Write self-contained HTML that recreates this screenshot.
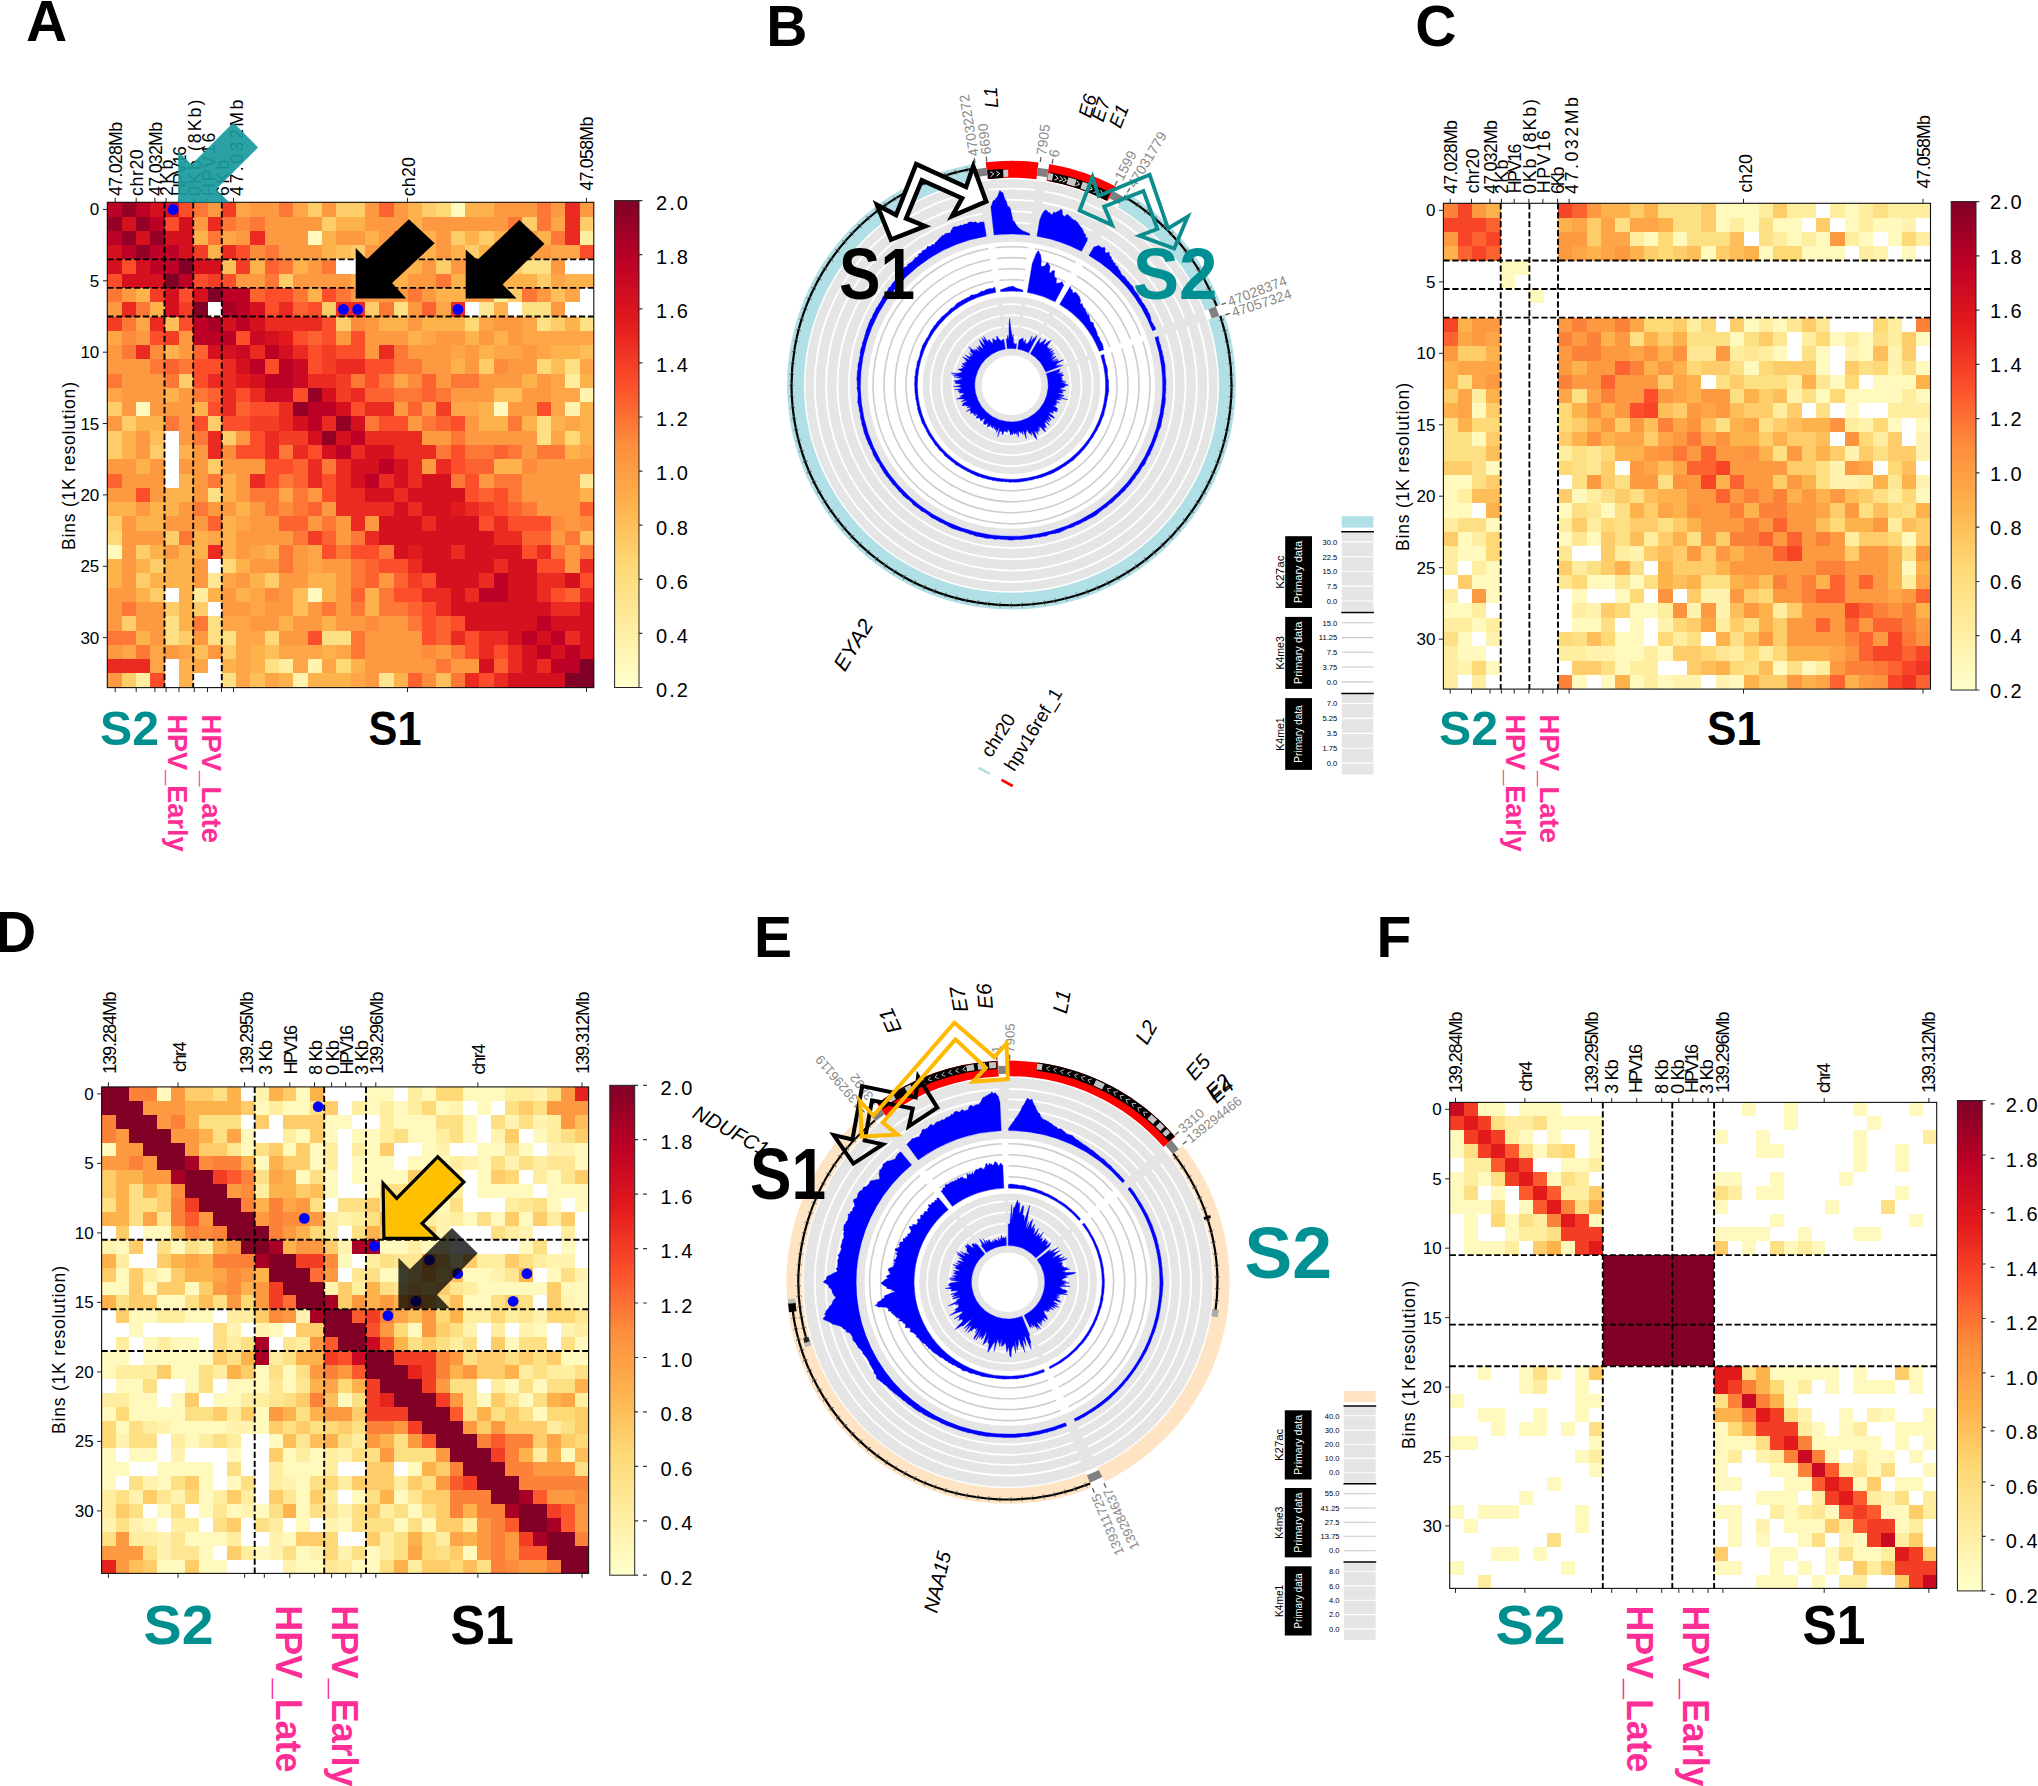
<!DOCTYPE html><html><head><meta charset="utf-8"><title>Figure</title><style>html,body{margin:0;padding:0;background:#fff}svg{display:block}text{font-family:"Liberation Sans",Arial,Helvetica,sans-serif}</style></head><body>
<svg xmlns="http://www.w3.org/2000/svg" width="2038" height="1786" viewBox="0 0 2038 1786">
<rect width="2038" height="1786" fill="#fff"/>
<text x="26" y="40.6" font-size="57" fill="#000" font-weight="bold">A</text>
<text x="766.2" y="45.8" font-size="57" fill="#000" font-weight="bold">B</text>
<text x="1415.3" y="45.8" font-size="57" fill="#000" font-weight="bold">C</text>
<text x="-4.9" y="952.1" font-size="57" fill="#000" font-weight="bold">D</text>
<text x="754.1" y="957.4" font-size="57" fill="#000" font-weight="bold">E</text>
<text x="1376.6" y="957.4" font-size="57" fill="#000" font-weight="bold">F</text>
<g shape-rendering="crispEdges">
<path fill="#bd0026" d="M107.3 202.3H121.6V216.6H107.3ZM135.9 202.3H150.2V216.6H135.9ZM150.2 216.6H164.5V230.8H150.2ZM107.3 230.8H121.6V245.1H107.3ZM121.6 245.1H135.9V259.4H121.6ZM150.2 245.1H164.5V259.4H150.2ZM164.5 245.1H178.8V259.4H164.5ZM150.2 259.4H164.5V273.7H150.2ZM164.5 259.4H178.8V273.7H164.5ZM178.8 273.7H193.2V287.9H178.8ZM221.8 287.9H236.1V302.2H221.8ZM236.1 287.9H250.4V302.2H236.1ZM236.1 302.2H250.4V316.5H236.1ZM193.2 316.5H207.5V330.8H193.2ZM236.1 316.5H250.4V330.8H236.1ZM193.2 330.8H207.5V345H193.2ZM207.5 330.8H221.8V345H207.5ZM221.8 330.8H236.1V345H221.8ZM264.7 345H279V359.3H264.7ZM250.4 359.3H264.7V373.6H250.4ZM279 359.3H293.3V373.6H279ZM264.7 373.6H279V387.9H264.7ZM279 373.6H293.3V387.9H279ZM307.6 402.1H321.9V416.4H307.6ZM321.9 402.1H336.2V416.4H321.9ZM307.6 416.4H321.9V430.7H307.6ZM350.6 430.7H364.9V445H350.6ZM336.2 445H350.6V459.2H336.2ZM379.2 459.2H393.5V473.5H379.2ZM364.9 473.5H379.2V487.8H364.9ZM493.6 573.4H507.9V587.7H493.6ZM479.3 587.7H493.6V602H479.3ZM493.6 587.7H507.9V602H493.6ZM536.6 616.2H550.9V630.5H536.6ZM522.3 630.5H536.6V644.8H522.3ZM550.9 630.5H565.2V644.8H550.9ZM536.6 644.8H550.9V659.1H536.6ZM565.2 644.8H579.5V659.1H565.2ZM550.9 659.1H565.2V673.3H550.9ZM565.2 659.1H579.5V673.3H565.2Z"/>
<path fill="#940026" d="M121.6 202.3H135.9V216.6H121.6ZM107.3 216.6H121.6V230.8H107.3ZM135.9 216.6H150.2V230.8H135.9ZM121.6 230.8H135.9V245.1H121.6ZM150.2 230.8H164.5V245.1H150.2ZM135.9 245.1H150.2V259.4H135.9ZM307.6 387.9H321.9V402.1H307.6ZM293.3 402.1H307.6V416.4H293.3ZM336.2 416.4H350.6V430.7H336.2ZM321.9 430.7H336.2V445H321.9Z"/>
<path fill="#d6111f" d="M150.2 202.3H164.5V216.6H150.2ZM164.5 202.3H178.8V216.6H164.5ZM121.6 216.6H135.9V230.8H121.6ZM178.8 216.6H193.2V230.8H178.8ZM135.9 230.8H150.2V245.1H135.9ZM164.5 230.8H178.8V245.1H164.5ZM178.8 230.8H193.2V245.1H178.8ZM107.3 245.1H121.6V259.4H107.3ZM178.8 245.1H193.2V259.4H178.8ZM107.3 259.4H121.6V273.7H107.3ZM135.9 259.4H150.2V273.7H135.9ZM193.2 259.4H207.5V273.7H193.2ZM207.5 259.4H221.8V273.7H207.5ZM121.6 273.7H135.9V287.9H121.6ZM135.9 273.7H150.2V287.9H135.9ZM150.2 273.7H164.5V287.9H150.2ZM164.5 287.9H178.8V302.2H164.5ZM193.2 287.9H207.5V302.2H193.2ZM164.5 302.2H178.8V316.5H164.5ZM250.4 302.2H264.7V316.5H250.4ZM221.8 316.5H236.1V330.8H221.8ZM250.4 316.5H264.7V330.8H250.4ZM264.7 330.8H279V345H264.7ZM207.5 345H221.8V359.3H207.5ZM221.8 345H236.1V359.3H221.8ZM279 345H293.3V359.3H279ZM236.1 359.3H250.4V373.6H236.1ZM250.4 373.6H264.7V387.9H250.4ZM321.9 387.9H336.2V402.1H321.9ZM336.2 402.1H350.6V416.4H336.2ZM293.3 416.4H307.6V430.7H293.3ZM350.6 416.4H364.9V430.7H350.6ZM307.6 430.7H321.9V445H307.6ZM336.2 430.7H350.6V445H336.2ZM321.9 445H336.2V459.2H321.9ZM364.9 445H379.2V459.2H364.9ZM379.2 445H393.5V459.2H379.2ZM350.6 459.2H364.9V473.5H350.6ZM364.9 459.2H379.2V473.5H364.9ZM393.5 459.2H407.8V473.5H393.5ZM350.6 473.5H364.9V487.8H350.6ZM393.5 473.5H407.8V487.8H393.5ZM422.1 473.5H436.4V487.8H422.1ZM436.4 473.5H450.7V487.8H436.4ZM364.9 487.8H379.2V502H364.9ZM379.2 487.8H393.5V502H379.2ZM407.8 487.8H422.1V502H407.8ZM422.1 487.8H436.4V502H422.1ZM436.4 487.8H450.7V502H436.4ZM450.7 487.8H465V502H450.7ZM393.5 502H407.8V516.3H393.5ZM422.1 502H436.4V516.3H422.1ZM436.4 502H450.7V516.3H436.4ZM379.2 516.3H393.5V530.6H379.2ZM393.5 516.3H407.8V530.6H393.5ZM407.8 516.3H422.1V530.6H407.8ZM436.4 516.3H450.7V530.6H436.4ZM450.7 516.3H465V530.6H450.7ZM465 516.3H479.3V530.6H465ZM379.2 530.6H393.5V544.9H379.2ZM393.5 530.6H407.8V544.9H393.5ZM407.8 530.6H422.1V544.9H407.8ZM422.1 530.6H436.4V544.9H422.1ZM436.4 530.6H450.7V544.9H436.4ZM450.7 530.6H465V544.9H450.7ZM465 530.6H479.3V544.9H465ZM479.3 530.6H493.6V544.9H479.3ZM393.5 544.9H407.8V559.1H393.5ZM422.1 544.9H436.4V559.1H422.1ZM436.4 544.9H450.7V559.1H436.4ZM465 544.9H479.3V559.1H465ZM479.3 544.9H493.6V559.1H479.3ZM493.6 544.9H507.9V559.1H493.6ZM507.9 544.9H522.3V559.1H507.9ZM422.1 559.1H436.4V573.4H422.1ZM436.4 559.1H450.7V573.4H436.4ZM450.7 559.1H465V573.4H450.7ZM465 559.1H479.3V573.4H465ZM479.3 559.1H493.6V573.4H479.3ZM507.9 559.1H522.3V573.4H507.9ZM522.3 559.1H536.6V573.4H522.3ZM436.4 573.4H450.7V587.7H436.4ZM450.7 573.4H465V587.7H450.7ZM465 573.4H479.3V587.7H465ZM507.9 573.4H522.3V587.7H507.9ZM522.3 573.4H536.6V587.7H522.3ZM565.2 573.4H579.5V587.7H565.2ZM450.7 587.7H465V602H450.7ZM507.9 587.7H522.3V602H507.9ZM522.3 587.7H536.6V602H522.3ZM450.7 602H465V616.2H450.7ZM465 602H479.3V616.2H465ZM479.3 602H493.6V616.2H479.3ZM493.6 602H507.9V616.2H493.6ZM507.9 602H522.3V616.2H507.9ZM522.3 602H536.6V616.2H522.3ZM536.6 602H550.9V616.2H536.6ZM579.5 602H593.8V616.2H579.5ZM465 616.2H479.3V630.5H465ZM479.3 616.2H493.6V630.5H479.3ZM493.6 616.2H507.9V630.5H493.6ZM507.9 616.2H522.3V630.5H507.9ZM522.3 616.2H536.6V630.5H522.3ZM550.9 616.2H565.2V630.5H550.9ZM565.2 616.2H579.5V630.5H565.2ZM579.5 616.2H593.8V630.5H579.5ZM507.9 630.5H522.3V644.8H507.9ZM536.6 630.5H550.9V644.8H536.6ZM579.5 630.5H593.8V644.8H579.5ZM522.3 644.8H536.6V659.1H522.3ZM550.9 644.8H565.2V659.1H550.9ZM579.5 644.8H593.8V659.1H579.5ZM479.3 659.1H493.6V673.3H479.3ZM522.3 659.1H536.6V673.3H522.3ZM507.9 673.3H522.3V687.6H507.9ZM522.3 673.3H536.6V687.6H522.3ZM536.6 673.3H550.9V687.6H536.6ZM550.9 673.3H565.2V687.6H550.9Z"/>
<path fill="#fc4e2a" d="M178.8 202.3H193.2V216.6H178.8ZM164.5 216.6H178.8V230.8H164.5ZM393.5 230.8H407.8V245.1H393.5ZM236.1 245.1H250.4V259.4H236.1ZM579.5 245.1H593.8V259.4H579.5ZM121.6 259.4H135.9V273.7H121.6ZM107.3 273.7H121.6V287.9H107.3ZM193.2 273.7H207.5V287.9H193.2ZM221.8 273.7H236.1V287.9H221.8ZM178.8 287.9H193.2V302.2H178.8ZM264.7 287.9H279V302.2H264.7ZM279 287.9H293.3V302.2H279ZM321.9 287.9H336.2V302.2H321.9ZM264.7 302.2H279V316.5H264.7ZM307.6 302.2H321.9V316.5H307.6ZM178.8 316.5H193.2V330.8H178.8ZM321.9 316.5H336.2V330.8H321.9ZM150.2 330.8H164.5V345H150.2ZM236.1 330.8H250.4V345H236.1ZM293.3 330.8H307.6V345H293.3ZM321.9 330.8H336.2V345H321.9ZM350.6 330.8H364.9V345H350.6ZM307.6 345H321.9V359.3H307.6ZM336.2 345H350.6V359.3H336.2ZM350.6 345H364.9V359.3H350.6ZM193.2 359.3H207.5V373.6H193.2ZM207.5 359.3H221.8V373.6H207.5ZM264.7 359.3H279V373.6H264.7ZM307.6 359.3H321.9V373.6H307.6ZM364.9 359.3H379.2V373.6H364.9ZM379.2 359.3H393.5V373.6H379.2ZM193.2 373.6H207.5V387.9H193.2ZM364.9 373.6H379.2V387.9H364.9ZM236.1 387.9H250.4V402.1H236.1ZM293.3 387.9H307.6V402.1H293.3ZM207.5 402.1H221.8V416.4H207.5ZM250.4 402.1H264.7V416.4H250.4ZM264.7 402.1H279V416.4H264.7ZM350.6 402.1H364.9V416.4H350.6ZM536.6 402.1H550.9V416.4H536.6ZM193.2 416.4H207.5V430.7H193.2ZM221.8 416.4H236.1V430.7H221.8ZM236.1 416.4H250.4V430.7H236.1ZM379.2 416.4H393.5V430.7H379.2ZM393.5 416.4H407.8V430.7H393.5ZM450.7 416.4H465V430.7H450.7ZM250.4 430.7H264.7V445H250.4ZM236.1 445H250.4V459.2H236.1ZM250.4 445H264.7V459.2H250.4ZM307.6 445H321.9V459.2H307.6ZM450.7 445H465V459.2H450.7ZM264.7 459.2H279V473.5H264.7ZM279 459.2H293.3V473.5H279ZM450.7 459.2H465V473.5H450.7ZM264.7 473.5H279V487.8H264.7ZM321.9 473.5H336.2V487.8H321.9ZM465 473.5H479.3V487.8H465ZM135.9 487.8H150.2V502H135.9ZM321.9 487.8H336.2V502H321.9ZM465 487.8H479.3V502H465ZM493.6 487.8H507.9V502H493.6ZM493.6 502H507.9V516.3H493.6ZM479.3 516.3H493.6V530.6H479.3ZM507.9 516.3H522.3V530.6H507.9ZM522.3 516.3H536.6V530.6H522.3ZM536.6 516.3H550.9V530.6H536.6ZM321.9 544.9H336.2V559.1H321.9ZM350.6 544.9H364.9V559.1H350.6ZM364.9 544.9H379.2V559.1H364.9ZM522.3 544.9H536.6V559.1H522.3ZM379.2 559.1H393.5V573.4H379.2ZM393.5 559.1H407.8V573.4H393.5ZM536.6 559.1H550.9V573.4H536.6ZM550.9 559.1H565.2V573.4H550.9ZM422.1 573.4H436.4V587.7H422.1ZM579.5 573.4H593.8V587.7H579.5ZM393.5 587.7H407.8V602H393.5ZM407.8 587.7H422.1V602H407.8ZM550.9 587.7H565.2V602H550.9ZM422.1 602H436.4V616.2H422.1ZM422.1 616.2H436.4V630.5H422.1ZM450.7 616.2H465V630.5H450.7ZM307.6 630.5H321.9V644.8H307.6ZM422.1 630.5H436.4V644.8H422.1ZM465 630.5H479.3V644.8H465ZM465 644.8H479.3V659.1H465ZM493.6 644.8H507.9V659.1H493.6ZM150.2 673.3H164.5V687.6H150.2ZM479.3 673.3H493.6V687.6H479.3Z"/>
<path fill="#fd7836" d="M193.2 202.3H207.5V216.6H193.2ZM279 202.3H293.3V216.6H279ZM536.6 202.3H550.9V216.6H536.6ZM221.8 216.6H236.1V230.8H221.8ZM250.4 216.6H264.7V230.8H250.4ZM507.9 216.6H522.3V230.8H507.9ZM536.6 216.6H550.9V230.8H536.6ZM207.5 230.8H221.8V245.1H207.5ZM550.9 230.8H565.2V245.1H550.9ZM264.7 245.1H279V259.4H264.7ZM279 259.4H293.3V273.7H279ZM321.9 259.4H336.2V273.7H321.9ZM264.7 273.7H279V287.9H264.7ZM436.4 273.7H450.7V287.9H436.4ZM107.3 287.9H121.6V302.2H107.3ZM293.3 287.9H307.6V302.2H293.3ZM336.2 287.9H350.6V302.2H336.2ZM407.8 287.9H422.1V302.2H407.8ZM522.3 287.9H536.6V302.2H522.3ZM135.9 302.2H150.2V316.5H135.9ZM379.2 302.2H393.5V316.5H379.2ZM121.6 316.5H135.9V330.8H121.6ZM121.6 345H135.9V359.3H121.6ZM393.5 345H407.8V359.3H393.5ZM150.2 359.3H164.5V373.6H150.2ZM178.8 359.3H193.2V373.6H178.8ZM393.5 359.3H407.8V373.6H393.5ZM407.8 359.3H422.1V373.6H407.8ZM107.3 373.6H121.6V387.9H107.3ZM164.5 373.6H178.8V387.9H164.5ZM350.6 373.6H364.9V387.9H350.6ZM379.2 373.6H393.5V387.9H379.2ZM450.7 373.6H465V387.9H450.7ZM465 373.6H479.3V387.9H465ZM193.2 387.9H207.5V402.1H193.2ZM393.5 387.9H407.8V402.1H393.5ZM407.8 387.9H422.1V402.1H407.8ZM436.4 387.9H450.7V402.1H436.4ZM164.5 416.4H178.8V430.7H164.5ZM364.9 416.4H379.2V430.7H364.9ZM422.1 416.4H436.4V430.7H422.1ZM507.9 416.4H522.3V430.7H507.9ZM193.2 430.7H207.5V445H193.2ZM450.7 430.7H465V445H450.7ZM279 445H293.3V459.2H279ZM436.4 445H450.7V459.2H436.4ZM465 445H479.3V459.2H465ZM479.3 445H493.6V459.2H479.3ZM507.9 445H522.3V459.2H507.9ZM536.6 445H550.9V459.2H536.6ZM550.9 445H565.2V459.2H550.9ZM321.9 459.2H336.2V473.5H321.9ZM207.5 473.5H221.8V487.8H207.5ZM279 473.5H293.3V487.8H279ZM450.7 473.5H465V487.8H450.7ZM493.6 473.5H507.9V487.8H493.6ZM507.9 473.5H522.3V487.8H507.9ZM250.4 487.8H264.7V502H250.4ZM264.7 487.8H279V502H264.7ZM293.3 487.8H307.6V502H293.3ZM507.9 487.8H522.3V502H507.9ZM193.2 502H207.5V516.3H193.2ZM264.7 502H279V516.3H264.7ZM293.3 502H307.6V516.3H293.3ZM522.3 502H536.6V516.3H522.3ZM321.9 516.3H336.2V530.6H321.9ZM178.8 530.6H193.2V544.9H178.8ZM293.3 530.6H307.6V544.9H293.3ZM350.6 530.6H364.9V544.9H350.6ZM565.2 530.6H579.5V544.9H565.2ZM279 544.9H293.3V559.1H279ZM336.2 544.9H350.6V559.1H336.2ZM379.2 544.9H393.5V559.1H379.2ZM550.9 544.9H565.2V559.1H550.9ZM579.5 544.9H593.8V559.1H579.5ZM279 559.1H293.3V573.4H279ZM350.6 559.1H364.9V573.4H350.6ZM350.6 573.4H364.9V587.7H350.6ZM379.2 587.7H393.5V602H379.2ZM121.6 602H135.9V616.2H121.6ZM321.9 602H336.2V616.2H321.9ZM350.6 602H364.9V616.2H350.6ZM379.2 602H393.5V616.2H379.2ZM393.5 602H407.8V616.2H393.5ZM193.2 616.2H207.5V630.5H193.2ZM407.8 616.2H422.1V630.5H407.8ZM107.3 630.5H121.6V644.8H107.3ZM121.6 630.5H135.9V644.8H121.6ZM350.6 630.5H364.9V644.8H350.6ZM135.9 644.8H150.2V659.1H135.9ZM350.6 644.8H364.9V659.1H350.6ZM450.7 644.8H465V659.1H450.7ZM436.4 659.1H450.7V673.3H436.4ZM450.7 673.3H465V687.6H450.7Z"/>
<path fill="#fd9941" d="M207.5 202.3H221.8V216.6H207.5ZM250.4 202.3H264.7V216.6H250.4ZM264.7 202.3H279V216.6H264.7ZM321.9 202.3H336.2V216.6H321.9ZM364.9 202.3H379.2V216.6H364.9ZM393.5 202.3H407.8V216.6H393.5ZM493.6 202.3H507.9V216.6H493.6ZM507.9 202.3H522.3V216.6H507.9ZM522.3 202.3H536.6V216.6H522.3ZM550.9 202.3H565.2V216.6H550.9ZM579.5 202.3H593.8V216.6H579.5ZM193.2 216.6H207.5V230.8H193.2ZM264.7 216.6H279V230.8H264.7ZM279 216.6H293.3V230.8H279ZM293.3 216.6H307.6V230.8H293.3ZM307.6 216.6H321.9V230.8H307.6ZM364.9 216.6H379.2V230.8H364.9ZM379.2 216.6H393.5V230.8H379.2ZM393.5 216.6H407.8V230.8H393.5ZM422.1 216.6H436.4V230.8H422.1ZM436.4 216.6H450.7V230.8H436.4ZM450.7 216.6H465V230.8H450.7ZM465 216.6H479.3V230.8H465ZM479.3 216.6H493.6V230.8H479.3ZM493.6 216.6H507.9V230.8H493.6ZM236.1 230.8H250.4V245.1H236.1ZM264.7 230.8H279V245.1H264.7ZM279 230.8H293.3V245.1H279ZM293.3 230.8H307.6V245.1H293.3ZM336.2 230.8H350.6V245.1H336.2ZM350.6 230.8H364.9V245.1H350.6ZM379.2 230.8H393.5V245.1H379.2ZM407.8 230.8H422.1V245.1H407.8ZM436.4 230.8H450.7V245.1H436.4ZM507.9 230.8H522.3V245.1H507.9ZM522.3 230.8H536.6V245.1H522.3ZM279 245.1H293.3V259.4H279ZM293.3 245.1H307.6V259.4H293.3ZM307.6 245.1H321.9V259.4H307.6ZM364.9 245.1H379.2V259.4H364.9ZM379.2 245.1H393.5V259.4H379.2ZM393.5 245.1H407.8V259.4H393.5ZM436.4 245.1H450.7V259.4H436.4ZM507.9 245.1H522.3V259.4H507.9ZM522.3 245.1H536.6V259.4H522.3ZM536.6 245.1H550.9V259.4H536.6ZM307.6 259.4H321.9V273.7H307.6ZM422.1 259.4H436.4V273.7H422.1ZM450.7 259.4H465V273.7H450.7ZM550.9 259.4H565.2V273.7H550.9ZM236.1 273.7H250.4V287.9H236.1ZM250.4 273.7H264.7V287.9H250.4ZM293.3 273.7H307.6V287.9H293.3ZM307.6 273.7H321.9V287.9H307.6ZM321.9 273.7H336.2V287.9H321.9ZM336.2 273.7H350.6V287.9H336.2ZM364.9 273.7H379.2V287.9H364.9ZM407.8 273.7H422.1V287.9H407.8ZM422.1 273.7H436.4V287.9H422.1ZM121.6 287.9H135.9V302.2H121.6ZM350.6 287.9H364.9V302.2H350.6ZM364.9 287.9H379.2V302.2H364.9ZM379.2 287.9H393.5V302.2H379.2ZM393.5 287.9H407.8V302.2H393.5ZM422.1 287.9H436.4V302.2H422.1ZM465 287.9H479.3V302.2H465ZM479.3 287.9H493.6V302.2H479.3ZM536.6 287.9H550.9V302.2H536.6ZM107.3 302.2H121.6V316.5H107.3ZM407.8 302.2H422.1V316.5H407.8ZM550.9 302.2H565.2V316.5H550.9ZM364.9 316.5H379.2V330.8H364.9ZM407.8 316.5H422.1V330.8H407.8ZM493.6 316.5H507.9V330.8H493.6ZM507.9 316.5H522.3V330.8H507.9ZM135.9 330.8H150.2V345H135.9ZM178.8 330.8H193.2V345H178.8ZM336.2 330.8H350.6V345H336.2ZM364.9 330.8H379.2V345H364.9ZM379.2 330.8H393.5V345H379.2ZM393.5 330.8H407.8V345H393.5ZM436.4 330.8H450.7V345H436.4ZM450.7 330.8H465V345H450.7ZM479.3 330.8H493.6V345H479.3ZM507.9 330.8H522.3V345H507.9ZM107.3 345H121.6V359.3H107.3ZM178.8 345H193.2V359.3H178.8ZM364.9 345H379.2V359.3H364.9ZM407.8 345H422.1V359.3H407.8ZM422.1 345H436.4V359.3H422.1ZM436.4 345H450.7V359.3H436.4ZM465 345H479.3V359.3H465ZM522.3 345H536.6V359.3H522.3ZM107.3 359.3H121.6V373.6H107.3ZM121.6 359.3H135.9V373.6H121.6ZM135.9 359.3H150.2V373.6H135.9ZM422.1 359.3H436.4V373.6H422.1ZM436.4 359.3H450.7V373.6H436.4ZM465 359.3H479.3V373.6H465ZM507.9 359.3H522.3V373.6H507.9ZM522.3 359.3H536.6V373.6H522.3ZM121.6 373.6H135.9V387.9H121.6ZM135.9 373.6H150.2V387.9H135.9ZM150.2 373.6H164.5V387.9H150.2ZM436.4 373.6H450.7V387.9H436.4ZM479.3 373.6H493.6V387.9H479.3ZM493.6 373.6H507.9V387.9H493.6ZM507.9 373.6H522.3V387.9H507.9ZM536.6 373.6H550.9V387.9H536.6ZM121.6 387.9H135.9V402.1H121.6ZM135.9 387.9H150.2V402.1H135.9ZM150.2 387.9H164.5V402.1H150.2ZM178.8 387.9H193.2V402.1H178.8ZM450.7 387.9H465V402.1H450.7ZM465 387.9H479.3V402.1H465ZM479.3 387.9H493.6V402.1H479.3ZM522.3 387.9H536.6V402.1H522.3ZM536.6 387.9H550.9V402.1H536.6ZM121.6 402.1H135.9V416.4H121.6ZM150.2 402.1H164.5V416.4H150.2ZM164.5 402.1H178.8V416.4H164.5ZM178.8 402.1H193.2V416.4H178.8ZM393.5 402.1H407.8V416.4H393.5ZM422.1 402.1H436.4V416.4H422.1ZM507.9 402.1H522.3V416.4H507.9ZM522.3 402.1H536.6V416.4H522.3ZM107.3 416.4H121.6V430.7H107.3ZM178.8 416.4H193.2V430.7H178.8ZM407.8 416.4H422.1V430.7H407.8ZM465 416.4H479.3V430.7H465ZM135.9 430.7H150.2V445H135.9ZM178.8 430.7H193.2V445H178.8ZM236.1 430.7H250.4V445H236.1ZM422.1 430.7H436.4V445H422.1ZM436.4 430.7H450.7V445H436.4ZM465 430.7H479.3V445H465ZM479.3 430.7H493.6V445H479.3ZM493.6 430.7H507.9V445H493.6ZM507.9 430.7H522.3V445H507.9ZM522.3 430.7H536.6V445H522.3ZM135.9 445H150.2V459.2H135.9ZM193.2 445H207.5V459.2H193.2ZM522.3 445H536.6V459.2H522.3ZM107.3 459.2H121.6V473.5H107.3ZM121.6 459.2H135.9V473.5H121.6ZM150.2 459.2H164.5V473.5H150.2ZM178.8 459.2H193.2V473.5H178.8ZM193.2 459.2H207.5V473.5H193.2ZM221.8 459.2H236.1V473.5H221.8ZM236.1 459.2H250.4V473.5H236.1ZM250.4 459.2H264.7V473.5H250.4ZM422.1 459.2H436.4V473.5H422.1ZM536.6 459.2H550.9V473.5H536.6ZM550.9 459.2H565.2V473.5H550.9ZM565.2 459.2H579.5V473.5H565.2ZM579.5 459.2H593.8V473.5H579.5ZM121.6 473.5H135.9V487.8H121.6ZM135.9 473.5H150.2V487.8H135.9ZM150.2 473.5H164.5V487.8H150.2ZM193.2 473.5H207.5V487.8H193.2ZM236.1 473.5H250.4V487.8H236.1ZM479.3 473.5H493.6V487.8H479.3ZM522.3 473.5H536.6V487.8H522.3ZM536.6 473.5H550.9V487.8H536.6ZM550.9 473.5H565.2V487.8H550.9ZM565.2 473.5H579.5V487.8H565.2ZM107.3 487.8H121.6V502H107.3ZM121.6 487.8H135.9V502H121.6ZM150.2 487.8H164.5V502H150.2ZM193.2 487.8H207.5V502H193.2ZM236.1 487.8H250.4V502H236.1ZM307.6 487.8H321.9V502H307.6ZM522.3 487.8H536.6V502H522.3ZM536.6 487.8H550.9V502H536.6ZM550.9 487.8H565.2V502H550.9ZM565.2 487.8H579.5V502H565.2ZM135.9 502H150.2V516.3H135.9ZM178.8 502H193.2V516.3H178.8ZM207.5 502H221.8V516.3H207.5ZM221.8 502H236.1V516.3H221.8ZM250.4 502H264.7V516.3H250.4ZM321.9 502H336.2V516.3H321.9ZM536.6 502H550.9V516.3H536.6ZM550.9 502H565.2V516.3H550.9ZM565.2 502H579.5V516.3H565.2ZM121.6 516.3H135.9V530.6H121.6ZM164.5 516.3H178.8V530.6H164.5ZM178.8 516.3H193.2V530.6H178.8ZM193.2 516.3H207.5V530.6H193.2ZM250.4 516.3H264.7V530.6H250.4ZM264.7 516.3H279V530.6H264.7ZM307.6 516.3H321.9V530.6H307.6ZM336.2 516.3H350.6V530.6H336.2ZM364.9 516.3H379.2V530.6H364.9ZM565.2 516.3H579.5V530.6H565.2ZM121.6 530.6H135.9V544.9H121.6ZM135.9 530.6H150.2V544.9H135.9ZM150.2 530.6H164.5V544.9H150.2ZM236.1 530.6H250.4V544.9H236.1ZM250.4 530.6H264.7V544.9H250.4ZM264.7 530.6H279V544.9H264.7ZM279 530.6H293.3V544.9H279ZM336.2 530.6H350.6V544.9H336.2ZM550.9 530.6H565.2V544.9H550.9ZM121.6 544.9H135.9V559.1H121.6ZM164.5 544.9H178.8V559.1H164.5ZM236.1 544.9H250.4V559.1H236.1ZM293.3 544.9H307.6V559.1H293.3ZM565.2 544.9H579.5V559.1H565.2ZM121.6 559.1H135.9V573.4H121.6ZM193.2 559.1H207.5V573.4H193.2ZM250.4 559.1H264.7V573.4H250.4ZM264.7 559.1H279V573.4H264.7ZM293.3 559.1H307.6V573.4H293.3ZM321.9 559.1H336.2V573.4H321.9ZM336.2 559.1H350.6V573.4H336.2ZM565.2 559.1H579.5V573.4H565.2ZM121.6 573.4H135.9V587.7H121.6ZM193.2 573.4H207.5V587.7H193.2ZM236.1 573.4H250.4V587.7H236.1ZM279 573.4H293.3V587.7H279ZM293.3 573.4H307.6V587.7H293.3ZM336.2 573.4H350.6V587.7H336.2ZM379.2 573.4H393.5V587.7H379.2ZM107.3 587.7H121.6V602H107.3ZM121.6 587.7H135.9V602H121.6ZM221.8 587.7H236.1V602H221.8ZM279 587.7H293.3V602H279ZM336.2 587.7H350.6V602H336.2ZM107.3 602H121.6V616.2H107.3ZM135.9 602H150.2V616.2H135.9ZM150.2 602H164.5V616.2H150.2ZM221.8 602H236.1V616.2H221.8ZM236.1 602H250.4V616.2H236.1ZM264.7 602H279V616.2H264.7ZM279 602H293.3V616.2H279ZM307.6 602H321.9V616.2H307.6ZM336.2 602H350.6V616.2H336.2ZM107.3 616.2H121.6V630.5H107.3ZM135.9 616.2H150.2V630.5H135.9ZM150.2 616.2H164.5V630.5H150.2ZM250.4 616.2H264.7V630.5H250.4ZM264.7 616.2H279V630.5H264.7ZM293.3 616.2H307.6V630.5H293.3ZM307.6 616.2H321.9V630.5H307.6ZM336.2 616.2H350.6V630.5H336.2ZM350.6 616.2H364.9V630.5H350.6ZM379.2 616.2H393.5V630.5H379.2ZM393.5 616.2H407.8V630.5H393.5ZM150.2 630.5H164.5V644.8H150.2ZM193.2 630.5H207.5V644.8H193.2ZM279 630.5H293.3V644.8H279ZM293.3 630.5H307.6V644.8H293.3ZM364.9 630.5H379.2V644.8H364.9ZM379.2 630.5H393.5V644.8H379.2ZM393.5 630.5H407.8V644.8H393.5ZM407.8 630.5H422.1V644.8H407.8ZM107.3 644.8H121.6V659.1H107.3ZM164.5 644.8H178.8V659.1H164.5ZM207.5 644.8H221.8V659.1H207.5ZM364.9 644.8H379.2V659.1H364.9ZM379.2 644.8H393.5V659.1H379.2ZM393.5 644.8H407.8V659.1H393.5ZM407.8 644.8H422.1V659.1H407.8ZM436.4 644.8H450.7V659.1H436.4ZM364.9 659.1H379.2V673.3H364.9ZM379.2 659.1H393.5V673.3H379.2ZM393.5 659.1H407.8V673.3H393.5ZM407.8 659.1H422.1V673.3H407.8ZM422.1 659.1H436.4V673.3H422.1ZM450.7 659.1H465V673.3H450.7ZM465 659.1H479.3V673.3H465ZM107.3 673.3H121.6V687.6H107.3ZM364.9 673.3H379.2V687.6H364.9Z"/>
<path fill="#f43d25" d="M221.8 202.3H236.1V216.6H221.8ZM193.2 245.1H207.5V259.4H193.2ZM236.1 259.4H250.4V273.7H236.1ZM207.5 273.7H221.8V287.9H207.5ZM150.2 287.9H164.5V302.2H150.2ZM178.8 302.2H193.2V316.5H178.8ZM107.3 316.5H121.6V330.8H107.3ZM164.5 330.8H178.8V345H164.5ZM321.9 345H336.2V359.3H321.9ZM321.9 359.3H336.2V373.6H321.9ZM336.2 373.6H350.6V387.9H336.2ZM336.2 387.9H350.6V402.1H336.2ZM436.4 402.1H450.7V416.4H436.4ZM250.4 416.4H264.7V430.7H250.4ZM264.7 416.4H279V430.7H264.7ZM279 430.7H293.3V445H279ZM293.3 430.7H307.6V445H293.3ZM479.3 502H493.6V516.3H479.3ZM307.6 530.6H321.9V544.9H307.6ZM407.8 573.4H422.1V587.7H407.8Z"/>
<path fill="#fea647" d="M236.1 202.3H250.4V216.6H236.1ZM293.3 202.3H307.6V216.6H293.3ZM550.9 216.6H565.2V230.8H550.9ZM221.8 230.8H236.1V245.1H221.8ZM550.9 245.1H565.2V259.4H550.9ZM565.2 245.1H579.5V259.4H565.2ZM550.9 273.7H565.2V287.9H550.9ZM565.2 287.9H579.5V302.2H565.2ZM436.4 302.2H450.7V316.5H436.4ZM135.9 316.5H150.2V330.8H135.9ZM479.3 316.5H493.6V330.8H479.3ZM522.3 316.5H536.6V330.8H522.3ZM107.3 330.8H121.6V345H107.3ZM422.1 330.8H436.4V345H422.1ZM522.3 330.8H536.6V345H522.3ZM536.6 330.8H550.9V345H536.6ZM550.9 330.8H565.2V345H550.9ZM565.2 330.8H579.5V345H565.2ZM579.5 330.8H593.8V345H579.5ZM450.7 345H465V359.3H450.7ZM493.6 345H507.9V359.3H493.6ZM507.9 345H522.3V359.3H507.9ZM536.6 345H550.9V359.3H536.6ZM579.5 359.3H593.8V373.6H579.5ZM393.5 373.6H407.8V387.9H393.5ZM550.9 373.6H565.2V387.9H550.9ZM107.3 387.9H121.6V402.1H107.3ZM550.9 387.9H565.2V402.1H550.9ZM565.2 387.9H579.5V402.1H565.2ZM450.7 402.1H465V416.4H450.7ZM465 402.1H479.3V416.4H465ZM550.9 402.1H565.2V416.4H550.9ZM565.2 416.4H579.5V430.7H565.2ZM550.9 430.7H565.2V445H550.9ZM579.5 445H593.8V459.2H579.5ZM279 487.8H293.3V502H279ZM236.1 516.3H250.4V530.6H236.1ZM207.5 530.6H221.8V544.9H207.5ZM250.4 544.9H264.7V559.1H250.4ZM307.6 544.9H321.9V559.1H307.6ZM307.6 559.1H321.9V573.4H307.6ZM221.8 573.4H236.1V587.7H221.8ZM250.4 587.7H264.7V602H250.4ZM250.4 602H264.7V616.2H250.4ZM221.8 616.2H236.1V630.5H221.8ZM236.1 616.2H250.4V630.5H236.1ZM236.1 630.5H250.4V644.8H236.1ZM250.4 630.5H264.7V644.8H250.4ZM121.6 644.8H135.9V659.1H121.6ZM150.2 644.8H164.5V659.1H150.2ZM178.8 644.8H193.2V659.1H178.8ZM236.1 644.8H250.4V659.1H236.1ZM279 644.8H293.3V659.1H279ZM293.3 644.8H307.6V659.1H293.3ZM307.6 644.8H321.9V659.1H307.6ZM336.2 644.8H350.6V659.1H336.2ZM150.2 659.1H164.5V673.3H150.2ZM193.2 659.1H207.5V673.3H193.2ZM236.1 659.1H250.4V673.3H236.1ZM293.3 659.1H307.6V673.3H293.3ZM321.9 659.1H336.2V673.3H321.9ZM236.1 673.3H250.4V687.6H236.1ZM264.7 673.3H279V687.6H264.7ZM350.6 673.3H364.9V687.6H350.6Z"/>
<path fill="#fecc68" d="M307.6 202.3H321.9V216.6H307.6ZM336.2 202.3H350.6V216.6H336.2ZM350.6 202.3H364.9V216.6H350.6ZM422.1 202.3H436.4V216.6H422.1ZM321.9 216.6H336.2V230.8H321.9ZM522.3 216.6H536.6V230.8H522.3ZM579.5 216.6H593.8V230.8H579.5ZM450.7 230.8H465V245.1H450.7ZM479.3 230.8H493.6V245.1H479.3ZM350.6 245.1H364.9V259.4H350.6ZM465 245.1H479.3V259.4H465ZM493.6 245.1H507.9V259.4H493.6ZM436.4 259.4H450.7V273.7H436.4ZM507.9 259.4H522.3V273.7H507.9ZM279 273.7H293.3V287.9H279ZM536.6 273.7H550.9V287.9H536.6ZM507.9 287.9H522.3V302.2H507.9ZM321.9 302.2H336.2V316.5H321.9ZM364.9 302.2H379.2V316.5H364.9ZM336.2 316.5H350.6V330.8H336.2ZM550.9 316.5H565.2V330.8H550.9ZM479.3 359.3H493.6V373.6H479.3ZM178.8 373.6H193.2V387.9H178.8ZM107.3 402.1H121.6V416.4H107.3ZM121.6 416.4H135.9V430.7H121.6ZM207.5 416.4H221.8V430.7H207.5ZM107.3 430.7H121.6V445H107.3ZM221.8 430.7H236.1V445H221.8ZM107.3 445H121.6V459.2H107.3ZM150.2 445H164.5V459.2H150.2ZM207.5 459.2H221.8V473.5H207.5ZM107.3 516.3H121.6V530.6H107.3ZM164.5 530.6H178.8V544.9H164.5ZM135.9 544.9H150.2V559.1H135.9ZM150.2 559.1H164.5V573.4H150.2ZM135.9 573.4H150.2V587.7H135.9ZM264.7 573.4H279V587.7H264.7ZM150.2 587.7H164.5V602H150.2ZM164.5 602H178.8V616.2H164.5ZM193.2 602H207.5V616.2H193.2ZM121.6 616.2H135.9V630.5H121.6ZM178.8 630.5H193.2V644.8H178.8ZM221.8 644.8H236.1V659.1H221.8ZM121.6 673.3H135.9V687.6H121.6Z"/>
<path fill="#fc6330" d="M379.2 202.3H393.5V216.6H379.2ZM264.7 259.4H279V273.7H264.7ZM250.4 287.9H264.7V302.2H250.4ZM293.3 302.2H307.6V316.5H293.3ZM422.1 302.2H436.4V316.5H422.1ZM307.6 330.8H321.9V345H307.6ZM193.2 345H207.5V359.3H193.2ZM164.5 359.3H178.8V373.6H164.5ZM422.1 373.6H436.4V387.9H422.1ZM207.5 387.9H221.8V402.1H207.5ZM364.9 387.9H379.2V402.1H364.9ZM379.2 387.9H393.5V402.1H379.2ZM422.1 387.9H436.4V402.1H422.1ZM236.1 402.1H250.4V416.4H236.1ZM407.8 402.1H422.1V416.4H407.8ZM436.4 416.4H450.7V430.7H436.4ZM493.6 445H507.9V459.2H493.6ZM293.3 459.2H307.6V473.5H293.3ZM465 459.2H479.3V473.5H465ZM479.3 459.2H493.6V473.5H479.3ZM107.3 473.5H121.6V487.8H107.3ZM293.3 473.5H307.6V487.8H293.3ZM479.3 487.8H493.6V502H479.3ZM307.6 502H321.9V516.3H307.6ZM507.9 502H522.3V516.3H507.9ZM579.5 502H593.8V516.3H579.5ZM207.5 516.3H221.8V530.6H207.5ZM279 516.3H293.3V530.6H279ZM293.3 516.3H307.6V530.6H293.3ZM321.9 530.6H336.2V544.9H321.9ZM522.3 530.6H536.6V544.9H522.3ZM536.6 530.6H550.9V544.9H536.6ZM364.9 559.1H379.2V573.4H364.9ZM364.9 573.4H379.2V587.7H364.9ZM393.5 573.4H407.8V587.7H393.5ZM350.6 587.7H364.9V602H350.6ZM565.2 587.7H579.5V602H565.2ZM407.8 602H422.1V616.2H407.8ZM436.4 616.2H450.7V630.5H436.4ZM436.4 630.5H450.7V644.8H436.4ZM493.6 659.1H507.9V673.3H493.6ZM407.8 673.3H422.1V687.6H407.8Z"/>
<path fill="#feb24c" d="M407.8 202.3H422.1V216.6H407.8ZM465 202.3H479.3V216.6H465ZM479.3 202.3H493.6V216.6H479.3ZM336.2 216.6H350.6V230.8H336.2ZM350.6 216.6H364.9V230.8H350.6ZM407.8 216.6H422.1V230.8H407.8ZM193.2 230.8H207.5V245.1H193.2ZM321.9 230.8H336.2V245.1H321.9ZM364.9 230.8H379.2V245.1H364.9ZM422.1 230.8H436.4V245.1H422.1ZM465 230.8H479.3V245.1H465ZM493.6 230.8H507.9V245.1H493.6ZM536.6 230.8H550.9V245.1H536.6ZM207.5 245.1H221.8V259.4H207.5ZM321.9 245.1H336.2V259.4H321.9ZM407.8 245.1H422.1V259.4H407.8ZM422.1 245.1H436.4V259.4H422.1ZM450.7 245.1H465V259.4H450.7ZM479.3 245.1H493.6V259.4H479.3ZM250.4 259.4H264.7V273.7H250.4ZM293.3 259.4H307.6V273.7H293.3ZM393.5 259.4H407.8V273.7H393.5ZM407.8 259.4H422.1V273.7H407.8ZM465 259.4H479.3V273.7H465ZM479.3 259.4H493.6V273.7H479.3ZM350.6 273.7H364.9V287.9H350.6ZM379.2 273.7H393.5V287.9H379.2ZM393.5 273.7H407.8V287.9H393.5ZM450.7 273.7H465V287.9H450.7ZM465 273.7H479.3V287.9H465ZM479.3 273.7H493.6V287.9H479.3ZM493.6 273.7H507.9V287.9H493.6ZM507.9 273.7H522.3V287.9H507.9ZM522.3 273.7H536.6V287.9H522.3ZM565.2 273.7H579.5V287.9H565.2ZM579.5 273.7H593.8V287.9H579.5ZM135.9 287.9H150.2V302.2H135.9ZM307.6 287.9H321.9V302.2H307.6ZM436.4 287.9H450.7V302.2H436.4ZM450.7 287.9H465V302.2H450.7ZM150.2 302.2H164.5V316.5H150.2ZM493.6 302.2H507.9V316.5H493.6ZM379.2 316.5H393.5V330.8H379.2ZM393.5 316.5H407.8V330.8H393.5ZM422.1 316.5H436.4V330.8H422.1ZM436.4 316.5H450.7V330.8H436.4ZM450.7 316.5H465V330.8H450.7ZM565.2 316.5H579.5V330.8H565.2ZM407.8 330.8H422.1V345H407.8ZM465 330.8H479.3V345H465ZM493.6 330.8H507.9V345H493.6ZM164.5 345H178.8V359.3H164.5ZM479.3 345H493.6V359.3H479.3ZM550.9 345H565.2V359.3H550.9ZM565.2 345H579.5V359.3H565.2ZM450.7 359.3H465V373.6H450.7ZM522.3 373.6H536.6V387.9H522.3ZM579.5 373.6H593.8V387.9H579.5ZM164.5 387.9H178.8V402.1H164.5ZM193.2 402.1H207.5V416.4H193.2ZM479.3 402.1H493.6V416.4H479.3ZM579.5 402.1H593.8V416.4H579.5ZM135.9 416.4H150.2V430.7H135.9ZM150.2 416.4H164.5V430.7H150.2ZM479.3 416.4H493.6V430.7H479.3ZM493.6 416.4H507.9V430.7H493.6ZM522.3 416.4H536.6V430.7H522.3ZM550.9 416.4H565.2V430.7H550.9ZM579.5 416.4H593.8V430.7H579.5ZM121.6 430.7H135.9V445H121.6ZM579.5 430.7H593.8V445H579.5ZM121.6 445H135.9V459.2H121.6ZM178.8 445H193.2V459.2H178.8ZM565.2 445H579.5V459.2H565.2ZM135.9 459.2H150.2V473.5H135.9ZM493.6 459.2H507.9V473.5H493.6ZM507.9 459.2H522.3V473.5H507.9ZM178.8 473.5H193.2V487.8H178.8ZM221.8 473.5H236.1V487.8H221.8ZM164.5 487.8H178.8V502H164.5ZM178.8 487.8H193.2V502H178.8ZM221.8 487.8H236.1V502H221.8ZM579.5 487.8H593.8V502H579.5ZM107.3 502H121.6V516.3H107.3ZM121.6 502H135.9V516.3H121.6ZM150.2 502H164.5V516.3H150.2ZM164.5 502H178.8V516.3H164.5ZM236.1 502H250.4V516.3H236.1ZM135.9 516.3H150.2V530.6H135.9ZM150.2 516.3H164.5V530.6H150.2ZM221.8 516.3H236.1V530.6H221.8ZM193.2 530.6H207.5V544.9H193.2ZM221.8 530.6H236.1V544.9H221.8ZM150.2 544.9H164.5V559.1H150.2ZM178.8 544.9H193.2V559.1H178.8ZM193.2 544.9H207.5V559.1H193.2ZM221.8 544.9H236.1V559.1H221.8ZM264.7 544.9H279V559.1H264.7ZM107.3 559.1H121.6V573.4H107.3ZM135.9 559.1H150.2V573.4H135.9ZM164.5 559.1H178.8V573.4H164.5ZM178.8 559.1H193.2V573.4H178.8ZM236.1 559.1H250.4V573.4H236.1ZM107.3 573.4H121.6V587.7H107.3ZM150.2 573.4H164.5V587.7H150.2ZM164.5 573.4H178.8V587.7H164.5ZM178.8 573.4H193.2V587.7H178.8ZM250.4 573.4H264.7V587.7H250.4ZM307.6 573.4H321.9V587.7H307.6ZM321.9 573.4H336.2V587.7H321.9ZM135.9 587.7H150.2V602H135.9ZM178.8 587.7H193.2V602H178.8ZM207.5 587.7H221.8V602H207.5ZM236.1 587.7H250.4V602H236.1ZM321.9 587.7H336.2V602H321.9ZM364.9 587.7H379.2V602H364.9ZM178.8 602H193.2V616.2H178.8ZM364.9 602H379.2V616.2H364.9ZM178.8 616.2H193.2V630.5H178.8ZM279 616.2H293.3V630.5H279ZM321.9 616.2H336.2V630.5H321.9ZM135.9 630.5H150.2V644.8H135.9ZM250.4 644.8H264.7V659.1H250.4ZM321.9 644.8H336.2V659.1H321.9ZM178.8 659.1H193.2V673.3H178.8ZM221.8 659.1H236.1V673.3H221.8ZM250.4 659.1H264.7V673.3H250.4ZM350.6 659.1H364.9V673.3H350.6ZM178.8 673.3H193.2V687.6H178.8ZM279 673.3H293.3V687.6H279ZM307.6 673.3H321.9V687.6H307.6ZM321.9 673.3H336.2V687.6H321.9ZM336.2 673.3H350.6V687.6H336.2ZM393.5 673.3H407.8V687.6H393.5Z"/>
<path fill="#fed976" d="M436.4 202.3H450.7V216.6H436.4ZM465 316.5H479.3V330.8H465ZM536.6 359.3H550.9V373.6H536.6ZM565.2 430.7H579.5V445H565.2ZM107.3 530.6H121.6V544.9H107.3ZM221.8 559.1H236.1V573.4H221.8ZM264.7 630.5H279V644.8H264.7ZM336.2 659.1H350.6V673.3H336.2Z"/>
<path fill="#fff9bd" d="M450.7 202.3H465V216.6H450.7ZM307.6 230.8H321.9V245.1H307.6ZM135.9 402.1H150.2V416.4H135.9ZM493.6 402.1H507.9V416.4H493.6ZM107.3 544.9H121.6V559.1H107.3ZM307.6 587.7H321.9V602H307.6Z"/>
<path fill="#eb2b21" d="M565.2 202.3H579.5V216.6H565.2ZM207.5 216.6H221.8V230.8H207.5ZM565.2 216.6H579.5V230.8H565.2ZM250.4 230.8H264.7V245.1H250.4ZM565.2 230.8H579.5V245.1H565.2ZM221.8 245.1H236.1V259.4H221.8ZM121.6 302.2H135.9V316.5H121.6ZM279 302.2H293.3V316.5H279ZM336.2 302.2H350.6V316.5H336.2ZM350.6 302.2H364.9V316.5H350.6ZM450.7 302.2H465V316.5H450.7ZM150.2 316.5H164.5V330.8H150.2ZM264.7 316.5H279V330.8H264.7ZM279 316.5H293.3V330.8H279ZM293.3 316.5H307.6V330.8H293.3ZM307.6 316.5H321.9V330.8H307.6ZM135.9 345H150.2V359.3H135.9ZM250.4 345H264.7V359.3H250.4ZM293.3 345H307.6V359.3H293.3ZM379.2 345H393.5V359.3H379.2ZM221.8 359.3H236.1V373.6H221.8ZM336.2 359.3H350.6V373.6H336.2ZM350.6 359.3H364.9V373.6H350.6ZM207.5 373.6H221.8V387.9H207.5ZM221.8 373.6H236.1V387.9H221.8ZM307.6 373.6H321.9V387.9H307.6ZM321.9 373.6H336.2V387.9H321.9ZM221.8 387.9H236.1V402.1H221.8ZM250.4 387.9H264.7V402.1H250.4ZM350.6 387.9H364.9V402.1H350.6ZM221.8 402.1H236.1V416.4H221.8ZM279 402.1H293.3V416.4H279ZM364.9 402.1H379.2V416.4H364.9ZM379.2 402.1H393.5V416.4H379.2ZM279 416.4H293.3V430.7H279ZM321.9 416.4H336.2V430.7H321.9ZM207.5 430.7H221.8V445H207.5ZM264.7 430.7H279V445H264.7ZM364.9 430.7H379.2V445H364.9ZM379.2 430.7H393.5V445H379.2ZM393.5 430.7H407.8V445H393.5ZM407.8 430.7H422.1V445H407.8ZM207.5 445H221.8V459.2H207.5ZM264.7 445H279V459.2H264.7ZM293.3 445H307.6V459.2H293.3ZM350.6 445H364.9V459.2H350.6ZM393.5 445H407.8V459.2H393.5ZM407.8 445H422.1V459.2H407.8ZM422.1 445H436.4V459.2H422.1ZM307.6 459.2H321.9V473.5H307.6ZM336.2 459.2H350.6V473.5H336.2ZM407.8 459.2H422.1V473.5H407.8ZM436.4 459.2H450.7V473.5H436.4ZM250.4 473.5H264.7V487.8H250.4ZM307.6 473.5H321.9V487.8H307.6ZM336.2 473.5H350.6V487.8H336.2ZM379.2 473.5H393.5V487.8H379.2ZM407.8 473.5H422.1V487.8H407.8ZM336.2 487.8H350.6V502H336.2ZM350.6 487.8H364.9V502H350.6ZM393.5 487.8H407.8V502H393.5ZM336.2 502H350.6V516.3H336.2ZM350.6 502H364.9V516.3H350.6ZM364.9 502H379.2V516.3H364.9ZM379.2 502H393.5V516.3H379.2ZM407.8 502H422.1V516.3H407.8ZM465 502H479.3V516.3H465ZM350.6 516.3H364.9V530.6H350.6ZM422.1 516.3H436.4V530.6H422.1ZM493.6 516.3H507.9V530.6H493.6ZM364.9 530.6H379.2V544.9H364.9ZM493.6 530.6H507.9V544.9H493.6ZM507.9 530.6H522.3V544.9H507.9ZM207.5 544.9H221.8V559.1H207.5ZM450.7 544.9H465V559.1H450.7ZM536.6 544.9H550.9V559.1H536.6ZM407.8 559.1H422.1V573.4H407.8ZM493.6 559.1H507.9V573.4H493.6ZM579.5 559.1H593.8V573.4H579.5ZM479.3 573.4H493.6V587.7H479.3ZM536.6 573.4H550.9V587.7H536.6ZM550.9 573.4H565.2V587.7H550.9ZM422.1 587.7H436.4V602H422.1ZM436.4 587.7H450.7V602H436.4ZM465 587.7H479.3V602H465ZM536.6 587.7H550.9V602H536.6ZM579.5 587.7H593.8V602H579.5ZM436.4 602H450.7V616.2H436.4ZM550.9 602H565.2V616.2H550.9ZM565.2 602H579.5V616.2H565.2ZM450.7 630.5H465V644.8H450.7ZM479.3 630.5H493.6V644.8H479.3ZM493.6 630.5H507.9V644.8H493.6ZM565.2 630.5H579.5V644.8H565.2ZM479.3 644.8H493.6V659.1H479.3ZM507.9 644.8H522.3V659.1H507.9ZM107.3 659.1H121.6V673.3H107.3ZM121.6 659.1H135.9V673.3H121.6ZM135.9 659.1H150.2V673.3H135.9ZM507.9 659.1H522.3V673.3H507.9ZM536.6 659.1H550.9V673.3H536.6ZM465 673.3H479.3V687.6H465ZM493.6 673.3H507.9V687.6H493.6Z"/>
<path fill="#fd8d3c" d="M236.1 216.6H250.4V230.8H236.1ZM250.4 245.1H264.7V259.4H250.4ZM350.6 316.5H364.9V330.8H350.6ZM121.6 330.8H135.9V345H121.6ZM150.2 345H164.5V359.3H150.2ZM493.6 359.3H507.9V373.6H493.6ZM407.8 373.6H422.1V387.9H407.8ZM221.8 445H236.1V459.2H221.8ZM522.3 459.2H536.6V473.5H522.3ZM279 502H293.3V516.3H279ZM550.9 516.3H565.2V530.6H550.9ZM579.5 516.3H593.8V530.6H579.5ZM264.7 587.7H279V602H264.7ZM364.9 616.2H379.2V630.5H364.9ZM422.1 644.8H436.4V659.1H422.1ZM422.1 673.3H436.4V687.6H422.1Z"/>
<path fill="#ffeda0" d="M579.5 230.8H593.8V245.1H579.5ZM493.6 287.9H507.9V302.2H493.6ZM565.2 373.6H579.5V387.9H565.2ZM193.2 587.7H207.5V602H193.2ZM279 659.1H293.3V673.3H279ZM135.9 673.3H150.2V687.6H135.9Z"/>
<path fill="#febf5a" d="M336.2 245.1H350.6V259.4H336.2ZM221.8 259.4H236.1V273.7H221.8ZM550.9 287.9H565.2V302.2H550.9ZM164.5 316.5H178.8V330.8H164.5ZM579.5 345H593.8V359.3H579.5ZM550.9 359.3H565.2V373.6H550.9ZM493.6 387.9H507.9V402.1H493.6ZM507.9 387.9H522.3V402.1H507.9ZM150.2 430.7H164.5V445H150.2ZM579.5 530.6H593.8V544.9H579.5ZM293.3 587.7H307.6V602H293.3ZM293.3 602H307.6V616.2H293.3ZM193.2 644.8H207.5V659.1H193.2ZM264.7 644.8H279V659.1H264.7ZM250.4 673.3H264.7V687.6H250.4ZM436.4 673.3H450.7V687.6H436.4Z"/>
<path fill="#800026" d="M178.8 259.4H193.2V273.7H178.8ZM164.5 273.7H178.8V287.9H164.5ZM207.5 287.9H221.8V302.2H207.5ZM193.2 302.2H207.5V316.5H193.2ZM579.5 659.1H593.8V673.3H579.5ZM565.2 673.3H579.5V687.6H565.2ZM579.5 673.3H593.8V687.6H579.5Z"/>
<path fill="#fee084" d="M522.3 259.4H536.6V273.7H522.3ZM536.6 259.4H550.9V273.7H536.6ZM393.5 302.2H407.8V316.5H393.5ZM522.3 302.2H536.6V316.5H522.3ZM536.6 302.2H550.9V316.5H536.6ZM536.6 316.5H550.9V330.8H536.6ZM579.5 316.5H593.8V330.8H579.5ZM565.2 359.3H579.5V373.6H565.2ZM536.6 416.4H550.9V430.7H536.6ZM536.6 430.7H550.9V445H536.6ZM207.5 487.8H221.8V502H207.5ZM164.5 616.2H178.8V630.5H164.5ZM207.5 616.2H221.8V630.5H207.5ZM164.5 630.5H178.8V644.8H164.5ZM207.5 630.5H221.8V644.8H207.5ZM221.8 630.5H236.1V644.8H221.8ZM321.9 630.5H336.2V644.8H321.9ZM336.2 630.5H350.6V644.8H336.2ZM264.7 659.1H279V673.3H264.7ZM221.8 673.3H236.1V687.6H221.8Z"/>
<path fill="#a90026" d="M221.8 302.2H236.1V316.5H221.8ZM207.5 316.5H221.8V330.8H207.5Z"/>
<path fill="#ffe692" d="M479.3 302.2H493.6V316.5H479.3ZM579.5 473.5H593.8V487.8H579.5ZM207.5 573.4H221.8V587.7H207.5ZM379.2 673.3H393.5V687.6H379.2Z"/>
<path fill="#ca0923" d="M250.4 330.8H264.7V345H250.4ZM236.1 345H250.4V359.3H236.1ZM293.3 359.3H307.6V373.6H293.3ZM293.3 373.6H307.6V387.9H293.3ZM264.7 387.9H279V402.1H264.7ZM279 387.9H293.3V402.1H279Z"/>
<path fill="#e31a1c" d="M279 330.8H293.3V345H279ZM236.1 373.6H250.4V387.9H236.1ZM450.7 502H465V516.3H450.7ZM407.8 544.9H422.1V559.1H407.8Z"/>
<path fill="#fff3af" d="M579.5 387.9H593.8V402.1H579.5ZM565.2 402.1H579.5V416.4H565.2ZM307.6 659.1H321.9V673.3H307.6ZM293.3 673.3H307.6V687.6H293.3Z"/>
</g>
<rect x="107.3" y="202.3" width="486.5" height="485.3" fill="none" stroke="#111" stroke-width="1.1"/>
<text x="99.3" y="215.4" font-size="17" fill="#000" text-anchor="end">0</text>
<text x="99.3" y="286.8" font-size="17" fill="#000" text-anchor="end">5</text>
<text x="99.3" y="358.2" font-size="17" fill="#000" text-anchor="end">10</text>
<text x="99.3" y="429.5" font-size="17" fill="#000" text-anchor="end">15</text>
<text x="99.3" y="500.9" font-size="17" fill="#000" text-anchor="end">20</text>
<text x="99.3" y="572.3" font-size="17" fill="#000" text-anchor="end">25</text>
<text x="99.3" y="643.6" font-size="17" fill="#000" text-anchor="end">30</text>
<path d="M115.2 202.3v-4.5M115.2 687.6v4.5M136.2 202.3v-4.5M136.2 687.6v4.5M154.9 202.3v-4.5M154.9 687.6v4.5M166.1 202.3v-4.5M166.1 687.6v4.5M179 202.3v-4.5M179 687.6v4.5M194.3 202.3v-4.5M194.3 687.6v4.5M207.5 202.3v-4.5M207.5 687.6v4.5M221.5 202.3v-4.5M221.5 687.6v4.5M233.5 202.3v-4.5M233.5 687.6v4.5M407.5 202.3v-4.5M407.5 687.6v4.5M586.5 202.3v-4.5M586.5 687.6v4.5M107.3 209.4h-4.5M107.3 280.8h-4.5M107.3 352.2h-4.5M107.3 423.5h-4.5M107.3 494.9h-4.5M107.3 566.3h-4.5M107.3 637.6h-4.5" stroke="#222" stroke-width="1" fill="none"/>
<path d="M164.5 202.3V687.6M107.3 259.4H593.8M193.2 202.3V687.6M107.3 287.9H593.8M221.8 202.3V687.6M107.3 316.5H593.8" stroke="#000" stroke-width="1.9" stroke-dasharray="6.2 2.7" fill="none"/>
<text transform="translate(121.8 195.9) rotate(-90)" font-size="17.8" fill="#000" textLength="74" lengthAdjust="spacing" >47.028Mb</text>
<text transform="translate(143.2 195.9) rotate(-90)" font-size="17.8" fill="#000" textLength="46.6" lengthAdjust="spacing" >chr20</text>
<text transform="translate(161.8 195.9) rotate(-90)" font-size="17.8" fill="#000" textLength="74" lengthAdjust="spacing" >47.032Mb</text>
<text transform="translate(172.6 195.9) rotate(-90)" font-size="17.8" fill="#000" textLength="36.4" lengthAdjust="spacing" >2Kb</text>
<text transform="translate(186 195.9) rotate(-90)" font-size="17.8" fill="#000" textLength="49.8" lengthAdjust="spacing" >HPV16</text>
<text transform="translate(200.7 195.9) rotate(-90)" font-size="17.8" fill="#000" textLength="96.3" lengthAdjust="spacing" >0Kb (8Kb)</text>
<text transform="translate(214.7 195.9) rotate(-90)" font-size="17.8" fill="#000" textLength="63.2" lengthAdjust="spacing" >HPV16</text>
<text transform="translate(228.8 195.9) rotate(-90)" font-size="17.8" fill="#000" textLength="36" lengthAdjust="spacing" >6Kb</text>
<text transform="translate(242.8 195.9) rotate(-90)" font-size="17.8" fill="#000" textLength="96.3" lengthAdjust="spacing" >47.032Mb</text>
<text transform="translate(414.8 196.3) rotate(-90)" font-size="17.8" fill="#000" textLength="39.2" lengthAdjust="spacing" >ch20</text>
<text transform="translate(593.3 190.7) rotate(-90)" font-size="17.8" fill="#000" textLength="74" lengthAdjust="spacing" >47.058Mb</text>
<text transform="translate(74.5 466) rotate(-90)" font-size="17.5" fill="#000" textLength="168" lengthAdjust="spacing" text-anchor="middle" >Bins (1K resolution)</text>
<defs><linearGradient id="cbA" x1="0" y1="0" x2="0" y2="1"><stop offset="0%" stop-color="#800026"/><stop offset="12.5%" stop-color="#bd0026"/><stop offset="25%" stop-color="#e31a1c"/><stop offset="37.5%" stop-color="#fc4e2a"/><stop offset="50%" stop-color="#fd8d3c"/><stop offset="62.5%" stop-color="#feb24c"/><stop offset="75%" stop-color="#fed976"/><stop offset="87.5%" stop-color="#ffeda0"/><stop offset="100%" stop-color="#ffffcc"/></linearGradient></defs>
<rect x="614.6" y="200.6" width="24.4" height="486.9" fill="url(#cbA)" stroke="#222" stroke-width="1"/>
<text x="656.1" y="209.9" font-size="20" fill="#000" textLength="31.8" lengthAdjust="spacing">2.0</text>
<text x="656.1" y="264" font-size="20" fill="#000" textLength="31.8" lengthAdjust="spacing">1.8</text>
<text x="656.1" y="318.1" font-size="20" fill="#000" textLength="31.8" lengthAdjust="spacing">1.6</text>
<text x="656.1" y="372.2" font-size="20" fill="#000" textLength="31.8" lengthAdjust="spacing">1.4</text>
<text x="656.1" y="426.3" font-size="20" fill="#000" textLength="31.8" lengthAdjust="spacing">1.2</text>
<text x="656.1" y="480.4" font-size="20" fill="#000" textLength="31.8" lengthAdjust="spacing">1.0</text>
<text x="656.1" y="534.5" font-size="20" fill="#000" textLength="31.8" lengthAdjust="spacing">0.8</text>
<text x="656.1" y="588.6" font-size="20" fill="#000" textLength="31.8" lengthAdjust="spacing">0.6</text>
<text x="656.1" y="642.7" font-size="20" fill="#000" textLength="31.8" lengthAdjust="spacing">0.4</text>
<text x="656.1" y="696.8" font-size="20" fill="#000" textLength="31.8" lengthAdjust="spacing">0.2</text>
<path d="M639 200.6h3.4M639 254.7h3.4M639 308.8h3.4M639 362.9h3.4M639 417h3.4M639 471.1h3.4M639 525.2h3.4M639 579.3h3.4M639 633.4h3.4M639 687.5h3.4" stroke="#333" stroke-width="1.2"/>
<path d="M178.2 202.5L178.2 151.2L191.5 164.5L233.4 122.5L258.1 147.4L216.2 189.3L229.5 202.5Z" fill="#1a9a9d" fill-opacity="0.93"/>
<circle cx="173.1" cy="209.5" r="5.4" fill="#0000ff"/><circle cx="343.4" cy="309.4" r="5.4" fill="#0000ff"/><circle cx="357.7" cy="309.4" r="5.4" fill="#0000ff"/><circle cx="457.9" cy="309.4" r="5.4" fill="#0000ff"/>
<path d="M355.7 298.4L355.7 248L366.9 259.2L408.9 219.2L434.6 243.3L392.1 283L406.1 298.4Z" fill="#000"/>
<path d="M465.7 298.4L465.7 249.4L477.4 260L519.4 220L544.5 243.8L502.6 284.4L516.6 298.4Z" fill="#000"/>
<text x="100" y="745.1" font-size="48" fill="#008f8f" textLength="59" lengthAdjust="spacingAndGlyphs" font-weight="bold">S2</text>
<text x="368.5" y="745.1" font-size="48" fill="#000" textLength="53" lengthAdjust="spacingAndGlyphs" font-weight="bold">S1</text>
<text transform="translate(167.7 714.5) rotate(90)" font-size="28.4" fill="#ff2d96" textLength="137" lengthAdjust="spacingAndGlyphs" font-weight="bold" >HPV_Early</text>
<text transform="translate(201.6 714.5) rotate(90)" font-size="28.4" fill="#ff2d96" textLength="128.5" lengthAdjust="spacingAndGlyphs" font-weight="bold" >HPV_Late</text>
<g shape-rendering="crispEdges">
<path fill="#fd8239" d="M1443.4 203.3H1457.7V217.6H1443.4ZM1572.3 317.6H1586.7V331.9H1572.3ZM1615.3 317.6H1629.6V331.9H1615.3ZM1916.2 317.6H1930.5V331.9H1916.2ZM1558 331.9H1572.3V346.2H1558ZM1586.7 331.9H1601V346.2H1586.7ZM1572.3 346.2H1586.7V360.5H1572.3ZM1586.7 346.2H1601V360.5H1586.7ZM1629.6 360.5H1644V374.8H1629.6ZM1558 374.8H1572.3V389H1558ZM1601 389H1615.3V403.3H1601ZM1658.3 417.6H1672.6V431.9H1658.3ZM1744.3 489.1H1758.6V503.4H1744.3ZM1772.9 489.1H1787.2V503.4H1772.9ZM1729.9 503.4H1744.3V517.6H1729.9ZM1758.6 503.4H1772.9V517.6H1758.6ZM1772.9 503.4H1787.2V517.6H1772.9ZM1744.3 517.6H1758.6V531.9H1744.3ZM1729.9 531.9H1744.3V546.2H1729.9ZM1744.3 531.9H1758.6V546.2H1744.3ZM1815.9 531.9H1830.2V546.2H1815.9ZM1815.9 560.5H1830.2V574.8H1815.9ZM1830.2 560.5H1844.5V574.8H1830.2ZM1772.9 574.8H1787.2V589.1H1772.9ZM1801.6 574.8H1815.9V589.1H1801.6ZM1801.6 589.1H1815.9V603.4H1801.6ZM1873.2 603.4H1887.5V617.7H1873.2ZM1901.8 603.4H1916.2V617.7H1901.8ZM1901.8 617.7H1916.2V631.9H1901.8ZM1844.5 631.9H1858.9V646.2H1844.5ZM1844.5 660.5H1858.9V674.8H1844.5ZM1858.9 660.5H1873.2V674.8H1858.9ZM1558 674.8H1572.3V689.1H1558Z"/>
<path fill="#f84528" d="M1457.7 203.3H1472.1V217.6H1457.7ZM1558 203.3H1572.3V217.6H1558ZM1443.4 217.6H1457.7V231.9H1443.4ZM1457.7 217.6H1472.1V231.9H1457.7ZM1472.1 217.6H1486.4V231.9H1472.1ZM1457.7 231.9H1472.1V246.2H1457.7ZM1486.4 231.9H1500.7V246.2H1486.4ZM1472.1 246.2H1486.4V260.5H1472.1ZM1443.4 317.6H1457.7V331.9H1443.4ZM1644 403.3H1658.3V417.6H1644ZM1715.6 460.5H1729.9V474.8H1715.6ZM1701.3 474.8H1715.6V489.1H1701.3ZM1787.2 546.2H1801.6V560.5H1787.2ZM1844.5 603.4H1858.9V617.7H1844.5ZM1887.5 631.9H1901.8V646.2H1887.5ZM1873.2 646.2H1887.5V660.5H1873.2ZM1887.5 646.2H1901.8V660.5H1887.5ZM1916.2 646.2H1930.5V660.5H1916.2ZM1901.8 660.5H1916.2V674.8H1901.8ZM1887.5 674.8H1901.8V689.1H1887.5Z"/>
<path fill="#fd9941" d="M1472.1 203.3H1486.4V217.6H1472.1ZM1586.7 203.3H1601V217.6H1586.7ZM1443.4 231.9H1457.7V246.2H1443.4ZM1558 231.9H1572.3V246.2H1558ZM1572.3 231.9H1586.7V246.2H1572.3ZM1830.2 231.9H1844.5V246.2H1830.2ZM1558 246.2H1572.3V260.5H1558ZM1615.3 246.2H1629.6V260.5H1615.3ZM1472.1 317.6H1486.4V331.9H1472.1ZM1486.4 317.6H1500.7V331.9H1486.4ZM1558 317.6H1572.3V331.9H1558ZM1586.7 317.6H1601V331.9H1586.7ZM1601 317.6H1615.3V331.9H1601ZM1472.1 331.9H1486.4V346.2H1472.1ZM1572.3 331.9H1586.7V346.2H1572.3ZM1615.3 331.9H1629.6V346.2H1615.3ZM1443.4 346.2H1457.7V360.5H1443.4ZM1558 346.2H1572.3V360.5H1558ZM1601 346.2H1615.3V360.5H1601ZM1615.3 346.2H1629.6V360.5H1615.3ZM1715.6 346.2H1729.9V360.5H1715.6ZM1558 360.5H1572.3V374.8H1558ZM1586.7 360.5H1601V374.8H1586.7ZM1601 360.5H1615.3V374.8H1601ZM1658.3 360.5H1672.6V374.8H1658.3ZM1486.4 374.8H1500.7V389H1486.4ZM1572.3 374.8H1586.7V389H1572.3ZM1586.7 374.8H1601V389H1586.7ZM1615.3 374.8H1629.6V389H1615.3ZM1629.6 374.8H1644V389H1629.6ZM1644 374.8H1658.3V389H1644ZM1615.3 389H1629.6V403.3H1615.3ZM1629.6 389H1644V403.3H1629.6ZM1658.3 389H1672.6V403.3H1658.3ZM1701.3 389H1715.6V403.3H1701.3ZM1715.6 389H1729.9V403.3H1715.6ZM1615.3 403.3H1629.6V417.6H1615.3ZM1687 403.3H1701.3V417.6H1687ZM1715.6 403.3H1729.9V417.6H1715.6ZM1601 417.6H1615.3V431.9H1601ZM1629.6 417.6H1644V431.9H1629.6ZM1672.6 431.9H1687V446.2H1672.6ZM1644 446.2H1658.3V460.5H1644ZM1687 446.2H1701.3V460.5H1687ZM1715.6 446.2H1729.9V460.5H1715.6ZM1729.9 446.2H1744.3V460.5H1729.9ZM1787.2 446.2H1801.6V460.5H1787.2ZM1629.6 460.5H1644V474.8H1629.6ZM1729.9 460.5H1744.3V474.8H1729.9ZM1744.3 460.5H1758.6V474.8H1744.3ZM1758.6 460.5H1772.9V474.8H1758.6ZM1772.9 460.5H1787.2V474.8H1772.9ZM1844.5 460.5H1858.9V474.8H1844.5ZM1586.7 474.8H1601V489.1H1586.7ZM1629.6 474.8H1644V489.1H1629.6ZM1644 474.8H1658.3V489.1H1644ZM1687 474.8H1701.3V489.1H1687ZM1744.3 474.8H1758.6V489.1H1744.3ZM1758.6 474.8H1772.9V489.1H1758.6ZM1787.2 474.8H1801.6V489.1H1787.2ZM1687 489.1H1701.3V503.4H1687ZM1701.3 489.1H1715.6V503.4H1701.3ZM1729.9 489.1H1744.3V503.4H1729.9ZM1758.6 489.1H1772.9V503.4H1758.6ZM1801.6 489.1H1815.9V503.4H1801.6ZM1830.2 489.1H1844.5V503.4H1830.2ZM1701.3 503.4H1715.6V517.6H1701.3ZM1715.6 503.4H1729.9V517.6H1715.6ZM1787.2 503.4H1801.6V517.6H1787.2ZM1801.6 503.4H1815.9V517.6H1801.6ZM1844.5 503.4H1858.9V517.6H1844.5ZM1701.3 517.6H1715.6V531.9H1701.3ZM1715.6 517.6H1729.9V531.9H1715.6ZM1729.9 517.6H1744.3V531.9H1729.9ZM1758.6 517.6H1772.9V531.9H1758.6ZM1787.2 517.6H1801.6V531.9H1787.2ZM1801.6 517.6H1815.9V531.9H1801.6ZM1873.2 517.6H1887.5V531.9H1873.2ZM1701.3 531.9H1715.6V546.2H1701.3ZM1772.9 531.9H1787.2V546.2H1772.9ZM1801.6 531.9H1815.9V546.2H1801.6ZM1830.2 531.9H1844.5V546.2H1830.2ZM1687 546.2H1701.3V560.5H1687ZM1715.6 546.2H1729.9V560.5H1715.6ZM1744.3 546.2H1758.6V560.5H1744.3ZM1758.6 546.2H1772.9V560.5H1758.6ZM1801.6 546.2H1815.9V560.5H1801.6ZM1815.9 546.2H1830.2V560.5H1815.9ZM1830.2 546.2H1844.5V560.5H1830.2ZM1858.9 546.2H1873.2V560.5H1858.9ZM1873.2 546.2H1887.5V560.5H1873.2ZM1916.2 546.2H1930.5V560.5H1916.2ZM1729.9 560.5H1744.3V574.8H1729.9ZM1744.3 560.5H1758.6V574.8H1744.3ZM1758.6 560.5H1772.9V574.8H1758.6ZM1772.9 560.5H1787.2V574.8H1772.9ZM1787.2 560.5H1801.6V574.8H1787.2ZM1801.6 560.5H1815.9V574.8H1801.6ZM1844.5 560.5H1858.9V574.8H1844.5ZM1858.9 560.5H1873.2V574.8H1858.9ZM1873.2 560.5H1887.5V574.8H1873.2ZM1787.2 574.8H1801.6V589.1H1787.2ZM1844.5 574.8H1858.9V589.1H1844.5ZM1873.2 574.8H1887.5V589.1H1873.2ZM1472.1 589.1H1486.4V603.4H1472.1ZM1729.9 589.1H1744.3V603.4H1729.9ZM1772.9 589.1H1787.2V603.4H1772.9ZM1787.2 589.1H1801.6V603.4H1787.2ZM1844.5 589.1H1858.9V603.4H1844.5ZM1858.9 589.1H1873.2V603.4H1858.9ZM1873.2 589.1H1887.5V603.4H1873.2ZM1901.8 589.1H1916.2V603.4H1901.8ZM1701.3 603.4H1715.6V617.7H1701.3ZM1744.3 603.4H1758.6V617.7H1744.3ZM1801.6 603.4H1815.9V617.7H1801.6ZM1815.9 603.4H1830.2V617.7H1815.9ZM1830.2 603.4H1844.5V617.7H1830.2ZM1787.2 617.7H1801.6V631.9H1787.2ZM1801.6 617.7H1815.9V631.9H1801.6ZM1830.2 617.7H1844.5V631.9H1830.2ZM1858.9 617.7H1873.2V631.9H1858.9ZM1916.2 617.7H1930.5V631.9H1916.2ZM1758.6 631.9H1772.9V646.2H1758.6ZM1787.2 631.9H1801.6V646.2H1787.2ZM1801.6 631.9H1815.9V646.2H1801.6ZM1815.9 631.9H1830.2V646.2H1815.9ZM1830.2 631.9H1844.5V646.2H1830.2ZM1873.2 631.9H1887.5V646.2H1873.2ZM1830.2 660.5H1844.5V674.8H1830.2ZM1787.2 674.8H1801.6V689.1H1787.2ZM1858.9 674.8H1873.2V689.1H1858.9Z"/>
<path fill="#feb24c" d="M1486.4 203.3H1500.7V217.6H1486.4ZM1601 203.3H1615.3V217.6H1601ZM1615.3 203.3H1629.6V217.6H1615.3ZM1644 203.3H1658.3V217.6H1644ZM1558 217.6H1572.3V231.9H1558ZM1658.3 217.6H1672.6V231.9H1658.3ZM1443.4 246.2H1457.7V260.5H1443.4ZM1586.7 246.2H1601V260.5H1586.7ZM1629.6 246.2H1644V260.5H1629.6ZM1744.3 246.2H1758.6V260.5H1744.3ZM1457.7 317.6H1472.1V331.9H1457.7ZM1601 331.9H1615.3V346.2H1601ZM1644 331.9H1658.3V346.2H1644ZM1672.6 331.9H1687V346.2H1672.6ZM1486.4 346.2H1500.7V360.5H1486.4ZM1658.3 346.2H1672.6V360.5H1658.3ZM1443.4 360.5H1457.7V374.8H1443.4ZM1572.3 360.5H1586.7V374.8H1572.3ZM1644 360.5H1658.3V374.8H1644ZM1672.6 360.5H1687V374.8H1672.6ZM1443.4 374.8H1457.7V389H1443.4ZM1687 374.8H1701.3V389H1687ZM1801.6 374.8H1815.9V389H1801.6ZM1916.2 374.8H1930.5V389H1916.2ZM1486.4 389H1500.7V403.3H1486.4ZM1687 389H1701.3V403.3H1687ZM1744.3 389H1758.6V403.3H1744.3ZM1443.4 403.3H1457.7V417.6H1443.4ZM1572.3 403.3H1586.7V417.6H1572.3ZM1601 403.3H1615.3V417.6H1601ZM1457.7 417.6H1472.1V431.9H1457.7ZM1586.7 417.6H1601V431.9H1586.7ZM1729.9 417.6H1744.3V431.9H1729.9ZM1801.6 417.6H1815.9V431.9H1801.6ZM1815.9 417.6H1830.2V431.9H1815.9ZM1572.3 431.9H1586.7V446.2H1572.3ZM1601 431.9H1615.3V446.2H1601ZM1729.9 431.9H1744.3V446.2H1729.9ZM1744.3 431.9H1758.6V446.2H1744.3ZM1772.9 431.9H1787.2V446.2H1772.9ZM1615.3 446.2H1629.6V460.5H1615.3ZM1629.6 446.2H1644V460.5H1629.6ZM1758.6 446.2H1772.9V460.5H1758.6ZM1815.9 446.2H1830.2V460.5H1815.9ZM1715.6 474.8H1729.9V489.1H1715.6ZM1801.6 474.8H1815.9V489.1H1801.6ZM1873.2 474.8H1887.5V489.1H1873.2ZM1901.8 474.8H1916.2V489.1H1901.8ZM1658.3 489.1H1672.6V503.4H1658.3ZM1672.6 489.1H1687V503.4H1672.6ZM1787.2 489.1H1801.6V503.4H1787.2ZM1815.9 489.1H1830.2V503.4H1815.9ZM1486.4 503.4H1500.7V517.6H1486.4ZM1629.6 503.4H1644V517.6H1629.6ZM1672.6 503.4H1687V517.6H1672.6ZM1744.3 503.4H1758.6V517.6H1744.3ZM1916.2 503.4H1930.5V517.6H1916.2ZM1687 517.6H1701.3V531.9H1687ZM1844.5 517.6H1858.9V531.9H1844.5ZM1858.9 517.6H1873.2V531.9H1858.9ZM1672.6 531.9H1687V546.2H1672.6ZM1729.9 546.2H1744.3V560.5H1729.9ZM1887.5 546.2H1901.8V560.5H1887.5ZM1615.3 560.5H1629.6V574.8H1615.3ZM1658.3 560.5H1672.6V574.8H1658.3ZM1715.6 560.5H1729.9V574.8H1715.6ZM1887.5 560.5H1901.8V574.8H1887.5ZM1916.2 560.5H1930.5V574.8H1916.2ZM1658.3 574.8H1672.6V589.1H1658.3ZM1687 574.8H1701.3V589.1H1687ZM1729.9 574.8H1744.3V589.1H1729.9ZM1815.9 574.8H1830.2V589.1H1815.9ZM1887.5 574.8H1901.8V589.1H1887.5ZM1758.6 603.4H1772.9V617.7H1758.6ZM1916.2 603.4H1930.5V617.7H1916.2ZM1758.6 617.7H1772.9V631.9H1758.6ZM1715.6 631.9H1729.9V646.2H1715.6ZM1787.2 646.2H1801.6V660.5H1787.2ZM1801.6 646.2H1815.9V660.5H1801.6ZM1815.9 646.2H1830.2V660.5H1815.9ZM1715.6 660.5H1729.9V674.8H1715.6ZM1615.3 674.8H1629.6V689.1H1615.3ZM1744.3 674.8H1758.6V689.1H1744.3ZM1801.6 674.8H1815.9V689.1H1801.6ZM1844.5 674.8H1858.9V689.1H1844.5Z"/>
<path fill="#fc6330" d="M1572.3 203.3H1586.7V217.6H1572.3ZM1486.4 217.6H1500.7V231.9H1486.4ZM1472.1 231.9H1486.4V246.2H1472.1ZM1457.7 246.2H1472.1V260.5H1457.7ZM1486.4 246.2H1500.7V260.5H1486.4ZM1443.4 331.9H1457.7V346.2H1443.4ZM1615.3 360.5H1629.6V374.8H1615.3ZM1601 374.8H1615.3V389H1601ZM1701.3 446.2H1715.6V460.5H1701.3ZM1687 460.5H1701.3V474.8H1687ZM1701.3 460.5H1715.6V474.8H1701.3ZM1729.9 474.8H1744.3V489.1H1729.9ZM1715.6 489.1H1729.9V503.4H1715.6ZM1772.9 517.6H1787.2V531.9H1772.9ZM1758.6 531.9H1772.9V546.2H1758.6ZM1787.2 531.9H1801.6V546.2H1787.2ZM1772.9 546.2H1787.2V560.5H1772.9ZM1830.2 574.8H1844.5V589.1H1830.2ZM1858.9 574.8H1873.2V589.1H1858.9ZM1815.9 589.1H1830.2V603.4H1815.9ZM1830.2 589.1H1844.5V603.4H1830.2ZM1916.2 589.1H1930.5V603.4H1916.2ZM1858.9 603.4H1873.2V617.7H1858.9ZM1815.9 617.7H1830.2V631.9H1815.9ZM1844.5 617.7H1858.9V631.9H1844.5ZM1873.2 617.7H1887.5V631.9H1873.2ZM1887.5 617.7H1901.8V631.9H1887.5ZM1858.9 631.9H1873.2V646.2H1858.9ZM1858.9 646.2H1873.2V660.5H1858.9ZM1901.8 646.2H1916.2V660.5H1901.8ZM1887.5 660.5H1901.8V674.8H1887.5ZM1830.2 674.8H1844.5V689.1H1830.2ZM1916.2 674.8H1930.5V689.1H1916.2Z"/>
<path fill="#fecc68" d="M1629.6 203.3H1644V217.6H1629.6ZM1701.3 203.3H1715.6V217.6H1701.3ZM1772.9 203.3H1787.2V217.6H1772.9ZM1586.7 217.6H1601V231.9H1586.7ZM1701.3 217.6H1715.6V231.9H1701.3ZM1815.9 217.6H1830.2V231.9H1815.9ZM1586.7 231.9H1601V246.2H1586.7ZM1644 246.2H1658.3V260.5H1644ZM1672.6 246.2H1687V260.5H1672.6ZM1715.6 246.2H1729.9V260.5H1715.6ZM1672.6 317.6H1687V331.9H1672.6ZM1729.9 317.6H1744.3V331.9H1729.9ZM1801.6 317.6H1815.9V331.9H1801.6ZM1658.3 331.9H1672.6V346.2H1658.3ZM1758.6 331.9H1772.9V346.2H1758.6ZM1901.8 331.9H1916.2V346.2H1901.8ZM1457.7 346.2H1472.1V360.5H1457.7ZM1472.1 346.2H1486.4V360.5H1472.1ZM1901.8 346.2H1916.2V360.5H1901.8ZM1701.3 360.5H1715.6V374.8H1701.3ZM1715.6 360.5H1729.9V374.8H1715.6ZM1772.9 360.5H1787.2V374.8H1772.9ZM1787.2 360.5H1801.6V374.8H1787.2ZM1801.6 360.5H1815.9V374.8H1801.6ZM1844.5 360.5H1858.9V374.8H1844.5ZM1658.3 374.8H1672.6V389H1658.3ZM1729.9 374.8H1744.3V389H1729.9ZM1443.4 389H1457.7V403.3H1443.4ZM1758.6 389H1772.9V403.3H1758.6ZM1486.4 403.3H1500.7V417.6H1486.4ZM1672.6 403.3H1687V417.6H1672.6ZM1744.3 403.3H1758.6V417.6H1744.3ZM1758.6 403.3H1772.9V417.6H1758.6ZM1787.2 403.3H1801.6V417.6H1787.2ZM1572.3 417.6H1586.7V431.9H1572.3ZM1615.3 417.6H1629.6V431.9H1615.3ZM1772.9 417.6H1787.2V431.9H1772.9ZM1486.4 431.9H1500.7V446.2H1486.4ZM1558 431.9H1572.3V446.2H1558ZM1644 431.9H1658.3V446.2H1644ZM1758.6 431.9H1772.9V446.2H1758.6ZM1787.2 431.9H1801.6V446.2H1787.2ZM1801.6 431.9H1815.9V446.2H1801.6ZM1887.5 431.9H1901.8V446.2H1887.5ZM1801.6 446.2H1815.9V460.5H1801.6ZM1830.2 446.2H1844.5V460.5H1830.2ZM1858.9 446.2H1873.2V460.5H1858.9ZM1887.5 446.2H1901.8V460.5H1887.5ZM1901.8 446.2H1916.2V460.5H1901.8ZM1443.4 460.5H1457.7V474.8H1443.4ZM1457.7 460.5H1472.1V474.8H1457.7ZM1601 460.5H1615.3V474.8H1601ZM1787.2 460.5H1801.6V474.8H1787.2ZM1801.6 460.5H1815.9V474.8H1801.6ZM1486.4 474.8H1500.7V489.1H1486.4ZM1601 474.8H1615.3V489.1H1601ZM1772.9 474.8H1787.2V489.1H1772.9ZM1558 489.1H1572.3V503.4H1558ZM1615.3 489.1H1629.6V503.4H1615.3ZM1858.9 489.1H1873.2V503.4H1858.9ZM1644 503.4H1658.3V517.6H1644ZM1830.2 503.4H1844.5V517.6H1830.2ZM1572.3 517.6H1586.7V531.9H1572.3ZM1629.6 517.6H1644V531.9H1629.6ZM1644 517.6H1658.3V531.9H1644ZM1672.6 517.6H1687V531.9H1672.6ZM1916.2 517.6H1930.5V531.9H1916.2ZM1443.4 531.9H1457.7V546.2H1443.4ZM1601 531.9H1615.3V546.2H1601ZM1658.3 531.9H1672.6V546.2H1658.3ZM1715.6 531.9H1729.9V546.2H1715.6ZM1858.9 531.9H1873.2V546.2H1858.9ZM1873.2 531.9H1887.5V546.2H1873.2ZM1916.2 531.9H1930.5V546.2H1916.2ZM1601 546.2H1615.3V560.5H1601ZM1644 546.2H1658.3V560.5H1644ZM1672.6 546.2H1687V560.5H1672.6ZM1701.3 546.2H1715.6V560.5H1701.3ZM1844.5 546.2H1858.9V560.5H1844.5ZM1558 560.5H1572.3V574.8H1558ZM1601 560.5H1615.3V574.8H1601ZM1672.6 560.5H1687V574.8H1672.6ZM1687 560.5H1701.3V574.8H1687ZM1701.3 560.5H1715.6V574.8H1701.3ZM1457.7 574.8H1472.1V589.1H1457.7ZM1687 589.1H1701.3V603.4H1687ZM1744.3 589.1H1758.6V603.4H1744.3ZM1601 603.4H1615.3V617.7H1601ZM1787.2 603.4H1801.6V617.7H1787.2ZM1687 617.7H1701.3V631.9H1687ZM1729.9 617.7H1744.3V631.9H1729.9ZM1772.9 617.7H1787.2V631.9H1772.9ZM1772.9 631.9H1787.2V646.2H1772.9ZM1672.6 646.2H1687V660.5H1672.6ZM1687 646.2H1701.3V660.5H1687ZM1572.3 660.5H1586.7V674.8H1572.3ZM1586.7 660.5H1601V674.8H1586.7ZM1687 660.5H1701.3V674.8H1687ZM1758.6 674.8H1772.9V689.1H1758.6ZM1772.9 674.8H1787.2V689.1H1772.9Z"/>
<path fill="#fee084" d="M1658.3 203.3H1672.6V217.6H1658.3ZM1672.6 203.3H1687V217.6H1672.6ZM1687 203.3H1701.3V217.6H1687ZM1873.2 203.3H1887.5V217.6H1873.2ZM1615.3 217.6H1629.6V231.9H1615.3ZM1672.6 217.6H1687V231.9H1672.6ZM1687 217.6H1701.3V231.9H1687ZM1758.6 217.6H1772.9V231.9H1758.6ZM1687 231.9H1701.3V246.2H1687ZM1701.3 231.9H1715.6V246.2H1701.3ZM1715.6 231.9H1729.9V246.2H1715.6ZM1758.6 231.9H1772.9V246.2H1758.6ZM1629.6 331.9H1644V346.2H1629.6ZM1687 331.9H1701.3V346.2H1687ZM1701.3 331.9H1715.6V346.2H1701.3ZM1715.6 331.9H1729.9V346.2H1715.6ZM1744.3 331.9H1758.6V346.2H1744.3ZM1873.2 331.9H1887.5V346.2H1873.2ZM1801.6 346.2H1815.9V360.5H1801.6ZM1729.9 360.5H1744.3V374.8H1729.9ZM1858.9 360.5H1873.2V374.8H1858.9ZM1901.8 360.5H1916.2V374.8H1901.8ZM1457.7 374.8H1472.1V389H1457.7ZM1715.6 374.8H1729.9V389H1715.6ZM1744.3 374.8H1758.6V389H1744.3ZM1758.6 374.8H1772.9V389H1758.6ZM1772.9 374.8H1787.2V389H1772.9ZM1572.3 389H1586.7V403.3H1572.3ZM1729.9 389H1744.3V403.3H1729.9ZM1801.6 389H1815.9V403.3H1801.6ZM1815.9 403.3H1830.2V417.6H1815.9ZM1443.4 417.6H1457.7V431.9H1443.4ZM1715.6 417.6H1729.9V431.9H1715.6ZM1758.6 417.6H1772.9V431.9H1758.6ZM1443.4 431.9H1457.7V446.2H1443.4ZM1457.7 431.9H1472.1V446.2H1457.7ZM1443.4 446.2H1457.7V460.5H1443.4ZM1457.7 446.2H1472.1V460.5H1457.7ZM1472.1 446.2H1486.4V460.5H1472.1ZM1572.3 446.2H1586.7V460.5H1572.3ZM1772.9 446.2H1787.2V460.5H1772.9ZM1873.2 446.2H1887.5V460.5H1873.2ZM1472.1 460.5H1486.4V474.8H1472.1ZM1572.3 460.5H1586.7V474.8H1572.3ZM1815.9 460.5H1830.2V474.8H1815.9ZM1472.1 474.8H1486.4V489.1H1472.1ZM1572.3 474.8H1586.7V489.1H1572.3ZM1615.3 474.8H1629.6V489.1H1615.3ZM1658.3 474.8H1672.6V489.1H1658.3ZM1815.9 474.8H1830.2V489.1H1815.9ZM1601 489.1H1615.3V503.4H1601ZM1629.6 489.1H1644V503.4H1629.6ZM1873.2 489.1H1887.5V503.4H1873.2ZM1572.3 503.4H1586.7V517.6H1572.3ZM1615.3 503.4H1629.6V517.6H1615.3ZM1858.9 503.4H1873.2V517.6H1858.9ZM1901.8 503.4H1916.2V517.6H1901.8ZM1457.7 517.6H1472.1V531.9H1457.7ZM1472.1 517.6H1486.4V531.9H1472.1ZM1615.3 517.6H1629.6V531.9H1615.3ZM1658.3 517.6H1672.6V531.9H1658.3ZM1615.3 531.9H1629.6V546.2H1615.3ZM1687 531.9H1701.3V546.2H1687ZM1901.8 546.2H1916.2V560.5H1901.8ZM1586.7 560.5H1601V574.8H1586.7ZM1629.6 560.5H1644V574.8H1629.6ZM1644 574.8H1658.3V589.1H1644ZM1701.3 574.8H1715.6V589.1H1701.3ZM1715.6 574.8H1729.9V589.1H1715.6ZM1601 617.7H1615.3V631.9H1601ZM1744.3 617.7H1758.6V631.9H1744.3ZM1443.4 631.9H1457.7V646.2H1443.4ZM1572.3 631.9H1586.7V646.2H1572.3ZM1687 631.9H1701.3V646.2H1687ZM1729.9 631.9H1744.3V646.2H1729.9ZM1601 660.5H1615.3V674.8H1601ZM1744.3 660.5H1758.6V674.8H1744.3ZM1787.2 660.5H1801.6V674.8H1787.2Z"/>
<path fill="#fff9bd" d="M1715.6 203.3H1729.9V217.6H1715.6ZM1729.9 203.3H1744.3V217.6H1729.9ZM1744.3 203.3H1758.6V217.6H1744.3ZM1844.5 203.3H1858.9V217.6H1844.5ZM1715.6 217.6H1729.9V231.9H1715.6ZM1744.3 217.6H1758.6V231.9H1744.3ZM1772.9 217.6H1787.2V231.9H1772.9ZM1787.2 217.6H1801.6V231.9H1787.2ZM1844.5 217.6H1858.9V231.9H1844.5ZM1873.2 217.6H1887.5V231.9H1873.2ZM1887.5 217.6H1901.8V231.9H1887.5ZM1644 231.9H1658.3V246.2H1644ZM1672.6 231.9H1687V246.2H1672.6ZM1787.2 231.9H1801.6V246.2H1787.2ZM1815.9 231.9H1830.2V246.2H1815.9ZM1858.9 231.9H1873.2V246.2H1858.9ZM1887.5 231.9H1901.8V246.2H1887.5ZM1701.3 246.2H1715.6V260.5H1701.3ZM1758.6 246.2H1772.9V260.5H1758.6ZM1801.6 246.2H1815.9V260.5H1801.6ZM1815.9 246.2H1830.2V260.5H1815.9ZM1830.2 246.2H1844.5V260.5H1830.2ZM1901.8 246.2H1916.2V260.5H1901.8ZM1500.7 260.5H1515V274.7H1500.7ZM1515 260.5H1529.4V274.7H1515ZM1500.7 274.7H1515V289H1500.7ZM1529.4 289H1543.7V303.3H1529.4ZM1744.3 317.6H1758.6V331.9H1744.3ZM1772.9 317.6H1787.2V331.9H1772.9ZM1729.9 331.9H1744.3V346.2H1729.9ZM1830.2 331.9H1844.5V346.2H1830.2ZM1858.9 331.9H1873.2V346.2H1858.9ZM1916.2 331.9H1930.5V346.2H1916.2ZM1772.9 346.2H1787.2V360.5H1772.9ZM1815.9 346.2H1830.2V360.5H1815.9ZM1858.9 346.2H1873.2V360.5H1858.9ZM1744.3 360.5H1758.6V374.8H1744.3ZM1815.9 360.5H1830.2V374.8H1815.9ZM1916.2 360.5H1930.5V374.8H1916.2ZM1830.2 374.8H1844.5V389H1830.2ZM1873.2 374.8H1887.5V389H1873.2ZM1887.5 374.8H1901.8V389H1887.5ZM1901.8 374.8H1916.2V389H1901.8ZM1815.9 389H1830.2V403.3H1815.9ZM1844.5 389H1858.9V403.3H1844.5ZM1858.9 389H1873.2V403.3H1858.9ZM1873.2 389H1887.5V403.3H1873.2ZM1887.5 389H1901.8V403.3H1887.5ZM1916.2 389H1930.5V403.3H1916.2ZM1472.1 403.3H1486.4V417.6H1472.1ZM1844.5 403.3H1858.9V417.6H1844.5ZM1887.5 417.6H1901.8V431.9H1887.5ZM1916.2 417.6H1930.5V431.9H1916.2ZM1472.1 431.9H1486.4V446.2H1472.1ZM1486.4 460.5H1500.7V474.8H1486.4ZM1443.4 474.8H1457.7V489.1H1443.4ZM1457.7 474.8H1472.1V489.1H1457.7ZM1443.4 489.1H1457.7V503.4H1443.4ZM1572.3 489.1H1586.7V503.4H1572.3ZM1916.2 489.1H1930.5V503.4H1916.2ZM1443.4 503.4H1457.7V517.6H1443.4ZM1457.7 503.4H1472.1V517.6H1457.7ZM1558 503.4H1572.3V517.6H1558ZM1601 503.4H1615.3V517.6H1601ZM1486.4 517.6H1500.7V531.9H1486.4ZM1457.7 531.9H1472.1V546.2H1457.7ZM1558 531.9H1572.3V546.2H1558ZM1586.7 531.9H1601V546.2H1586.7ZM1901.8 531.9H1916.2V546.2H1901.8ZM1457.7 546.2H1472.1V560.5H1457.7ZM1472.1 546.2H1486.4V560.5H1472.1ZM1486.4 560.5H1500.7V574.8H1486.4ZM1901.8 560.5H1916.2V574.8H1901.8ZM1472.1 574.8H1486.4V589.1H1472.1ZM1486.4 574.8H1500.7V589.1H1486.4ZM1586.7 574.8H1601V589.1H1586.7ZM1601 574.8H1615.3V589.1H1601ZM1629.6 574.8H1644V589.1H1629.6ZM1486.4 589.1H1500.7V603.4H1486.4ZM1572.3 589.1H1586.7V603.4H1572.3ZM1615.3 589.1H1629.6V603.4H1615.3ZM1443.4 603.4H1457.7V617.7H1443.4ZM1457.7 603.4H1472.1V617.7H1457.7ZM1629.6 603.4H1644V617.7H1629.6ZM1644 603.4H1658.3V617.7H1644ZM1472.1 617.7H1486.4V631.9H1472.1ZM1572.3 617.7H1586.7V631.9H1572.3ZM1586.7 617.7H1601V631.9H1586.7ZM1629.6 617.7H1644V631.9H1629.6ZM1457.7 631.9H1472.1V646.2H1457.7ZM1615.3 631.9H1629.6V646.2H1615.3ZM1629.6 631.9H1644V646.2H1629.6ZM1457.7 646.2H1472.1V660.5H1457.7ZM1472.1 646.2H1486.4V660.5H1472.1ZM1615.3 646.2H1629.6V660.5H1615.3ZM1629.6 646.2H1644V660.5H1629.6ZM1658.3 646.2H1672.6V660.5H1658.3ZM1486.4 660.5H1500.7V674.8H1486.4ZM1615.3 660.5H1629.6V674.8H1615.3ZM1772.9 660.5H1787.2V674.8H1772.9ZM1801.6 660.5H1815.9V674.8H1801.6ZM1572.3 674.8H1586.7V689.1H1572.3ZM1601 674.8H1615.3V689.1H1601ZM1629.6 674.8H1644V689.1H1629.6ZM1658.3 674.8H1672.6V689.1H1658.3ZM1729.9 674.8H1744.3V689.1H1729.9Z"/>
<path fill="#ffeda0" d="M1758.6 203.3H1772.9V217.6H1758.6ZM1787.2 203.3H1801.6V217.6H1787.2ZM1801.6 203.3H1815.9V217.6H1801.6ZM1830.2 203.3H1844.5V217.6H1830.2ZM1858.9 203.3H1873.2V217.6H1858.9ZM1887.5 203.3H1901.8V217.6H1887.5ZM1901.8 203.3H1916.2V217.6H1901.8ZM1916.2 203.3H1930.5V217.6H1916.2ZM1729.9 217.6H1744.3V231.9H1729.9ZM1858.9 217.6H1873.2V231.9H1858.9ZM1629.6 231.9H1644V246.2H1629.6ZM1772.9 231.9H1787.2V246.2H1772.9ZM1801.6 231.9H1815.9V246.2H1801.6ZM1844.5 231.9H1858.9V246.2H1844.5ZM1916.2 231.9H1930.5V246.2H1916.2ZM1858.9 246.2H1873.2V260.5H1858.9ZM1687 317.6H1701.3V331.9H1687ZM1758.6 317.6H1772.9V331.9H1758.6ZM1887.5 317.6H1901.8V331.9H1887.5ZM1801.6 331.9H1815.9V346.2H1801.6ZM1844.5 331.9H1858.9V346.2H1844.5ZM1887.5 331.9H1901.8V346.2H1887.5ZM1729.9 346.2H1744.3V360.5H1729.9ZM1758.6 346.2H1772.9V360.5H1758.6ZM1787.2 374.8H1801.6V389H1787.2ZM1472.1 389H1486.4V403.3H1472.1ZM1901.8 389H1916.2V403.3H1901.8ZM1772.9 403.3H1787.2V417.6H1772.9ZM1887.5 403.3H1901.8V417.6H1887.5ZM1901.8 403.3H1916.2V417.6H1901.8ZM1916.2 403.3H1930.5V417.6H1916.2ZM1844.5 417.6H1858.9V431.9H1844.5ZM1873.2 431.9H1887.5V446.2H1873.2ZM1558 446.2H1572.3V460.5H1558ZM1858.9 474.8H1873.2V489.1H1858.9ZM1457.7 489.1H1472.1V503.4H1457.7ZM1586.7 489.1H1601V503.4H1586.7ZM1887.5 489.1H1901.8V503.4H1887.5ZM1443.4 517.6H1457.7V531.9H1443.4ZM1558 517.6H1572.3V531.9H1558ZM1586.7 517.6H1601V531.9H1586.7ZM1887.5 517.6H1901.8V531.9H1887.5ZM1472.1 531.9H1486.4V546.2H1472.1ZM1644 531.9H1658.3V546.2H1644ZM1844.5 531.9H1858.9V546.2H1844.5ZM1443.4 546.2H1457.7V560.5H1443.4ZM1615.3 546.2H1629.6V560.5H1615.3ZM1443.4 560.5H1457.7V574.8H1443.4ZM1472.1 560.5H1486.4V574.8H1472.1ZM1572.3 560.5H1586.7V574.8H1572.3ZM1901.8 574.8H1916.2V589.1H1901.8ZM1443.4 589.1H1457.7V603.4H1443.4ZM1472.1 603.4H1486.4V617.7H1472.1ZM1572.3 603.4H1586.7V617.7H1572.3ZM1658.3 603.4H1672.6V617.7H1658.3ZM1772.9 603.4H1787.2V617.7H1772.9ZM1443.4 617.7H1457.7V631.9H1443.4ZM1457.7 617.7H1472.1V631.9H1457.7ZM1486.4 617.7H1500.7V631.9H1486.4ZM1715.6 617.7H1729.9V631.9H1715.6ZM1672.6 631.9H1687V646.2H1672.6ZM1443.4 646.2H1457.7V660.5H1443.4ZM1558 646.2H1572.3V660.5H1558ZM1572.3 646.2H1586.7V660.5H1572.3ZM1644 646.2H1658.3V660.5H1644ZM1729.9 646.2H1744.3V660.5H1729.9ZM1758.6 646.2H1772.9V660.5H1758.6ZM1443.4 660.5H1457.7V674.8H1443.4ZM1629.6 660.5H1644V674.8H1629.6ZM1644 660.5H1658.3V674.8H1644ZM1815.9 660.5H1830.2V674.8H1815.9ZM1443.4 674.8H1457.7V689.1H1443.4ZM1472.1 674.8H1486.4V689.1H1472.1ZM1644 674.8H1658.3V689.1H1644Z"/>
<path fill="#fea647" d="M1572.3 217.6H1586.7V231.9H1572.3ZM1601 217.6H1615.3V231.9H1601ZM1629.6 217.6H1644V231.9H1629.6ZM1644 217.6H1658.3V231.9H1644ZM1601 231.9H1615.3V246.2H1601ZM1615.3 231.9H1629.6V246.2H1615.3ZM1572.3 246.2H1586.7V260.5H1572.3ZM1601 246.2H1615.3V260.5H1601ZM1629.6 317.6H1644V331.9H1629.6ZM1457.7 331.9H1472.1V346.2H1457.7ZM1486.4 331.9H1500.7V346.2H1486.4ZM1629.6 346.2H1644V360.5H1629.6ZM1457.7 360.5H1472.1V374.8H1457.7ZM1472.1 360.5H1486.4V374.8H1472.1ZM1486.4 360.5H1500.7V374.8H1486.4ZM1472.1 374.8H1486.4V389H1472.1ZM1672.6 374.8H1687V389H1672.6ZM1457.7 389H1472.1V403.3H1457.7ZM1558 389H1572.3V403.3H1558ZM1586.7 389H1601V403.3H1586.7ZM1672.6 389H1687V403.3H1672.6ZM1457.7 403.3H1472.1V417.6H1457.7ZM1701.3 403.3H1715.6V417.6H1701.3ZM1672.6 417.6H1687V431.9H1672.6ZM1744.3 417.6H1758.6V431.9H1744.3ZM1615.3 431.9H1629.6V446.2H1615.3ZM1629.6 431.9H1644V446.2H1629.6ZM1658.3 431.9H1672.6V446.2H1658.3ZM1701.3 431.9H1715.6V446.2H1701.3ZM1644 460.5H1658.3V474.8H1644ZM1672.6 460.5H1687V474.8H1672.6ZM1858.9 460.5H1873.2V474.8H1858.9ZM1658.3 503.4H1672.6V517.6H1658.3ZM1815.9 503.4H1830.2V517.6H1815.9ZM1744.3 574.8H1758.6V589.1H1744.3ZM1916.2 574.8H1930.5V589.1H1916.2ZM1887.5 589.1H1901.8V603.4H1887.5ZM1701.3 617.7H1715.6V631.9H1701.3ZM1830.2 646.2H1844.5V660.5H1830.2ZM1815.9 674.8H1830.2V689.1H1815.9Z"/>
<path fill="#fff3af" d="M1901.8 217.6H1916.2V231.9H1901.8ZM1873.2 246.2H1887.5V260.5H1873.2ZM1844.5 346.2H1858.9V360.5H1844.5ZM1887.5 346.2H1901.8V360.5H1887.5ZM1887.5 360.5H1901.8V374.8H1887.5ZM1787.2 389H1801.6V403.3H1787.2ZM1858.9 417.6H1873.2V431.9H1858.9ZM1916.2 431.9H1930.5V446.2H1916.2ZM1844.5 446.2H1858.9V460.5H1844.5ZM1916.2 446.2H1930.5V460.5H1916.2ZM1830.2 460.5H1844.5V474.8H1830.2ZM1830.2 474.8H1844.5V489.1H1830.2ZM1844.5 474.8H1858.9V489.1H1844.5ZM1916.2 474.8H1930.5V489.1H1916.2ZM1629.6 546.2H1644V560.5H1629.6ZM1701.3 589.1H1715.6V603.4H1701.3ZM1715.6 589.1H1729.9V603.4H1715.6ZM1586.7 603.4H1601V617.7H1586.7ZM1687 603.4H1701.3V617.7H1687ZM1715.6 603.4H1729.9V617.7H1715.6ZM1658.3 617.7H1672.6V631.9H1658.3ZM1486.4 631.9H1500.7V646.2H1486.4ZM1586.7 646.2H1601V660.5H1586.7ZM1601 646.2H1615.3V660.5H1601ZM1457.7 660.5H1472.1V674.8H1457.7ZM1672.6 674.8H1687V689.1H1672.6ZM1687 674.8H1701.3V689.1H1687ZM1715.6 674.8H1729.9V689.1H1715.6Z"/>
<path fill="#fed976" d="M1658.3 231.9H1672.6V246.2H1658.3ZM1901.8 231.9H1916.2V246.2H1901.8ZM1658.3 246.2H1672.6V260.5H1658.3ZM1772.9 246.2H1787.2V260.5H1772.9ZM1787.2 246.2H1801.6V260.5H1787.2ZM1644 317.6H1658.3V331.9H1644ZM1658.3 317.6H1672.6V331.9H1658.3ZM1701.3 317.6H1715.6V331.9H1701.3ZM1873.2 317.6H1887.5V331.9H1873.2ZM1815.9 331.9H1830.2V346.2H1815.9ZM1687 360.5H1701.3V374.8H1687ZM1758.6 360.5H1772.9V374.8H1758.6ZM1873.2 360.5H1887.5V374.8H1873.2ZM1844.5 374.8H1858.9V389H1844.5ZM1830.2 389H1844.5V403.3H1830.2ZM1558 403.3H1572.3V417.6H1558ZM1472.1 417.6H1486.4V431.9H1472.1ZM1486.4 417.6H1500.7V431.9H1486.4ZM1558 417.6H1572.3V431.9H1558ZM1873.2 417.6H1887.5V431.9H1873.2ZM1858.9 431.9H1873.2V446.2H1858.9ZM1601 446.2H1615.3V460.5H1601ZM1558 460.5H1572.3V474.8H1558ZM1887.5 460.5H1901.8V474.8H1887.5ZM1901.8 489.1H1916.2V503.4H1901.8ZM1887.5 503.4H1901.8V517.6H1887.5ZM1601 517.6H1615.3V531.9H1601ZM1830.2 517.6H1844.5V531.9H1830.2ZM1486.4 531.9H1500.7V546.2H1486.4ZM1887.5 531.9H1901.8V546.2H1887.5ZM1486.4 546.2H1500.7V560.5H1486.4ZM1572.3 574.8H1586.7V589.1H1572.3ZM1629.6 589.1H1644V603.4H1629.6ZM1758.6 589.1H1772.9V603.4H1758.6ZM1615.3 603.4H1629.6V617.7H1615.3ZM1672.6 617.7H1687V631.9H1672.6ZM1558 631.9H1572.3V646.2H1558ZM1601 631.9H1615.3V646.2H1601ZM1658.3 631.9H1672.6V646.2H1658.3ZM1701.3 646.2H1715.6V660.5H1701.3ZM1744.3 646.2H1758.6V660.5H1744.3ZM1772.9 646.2H1787.2V660.5H1772.9ZM1472.1 660.5H1486.4V674.8H1472.1ZM1729.9 660.5H1744.3V674.8H1729.9Z"/>
<path fill="#febf5a" d="M1729.9 231.9H1744.3V246.2H1729.9ZM1687 246.2H1701.3V260.5H1687ZM1729.9 246.2H1744.3V260.5H1729.9ZM1873.2 346.2H1887.5V360.5H1873.2ZM1772.9 389H1787.2V403.3H1772.9ZM1658.3 403.3H1672.6V417.6H1658.3ZM1729.9 403.3H1744.3V417.6H1729.9ZM1644 417.6H1658.3V431.9H1644ZM1701.3 417.6H1715.6V431.9H1701.3ZM1787.2 417.6H1801.6V431.9H1787.2ZM1815.9 431.9H1830.2V446.2H1815.9ZM1486.4 446.2H1500.7V460.5H1486.4ZM1658.3 460.5H1672.6V474.8H1658.3ZM1901.8 460.5H1916.2V474.8H1901.8ZM1472.1 489.1H1486.4V503.4H1472.1ZM1486.4 489.1H1500.7V503.4H1486.4ZM1644 489.1H1658.3V503.4H1644ZM1844.5 489.1H1858.9V503.4H1844.5ZM1873.2 503.4H1887.5V517.6H1873.2ZM1815.9 517.6H1830.2V531.9H1815.9ZM1901.8 517.6H1916.2V531.9H1901.8ZM1629.6 531.9H1644V546.2H1629.6ZM1658.3 546.2H1672.6V560.5H1658.3ZM1672.6 574.8H1687V589.1H1672.6ZM1758.6 574.8H1772.9V589.1H1758.6ZM1729.9 603.4H1744.3V617.7H1729.9ZM1586.7 631.9H1601V646.2H1586.7ZM1744.3 631.9H1758.6V646.2H1744.3ZM1701.3 660.5H1715.6V674.8H1701.3ZM1758.6 660.5H1772.9V674.8H1758.6Z"/>
<path fill="#ffe692" d="M1787.2 317.6H1801.6V331.9H1787.2ZM1815.9 317.6H1830.2V331.9H1815.9ZM1772.9 331.9H1787.2V346.2H1772.9ZM1687 346.2H1701.3V360.5H1687ZM1701.3 346.2H1715.6V360.5H1701.3ZM1744.3 346.2H1758.6V360.5H1744.3ZM1815.9 374.8H1830.2V389H1815.9ZM1586.7 446.2H1601V460.5H1586.7ZM1586.7 460.5H1601V474.8H1586.7ZM1887.5 474.8H1901.8V489.1H1887.5ZM1586.7 503.4H1601V517.6H1586.7ZM1572.3 531.9H1586.7V546.2H1572.3ZM1558 546.2H1572.3V560.5H1558ZM1558 574.8H1572.3V589.1H1558ZM1615.3 574.8H1629.6V589.1H1615.3ZM1715.6 646.2H1729.9V660.5H1715.6Z"/>
<path fill="#fd933f" d="M1644 346.2H1658.3V360.5H1644ZM1672.6 346.2H1687V360.5H1672.6ZM1586.7 403.3H1601V417.6H1586.7ZM1687 417.6H1701.3V431.9H1687ZM1830.2 417.6H1844.5V431.9H1830.2ZM1586.7 431.9H1601V446.2H1586.7ZM1715.6 431.9H1729.9V446.2H1715.6ZM1844.5 431.9H1858.9V446.2H1844.5ZM1658.3 446.2H1672.6V460.5H1658.3ZM1744.3 446.2H1758.6V460.5H1744.3ZM1672.6 474.8H1687V489.1H1672.6ZM1687 503.4H1701.3V517.6H1687ZM1658.3 589.1H1672.6V603.4H1658.3ZM1672.6 603.4H1687V617.7H1672.6ZM1887.5 603.4H1901.8V617.7H1887.5ZM1916.2 631.9H1930.5V646.2H1916.2ZM1844.5 646.2H1858.9V660.5H1844.5ZM1873.2 674.8H1887.5V689.1H1873.2Z"/>
<path fill="#fc4e2a" d="M1644 389H1658.3V403.3H1644ZM1629.6 403.3H1644V417.6H1629.6Z"/>
<path fill="#fd7836" d="M1687 431.9H1701.3V446.2H1687ZM1672.6 446.2H1687V460.5H1672.6ZM1901.8 631.9H1916.2V646.2H1901.8ZM1873.2 660.5H1887.5V674.8H1873.2Z"/>
<path fill="#f03423" d="M1916.2 660.5H1930.5V674.8H1916.2ZM1901.8 674.8H1916.2V689.1H1901.8Z"/>
</g>
<rect x="1443.4" y="203.3" width="487.1" height="485.8" fill="none" stroke="#111" stroke-width="1.1"/>
<text x="1435.4" y="216.4" font-size="17" fill="#000" text-anchor="end">0</text>
<text x="1435.4" y="287.9" font-size="17" fill="#000" text-anchor="end">5</text>
<text x="1435.4" y="359.3" font-size="17" fill="#000" text-anchor="end">10</text>
<text x="1435.4" y="430.8" font-size="17" fill="#000" text-anchor="end">15</text>
<text x="1435.4" y="502.2" font-size="17" fill="#000" text-anchor="end">20</text>
<text x="1435.4" y="573.7" font-size="17" fill="#000" text-anchor="end">25</text>
<text x="1435.4" y="645.1" font-size="17" fill="#000" text-anchor="end">30</text>
<path d="M1450.2 203.3v-4.5M1450.2 689.1v4.5M1471.5 203.3v-4.5M1471.5 689.1v4.5M1490 203.3v-4.5M1490 689.1v4.5M1501.4 203.3v-4.5M1501.4 689.1v4.5M1514.2 203.3v-4.5M1514.2 689.1v4.5M1528.9 203.3v-4.5M1528.9 689.1v4.5M1542.9 203.3v-4.5M1542.9 689.1v4.5M1557.6 203.3v-4.5M1557.6 689.1v4.5M1569.1 203.3v-4.5M1569.1 689.1v4.5M1743.5 203.3v-4.5M1743.5 689.1v4.5M1923 203.3v-4.5M1923 689.1v4.5M1443.4 210.4h-4.5M1443.4 281.9h-4.5M1443.4 353.3h-4.5M1443.4 424.8h-4.5M1443.4 496.2h-4.5M1443.4 567.7h-4.5M1443.4 639.1h-4.5" stroke="#222" stroke-width="1" fill="none"/>
<path d="M1500.7 203.3V689.1M1443.4 260.5H1930.5M1529.4 203.3V689.1M1443.4 289H1930.5M1558 203.3V689.1M1443.4 317.6H1930.5" stroke="#000" stroke-width="1.9" stroke-dasharray="6.2 2.7" fill="none"/>
<text transform="translate(1457.2 194) rotate(-90)" font-size="17.8" fill="#000" textLength="74" lengthAdjust="spacing" >47.028Mb</text>
<text transform="translate(1478.5 193.3) rotate(-90)" font-size="17.8" fill="#000" textLength="44.7" lengthAdjust="spacing" >chr20</text>
<text transform="translate(1497 194) rotate(-90)" font-size="17.8" fill="#000" textLength="74" lengthAdjust="spacing" >47.032Mb</text>
<text transform="translate(1507.6 194) rotate(-90)" font-size="17.8" fill="#000" textLength="34.4" lengthAdjust="spacing" >2Kb</text>
<text transform="translate(1521.4 193.3) rotate(-90)" font-size="17.8" fill="#000" textLength="49.8" lengthAdjust="spacing" >HPV16</text>
<text transform="translate(1535.7 194) rotate(-90)" font-size="17.8" fill="#000" textLength="95" lengthAdjust="spacing" >0Kb (8Kb)</text>
<text transform="translate(1549.7 193.3) rotate(-90)" font-size="17.8" fill="#000" textLength="63.2" lengthAdjust="spacing" >HPV16</text>
<text transform="translate(1563.8 194) rotate(-90)" font-size="17.8" fill="#000" textLength="27.4" lengthAdjust="spacing" >6Kb</text>
<text transform="translate(1578.4 194) rotate(-90)" font-size="17.8" fill="#000" textLength="97" lengthAdjust="spacing" >47.032Mb</text>
<text transform="translate(1752.3 192.5) rotate(-90)" font-size="17.8" fill="#000" textLength="38.5" lengthAdjust="spacing" >ch20</text>
<text transform="translate(1929.8 188.5) rotate(-90)" font-size="17.8" fill="#000" textLength="73.5" lengthAdjust="spacing" >47.058Mb</text>
<text transform="translate(1409 467) rotate(-90)" font-size="17.5" fill="#000" textLength="168" lengthAdjust="spacing" text-anchor="middle" >Bins (1K resolution)</text>
<defs><linearGradient id="cbC" x1="0" y1="0" x2="0" y2="1"><stop offset="0%" stop-color="#800026"/><stop offset="12.5%" stop-color="#bd0026"/><stop offset="25%" stop-color="#e31a1c"/><stop offset="37.5%" stop-color="#fc4e2a"/><stop offset="50%" stop-color="#fd8d3c"/><stop offset="62.5%" stop-color="#feb24c"/><stop offset="75%" stop-color="#fed976"/><stop offset="87.5%" stop-color="#ffeda0"/><stop offset="100%" stop-color="#ffffcc"/></linearGradient></defs>
<rect x="1951.2" y="201.6" width="24.8" height="488.4" fill="url(#cbC)" stroke="#222" stroke-width="1"/>
<text x="1989.9" y="209.2" font-size="20" fill="#000" textLength="31.8" lengthAdjust="spacing">2.0</text>
<text x="1989.9" y="263.5" font-size="20" fill="#000" textLength="31.8" lengthAdjust="spacing">1.8</text>
<text x="1989.9" y="317.7" font-size="20" fill="#000" textLength="31.8" lengthAdjust="spacing">1.6</text>
<text x="1989.9" y="372" font-size="20" fill="#000" textLength="31.8" lengthAdjust="spacing">1.4</text>
<text x="1989.9" y="426.3" font-size="20" fill="#000" textLength="31.8" lengthAdjust="spacing">1.2</text>
<text x="1989.9" y="480.5" font-size="20" fill="#000" textLength="31.8" lengthAdjust="spacing">1.0</text>
<text x="1989.9" y="534.8" font-size="20" fill="#000" textLength="31.8" lengthAdjust="spacing">0.8</text>
<text x="1989.9" y="589.1" font-size="20" fill="#000" textLength="31.8" lengthAdjust="spacing">0.6</text>
<text x="1989.9" y="643.3" font-size="20" fill="#000" textLength="31.8" lengthAdjust="spacing">0.4</text>
<text x="1989.9" y="697.6" font-size="20" fill="#000" textLength="31.8" lengthAdjust="spacing">0.2</text>
<path d="M1976 201.6h3.4M1976 255.9h3.4M1976 310.1h3.4M1976 364.4h3.4M1976 418.7h3.4M1976 472.9h3.4M1976 527.2h3.4M1976 581.5h3.4M1976 635.7h3.4M1976 690h3.4" stroke="#333" stroke-width="1.2"/>
<text x="1439" y="745.1" font-size="48" fill="#008f8f" textLength="59" lengthAdjust="spacingAndGlyphs" font-weight="bold">S2</text>
<text x="1707" y="745.1" font-size="48" fill="#000" textLength="54" lengthAdjust="spacingAndGlyphs" font-weight="bold">S1</text>
<text transform="translate(1506.3 714.5) rotate(90)" font-size="28.4" fill="#ff2d96" textLength="137" lengthAdjust="spacingAndGlyphs" font-weight="bold" >HPV_Early</text>
<text transform="translate(1540.4 714.5) rotate(90)" font-size="28.4" fill="#ff2d96" textLength="128.5" lengthAdjust="spacingAndGlyphs" font-weight="bold" >HPV_Late</text>
<g shape-rendering="crispEdges">
<path fill="#800026" d="M101.6 1086.9H115.5V1100.8H101.6ZM115.5 1086.9H129.4V1100.8H115.5ZM101.6 1100.8H115.5V1114.7H101.6ZM115.5 1100.8H129.4V1114.7H115.5ZM129.4 1100.8H143.3V1114.7H129.4ZM115.5 1114.7H129.4V1128.6H115.5ZM129.4 1114.7H143.3V1128.6H129.4ZM143.3 1114.7H157.3V1128.6H143.3ZM129.4 1128.6H143.3V1142.5H129.4ZM143.3 1128.6H157.3V1142.5H143.3ZM157.3 1128.6H171.2V1142.5H157.3ZM143.3 1142.5H157.3V1156.4H143.3ZM157.3 1142.5H171.2V1156.4H157.3ZM171.2 1142.5H185.1V1156.4H171.2ZM157.3 1156.4H171.2V1170.3H157.3ZM171.2 1156.4H185.1V1170.3H171.2ZM185.1 1170.3H199V1184.2H185.1ZM199 1170.3H212.9V1184.2H199ZM185.1 1184.2H199V1198.1H185.1ZM199 1184.2H212.9V1198.1H199ZM212.9 1184.2H226.8V1198.1H212.9ZM199 1198.1H212.9V1212H199ZM212.9 1198.1H226.8V1212H212.9ZM226.8 1198.1H240.7V1212H226.8ZM212.9 1212H226.8V1225.9H212.9ZM226.8 1212H240.7V1225.9H226.8ZM240.7 1212H254.7V1225.9H240.7ZM226.8 1225.9H240.7V1239.8H226.8ZM240.7 1225.9H254.7V1239.8H240.7ZM254.7 1225.9H268.6V1239.8H254.7ZM240.7 1239.8H254.7V1253.7H240.7ZM254.7 1239.8H268.6V1253.7H254.7ZM268.6 1253.7H282.5V1267.6H268.6ZM282.5 1253.7H296.4V1267.6H282.5ZM268.6 1267.6H282.5V1281.5H268.6ZM282.5 1267.6H296.4V1281.5H282.5ZM296.4 1267.6H310.3V1281.5H296.4ZM282.5 1281.5H296.4V1295.4H282.5ZM296.4 1281.5H310.3V1295.4H296.4ZM310.3 1281.5H324.2V1295.4H310.3ZM296.4 1295.4H310.3V1309.3H296.4ZM310.3 1295.4H324.2V1309.3H310.3ZM324.2 1309.3H338.1V1323.2H324.2ZM338.1 1309.3H352.1V1323.2H338.1ZM324.2 1323.2H338.1V1337.1H324.2ZM338.1 1323.2H352.1V1337.1H338.1ZM352.1 1323.2H366V1337.1H352.1ZM338.1 1337.1H352.1V1351H338.1ZM352.1 1337.1H366V1351H352.1ZM366 1351H379.9V1364.9H366ZM379.9 1351H393.8V1364.9H379.9ZM366 1364.9H379.9V1378.8H366ZM379.9 1364.9H393.8V1378.8H379.9ZM393.8 1364.9H407.7V1378.8H393.8ZM379.9 1378.8H393.8V1392.7H379.9ZM393.8 1378.8H407.7V1392.7H393.8ZM407.7 1378.8H421.6V1392.7H407.7ZM393.8 1392.7H407.7V1406.6H393.8ZM407.7 1392.7H421.6V1406.6H407.7ZM421.6 1392.7H435.5V1406.6H421.6ZM407.7 1406.6H421.6V1420.5H407.7ZM421.6 1406.6H435.5V1420.5H421.6ZM435.5 1406.6H449.5V1420.5H435.5ZM421.6 1420.5H435.5V1434.4H421.6ZM435.5 1420.5H449.5V1434.4H435.5ZM449.5 1420.5H463.4V1434.4H449.5ZM435.5 1434.4H449.5V1448.3H435.5ZM449.5 1434.4H463.4V1448.3H449.5ZM463.4 1434.4H477.3V1448.3H463.4ZM449.5 1448.3H463.4V1462.2H449.5ZM463.4 1448.3H477.3V1462.2H463.4ZM477.3 1448.3H491.2V1462.2H477.3ZM463.4 1462.2H477.3V1476.1H463.4ZM477.3 1462.2H491.2V1476.1H477.3ZM491.2 1462.2H505.1V1476.1H491.2ZM477.3 1476.1H491.2V1490H477.3ZM491.2 1476.1H505.1V1490H491.2ZM505.1 1476.1H519V1490H505.1ZM491.2 1490H505.1V1503.9H491.2ZM505.1 1490H519V1503.9H505.1ZM519 1503.9H532.9V1517.8H519ZM532.9 1503.9H546.9V1517.8H532.9ZM519 1517.8H532.9V1531.7H519ZM532.9 1517.8H546.9V1531.7H532.9ZM546.9 1531.7H560.8V1545.6H546.9ZM560.8 1531.7H574.7V1545.6H560.8ZM546.9 1545.6H560.8V1559.5H546.9ZM560.8 1545.6H574.7V1559.5H560.8ZM574.7 1545.6H588.6V1559.5H574.7ZM560.8 1559.5H574.7V1573.4H560.8ZM574.7 1559.5H588.6V1573.4H574.7Z"/>
<path fill="#fd8239" d="M129.4 1086.9H143.3V1100.8H129.4ZM143.3 1086.9H157.3V1100.8H143.3ZM101.6 1114.7H115.5V1128.6H101.6ZM171.2 1114.7H185.1V1128.6H171.2ZM101.6 1128.6H115.5V1142.5H101.6ZM129.4 1156.4H143.3V1170.3H129.4ZM212.9 1156.4H226.8V1170.3H212.9ZM226.8 1156.4H240.7V1170.3H226.8ZM240.7 1170.3H254.7V1184.2H240.7ZM171.2 1198.1H185.1V1212H171.2ZM240.7 1198.1H254.7V1212H240.7ZM268.6 1198.1H282.5V1212H268.6ZM171.2 1212H185.1V1225.9H171.2ZM268.6 1212H282.5V1225.9H268.6ZM185.1 1225.9H199V1239.8H185.1ZM212.9 1225.9H226.8V1239.8H212.9ZM268.6 1225.9H282.5V1239.8H268.6ZM212.9 1253.7H226.8V1267.6H212.9ZM226.8 1253.7H240.7V1267.6H226.8ZM240.7 1253.7H254.7V1267.6H240.7ZM407.7 1295.4H421.6V1309.3H407.7ZM379.9 1309.3H393.8V1323.2H379.9ZM435.5 1351H449.5V1364.9H435.5ZM324.2 1364.9H338.1V1378.8H324.2ZM435.5 1364.9H449.5V1378.8H435.5ZM310.3 1392.7H324.2V1406.6H310.3ZM366 1420.5H379.9V1434.4H366ZM379.9 1420.5H393.8V1434.4H379.9ZM477.3 1434.4H491.2V1448.3H477.3ZM505.1 1434.4H519V1448.3H505.1ZM519 1434.4H532.9V1448.3H519ZM505.1 1448.3H519V1462.2H505.1ZM449.5 1462.2H463.4V1476.1H449.5ZM505.1 1462.2H519V1476.1H505.1ZM519 1462.2H532.9V1476.1H519ZM519 1476.1H532.9V1490H519ZM532.9 1476.1H546.9V1490H532.9ZM546.9 1476.1H560.8V1490H546.9ZM560.8 1476.1H574.7V1490H560.8ZM574.7 1476.1H588.6V1490H574.7ZM449.5 1490H463.4V1503.9H449.5ZM463.4 1490H477.3V1503.9H463.4ZM477.3 1490H491.2V1503.9H477.3ZM449.5 1503.9H463.4V1517.8H449.5ZM477.3 1503.9H491.2V1517.8H477.3ZM491.2 1503.9H505.1V1517.8H491.2ZM491.2 1517.8H505.1V1531.7H491.2ZM491.2 1531.7H505.1V1545.6H491.2ZM574.7 1531.7H588.6V1545.6H574.7ZM491.2 1545.6H505.1V1559.5H491.2ZM491.2 1559.5H505.1V1573.4H491.2ZM546.9 1559.5H560.8V1573.4H546.9Z"/>
<path fill="#fff9bd" d="M157.3 1086.9H171.2V1100.8H157.3ZM296.4 1086.9H310.3V1100.8H296.4ZM366 1086.9H379.9V1100.8H366ZM379.9 1086.9H393.8V1100.8H379.9ZM421.6 1086.9H435.5V1100.8H421.6ZM463.4 1086.9H477.3V1100.8H463.4ZM477.3 1086.9H491.2V1100.8H477.3ZM491.2 1086.9H505.1V1100.8H491.2ZM254.7 1100.8H268.6V1114.7H254.7ZM282.5 1100.8H296.4V1114.7H282.5ZM296.4 1100.8H310.3V1114.7H296.4ZM366 1100.8H379.9V1114.7H366ZM393.8 1100.8H407.7V1114.7H393.8ZM435.5 1100.8H449.5V1114.7H435.5ZM477.3 1100.8H491.2V1114.7H477.3ZM324.2 1114.7H338.1V1128.6H324.2ZM338.1 1114.7H352.1V1128.6H338.1ZM393.8 1114.7H407.7V1128.6H393.8ZM407.7 1114.7H421.6V1128.6H407.7ZM421.6 1114.7H435.5V1128.6H421.6ZM463.4 1114.7H477.3V1128.6H463.4ZM240.7 1128.6H254.7V1142.5H240.7ZM296.4 1128.6H310.3V1142.5H296.4ZM324.2 1128.6H338.1V1142.5H324.2ZM352.1 1128.6H366V1142.5H352.1ZM366 1128.6H379.9V1142.5H366ZM407.7 1128.6H421.6V1142.5H407.7ZM421.6 1128.6H435.5V1142.5H421.6ZM463.4 1128.6H477.3V1142.5H463.4ZM532.9 1128.6H546.9V1142.5H532.9ZM101.6 1142.5H115.5V1156.4H101.6ZM240.7 1142.5H254.7V1156.4H240.7ZM282.5 1142.5H296.4V1156.4H282.5ZM310.3 1142.5H324.2V1156.4H310.3ZM366 1142.5H379.9V1156.4H366ZM421.6 1142.5H435.5V1156.4H421.6ZM477.3 1142.5H491.2V1156.4H477.3ZM491.2 1142.5H505.1V1156.4H491.2ZM519 1142.5H532.9V1156.4H519ZM574.7 1142.5H588.6V1156.4H574.7ZM254.7 1156.4H268.6V1170.3H254.7ZM310.3 1156.4H324.2V1170.3H310.3ZM352.1 1156.4H366V1170.3H352.1ZM366 1156.4H379.9V1170.3H366ZM379.9 1156.4H393.8V1170.3H379.9ZM407.7 1156.4H421.6V1170.3H407.7ZM421.6 1156.4H435.5V1170.3H421.6ZM435.5 1156.4H449.5V1170.3H435.5ZM477.3 1156.4H491.2V1170.3H477.3ZM574.7 1156.4H588.6V1170.3H574.7ZM296.4 1170.3H310.3V1184.2H296.4ZM324.2 1170.3H338.1V1184.2H324.2ZM352.1 1170.3H366V1184.2H352.1ZM366 1170.3H379.9V1184.2H366ZM379.9 1170.3H393.8V1184.2H379.9ZM393.8 1170.3H407.7V1184.2H393.8ZM435.5 1170.3H449.5V1184.2H435.5ZM449.5 1170.3H463.4V1184.2H449.5ZM477.3 1170.3H491.2V1184.2H477.3ZM546.9 1170.3H560.8V1184.2H546.9ZM324.2 1184.2H338.1V1198.1H324.2ZM366 1184.2H379.9V1198.1H366ZM435.5 1184.2H449.5V1198.1H435.5ZM477.3 1184.2H491.2V1198.1H477.3ZM491.2 1184.2H505.1V1198.1H491.2ZM505.1 1184.2H519V1198.1H505.1ZM519 1184.2H532.9V1198.1H519ZM546.9 1184.2H560.8V1198.1H546.9ZM560.8 1184.2H574.7V1198.1H560.8ZM574.7 1184.2H588.6V1198.1H574.7ZM407.7 1198.1H421.6V1212H407.7ZM435.5 1198.1H449.5V1212H435.5ZM546.9 1198.1H560.8V1212H546.9ZM574.7 1198.1H588.6V1212H574.7ZM393.8 1212H407.7V1225.9H393.8ZM407.7 1212H421.6V1225.9H407.7ZM463.4 1212H477.3V1225.9H463.4ZM491.2 1212H505.1V1225.9H491.2ZM519 1212H532.9V1225.9H519ZM143.3 1225.9H157.3V1239.8H143.3ZM157.3 1225.9H171.2V1239.8H157.3ZM393.8 1225.9H407.7V1239.8H393.8ZM115.5 1239.8H129.4V1253.7H115.5ZM171.2 1239.8H185.1V1253.7H171.2ZM379.9 1239.8H393.8V1253.7H379.9ZM393.8 1239.8H407.7V1253.7H393.8ZM421.6 1239.8H435.5V1253.7H421.6ZM435.5 1239.8H449.5V1253.7H435.5ZM519 1239.8H532.9V1253.7H519ZM560.8 1239.8H574.7V1253.7H560.8ZM338.1 1253.7H352.1V1267.6H338.1ZM449.5 1253.7H463.4V1267.6H449.5ZM115.5 1267.6H129.4V1281.5H115.5ZM157.3 1267.6H171.2V1281.5H157.3ZM379.9 1267.6H393.8V1281.5H379.9ZM393.8 1267.6H407.7V1281.5H393.8ZM463.4 1267.6H477.3V1281.5H463.4ZM477.3 1267.6H491.2V1281.5H477.3ZM546.9 1267.6H560.8V1281.5H546.9ZM101.6 1281.5H115.5V1295.4H101.6ZM115.5 1281.5H129.4V1295.4H115.5ZM143.3 1281.5H157.3V1295.4H143.3ZM185.1 1281.5H199V1295.4H185.1ZM477.3 1281.5H491.2V1295.4H477.3ZM491.2 1281.5H505.1V1295.4H491.2ZM505.1 1281.5H519V1295.4H505.1ZM519 1281.5H532.9V1295.4H519ZM532.9 1281.5H546.9V1295.4H532.9ZM560.8 1281.5H574.7V1295.4H560.8ZM574.7 1281.5H588.6V1295.4H574.7ZM157.3 1295.4H171.2V1309.3H157.3ZM171.2 1295.4H185.1V1309.3H171.2ZM463.4 1295.4H477.3V1309.3H463.4ZM477.3 1295.4H491.2V1309.3H477.3ZM574.7 1295.4H588.6V1309.3H574.7ZM129.4 1309.3H143.3V1323.2H129.4ZM143.3 1309.3H157.3V1323.2H143.3ZM185.1 1309.3H199V1323.2H185.1ZM199 1309.3H212.9V1323.2H199ZM129.4 1323.2H143.3V1337.1H129.4ZM268.6 1323.2H282.5V1337.1H268.6ZM407.7 1323.2H421.6V1337.1H407.7ZM532.9 1323.2H546.9V1337.1H532.9ZM143.3 1337.1H157.3V1351H143.3ZM171.2 1337.1H185.1V1351H171.2ZM185.1 1337.1H199V1351H185.1ZM505.1 1337.1H519V1351H505.1ZM574.7 1337.1H588.6V1351H574.7ZM101.6 1351H115.5V1364.9H101.6ZM115.5 1351H129.4V1364.9H115.5ZM143.3 1351H157.3V1364.9H143.3ZM157.3 1351H171.2V1364.9H157.3ZM171.2 1351H185.1V1364.9H171.2ZM185.1 1351H199V1364.9H185.1ZM199 1351H212.9V1364.9H199ZM560.8 1351H574.7V1364.9H560.8ZM574.7 1351H588.6V1364.9H574.7ZM101.6 1364.9H115.5V1378.8H101.6ZM171.2 1364.9H185.1V1378.8H171.2ZM185.1 1364.9H199V1378.8H185.1ZM254.7 1364.9H268.6V1378.8H254.7ZM282.5 1364.9H296.4V1378.8H282.5ZM115.5 1378.8H129.4V1392.7H115.5ZM129.4 1378.8H143.3V1392.7H129.4ZM185.1 1378.8H199V1392.7H185.1ZM226.8 1378.8H240.7V1392.7H226.8ZM240.7 1378.8H254.7V1392.7H240.7ZM254.7 1378.8H268.6V1392.7H254.7ZM282.5 1378.8H296.4V1392.7H282.5ZM505.1 1378.8H519V1392.7H505.1ZM532.9 1378.8H546.9V1392.7H532.9ZM129.4 1392.7H143.3V1406.6H129.4ZM143.3 1392.7H157.3V1406.6H143.3ZM171.2 1392.7H185.1V1406.6H171.2ZM212.9 1392.7H226.8V1406.6H212.9ZM226.8 1392.7H240.7V1406.6H226.8ZM338.1 1392.7H352.1V1406.6H338.1ZM477.3 1392.7H491.2V1406.6H477.3ZM519 1392.7H532.9V1406.6H519ZM101.6 1406.6H115.5V1420.5H101.6ZM129.4 1406.6H143.3V1420.5H129.4ZM143.3 1406.6H157.3V1420.5H143.3ZM157.3 1406.6H171.2V1420.5H157.3ZM171.2 1406.6H185.1V1420.5H171.2ZM254.7 1406.6H268.6V1420.5H254.7ZM532.9 1406.6H546.9V1420.5H532.9ZM115.5 1420.5H129.4V1434.4H115.5ZM171.2 1420.5H185.1V1434.4H171.2ZM185.1 1420.5H199V1434.4H185.1ZM199 1420.5H212.9V1434.4H199ZM212.9 1420.5H226.8V1434.4H212.9ZM254.7 1420.5H268.6V1434.4H254.7ZM185.1 1434.4H199V1448.3H185.1ZM268.6 1434.4H282.5V1448.3H268.6ZM101.6 1448.3H115.5V1462.2H101.6ZM129.4 1448.3H143.3V1462.2H129.4ZM143.3 1448.3H157.3V1462.2H143.3ZM226.8 1448.3H240.7V1462.2H226.8ZM282.5 1448.3H296.4V1462.2H282.5ZM310.3 1448.3H324.2V1462.2H310.3ZM560.8 1448.3H574.7V1462.2H560.8ZM101.6 1462.2H115.5V1476.1H101.6ZM115.5 1462.2H129.4V1476.1H115.5ZM157.3 1462.2H171.2V1476.1H157.3ZM171.2 1462.2H185.1V1476.1H171.2ZM185.1 1462.2H199V1476.1H185.1ZM199 1462.2H212.9V1476.1H199ZM282.5 1462.2H296.4V1476.1H282.5ZM296.4 1462.2H310.3V1476.1H296.4ZM310.3 1462.2H324.2V1476.1H310.3ZM407.7 1462.2H421.6V1476.1H407.7ZM101.6 1476.1H115.5V1490H101.6ZM157.3 1476.1H171.2V1490H157.3ZM199 1476.1H212.9V1490H199ZM226.8 1476.1H240.7V1490H226.8ZM296.4 1476.1H310.3V1490H296.4ZM199 1490H212.9V1503.9H199ZM296.4 1490H310.3V1503.9H296.4ZM352.1 1490H366V1503.9H352.1ZM393.8 1490H407.7V1503.9H393.8ZM157.3 1503.9H171.2V1517.8H157.3ZM199 1503.9H212.9V1517.8H199ZM226.8 1503.9H240.7V1517.8H226.8ZM254.7 1503.9H268.6V1517.8H254.7ZM296.4 1503.9H310.3V1517.8H296.4ZM407.7 1503.9H421.6V1517.8H407.7ZM143.3 1517.8H157.3V1531.7H143.3ZM296.4 1517.8H310.3V1531.7H296.4ZM338.1 1517.8H352.1V1531.7H338.1ZM393.8 1517.8H407.7V1531.7H393.8ZM421.6 1517.8H435.5V1531.7H421.6ZM185.1 1531.7H199V1545.6H185.1ZM199 1531.7H212.9V1545.6H199ZM212.9 1531.7H226.8V1545.6H212.9ZM282.5 1531.7H296.4V1545.6H282.5ZM199 1545.6H212.9V1559.5H199ZM254.7 1545.6H268.6V1559.5H254.7ZM296.4 1545.6H310.3V1559.5H296.4ZM366 1545.6H379.9V1559.5H366ZM463.4 1545.6H477.3V1559.5H463.4ZM157.3 1559.5H171.2V1573.4H157.3ZM171.2 1559.5H185.1V1573.4H171.2ZM199 1559.5H212.9V1573.4H199ZM212.9 1559.5H226.8V1573.4H212.9ZM296.4 1559.5H310.3V1573.4H296.4ZM310.3 1559.5H324.2V1573.4H310.3ZM352.1 1559.5H366V1573.4H352.1ZM366 1559.5H379.9V1573.4H366Z"/>
<path fill="#fd9941" d="M171.2 1086.9H185.1V1100.8H171.2ZM560.8 1086.9H574.7V1100.8H560.8ZM143.3 1100.8H157.3V1114.7H143.3ZM157.3 1100.8H171.2V1114.7H157.3ZM171.2 1100.8H185.1V1114.7H171.2ZM546.9 1100.8H560.8V1114.7H546.9ZM560.8 1100.8H574.7V1114.7H560.8ZM574.7 1100.8H588.6V1114.7H574.7ZM157.3 1114.7H171.2V1128.6H157.3ZM560.8 1114.7H574.7V1128.6H560.8ZM115.5 1128.6H129.4V1142.5H115.5ZM171.2 1128.6H185.1V1142.5H171.2ZM185.1 1128.6H199V1142.5H185.1ZM115.5 1142.5H129.4V1156.4H115.5ZM129.4 1142.5H143.3V1156.4H129.4ZM185.1 1142.5H199V1156.4H185.1ZM101.6 1156.4H115.5V1170.3H101.6ZM115.5 1156.4H129.4V1170.3H115.5ZM143.3 1156.4H157.3V1170.3H143.3ZM143.3 1170.3H157.3V1184.2H143.3ZM157.3 1170.3H171.2V1184.2H157.3ZM226.8 1184.2H240.7V1198.1H226.8ZM296.4 1198.1H310.3V1212H296.4ZM199 1212H212.9V1225.9H199ZM254.7 1212H268.6V1225.9H254.7ZM310.3 1212H324.2V1225.9H310.3ZM282.5 1225.9H296.4V1239.8H282.5ZM226.8 1239.8H240.7V1253.7H226.8ZM296.4 1239.8H310.3V1253.7H296.4ZM310.3 1239.8H324.2V1253.7H310.3ZM421.6 1253.7H435.5V1267.6H421.6ZM240.7 1267.6H254.7V1281.5H240.7ZM324.2 1267.6H338.1V1281.5H324.2ZM212.9 1281.5H226.8V1295.4H212.9ZM254.7 1281.5H268.6V1295.4H254.7ZM226.8 1295.4H240.7V1309.3H226.8ZM254.7 1295.4H268.6V1309.3H254.7ZM352.1 1295.4H366V1309.3H352.1ZM379.9 1295.4H393.8V1309.3H379.9ZM282.5 1309.3H296.4V1323.2H282.5ZM421.6 1309.3H435.5V1323.2H421.6ZM379.9 1323.2H393.8V1337.1H379.9ZM421.6 1323.2H435.5V1337.1H421.6ZM310.3 1337.1H324.2V1351H310.3ZM449.5 1351H463.4V1364.9H449.5ZM310.3 1364.9H324.2V1378.8H310.3ZM338.1 1364.9H352.1V1378.8H338.1ZM463.4 1364.9H477.3V1378.8H463.4ZM435.5 1378.8H449.5V1392.7H435.5ZM449.5 1392.7H463.4V1406.6H449.5ZM268.6 1406.6H282.5V1420.5H268.6ZM324.2 1406.6H338.1V1420.5H324.2ZM338.1 1406.6H352.1V1420.5H338.1ZM393.8 1420.5H407.7V1434.4H393.8ZM463.4 1420.5H477.3V1434.4H463.4ZM491.2 1420.5H505.1V1434.4H491.2ZM366 1434.4H379.9V1448.3H366ZM407.7 1434.4H421.6V1448.3H407.7ZM379.9 1448.3H393.8V1462.2H379.9ZM435.5 1448.3H449.5V1462.2H435.5ZM532.9 1462.2H546.9V1476.1H532.9ZM546.9 1462.2H560.8V1476.1H546.9ZM560.8 1462.2H574.7V1476.1H560.8ZM435.5 1476.1H449.5V1490H435.5ZM546.9 1490H560.8V1503.9H546.9ZM560.8 1490H574.7V1503.9H560.8ZM574.7 1503.9H588.6V1517.8H574.7ZM477.3 1517.8H491.2V1531.7H477.3ZM574.7 1517.8H588.6V1531.7H574.7ZM115.5 1531.7H129.4V1545.6H115.5ZM477.3 1531.7H491.2V1545.6H477.3ZM505.1 1531.7H519V1545.6H505.1ZM101.6 1545.6H115.5V1559.5H101.6ZM115.5 1545.6H129.4V1559.5H115.5ZM129.4 1545.6H143.3V1559.5H129.4ZM477.3 1545.6H491.2V1559.5H477.3ZM505.1 1545.6H519V1559.5H505.1ZM115.5 1559.5H129.4V1573.4H115.5ZM519 1559.5H532.9V1573.4H519ZM532.9 1559.5H546.9V1573.4H532.9Z"/>
<path fill="#fecc68" d="M185.1 1086.9H199V1100.8H185.1ZM199 1086.9H212.9V1100.8H199ZM282.5 1086.9H296.4V1100.8H282.5ZM240.7 1100.8H254.7V1114.7H240.7ZM324.2 1100.8H338.1V1114.7H324.2ZM519 1100.8H532.9V1114.7H519ZM254.7 1114.7H268.6V1128.6H254.7ZM282.5 1114.7H296.4V1128.6H282.5ZM296.4 1114.7H310.3V1128.6H296.4ZM310.3 1114.7H324.2V1128.6H310.3ZM310.3 1128.6H324.2V1142.5H310.3ZM505.1 1128.6H519V1142.5H505.1ZM574.7 1128.6H588.6V1142.5H574.7ZM199 1142.5H212.9V1156.4H199ZM212.9 1142.5H226.8V1156.4H212.9ZM268.6 1142.5H282.5V1156.4H268.6ZM296.4 1142.5H310.3V1156.4H296.4ZM379.9 1142.5H393.8V1156.4H379.9ZM282.5 1156.4H296.4V1170.3H282.5ZM296.4 1156.4H310.3V1170.3H296.4ZM101.6 1170.3H115.5V1184.2H101.6ZM407.7 1170.3H421.6V1184.2H407.7ZM491.2 1170.3H505.1V1184.2H491.2ZM574.7 1170.3H588.6V1184.2H574.7ZM101.6 1184.2H115.5V1198.1H101.6ZM157.3 1184.2H171.2V1198.1H157.3ZM296.4 1184.2H310.3V1198.1H296.4ZM157.3 1198.1H171.2V1212H157.3ZM366 1198.1H379.9V1212H366ZM421.6 1198.1H435.5V1212H421.6ZM505.1 1212H519V1225.9H505.1ZM532.9 1212H546.9V1225.9H532.9ZM560.8 1212H574.7V1225.9H560.8ZM115.5 1225.9H129.4V1239.8H115.5ZM379.9 1225.9H393.8V1239.8H379.9ZM421.6 1225.9H435.5V1239.8H421.6ZM129.4 1239.8H143.3V1253.7H129.4ZM324.2 1239.8H338.1V1253.7H324.2ZM157.3 1253.7H171.2V1267.6H157.3ZM435.5 1253.7H449.5V1267.6H435.5ZM463.4 1253.7H477.3V1267.6H463.4ZM505.1 1253.7H519V1267.6H505.1ZM101.6 1267.6H115.5V1281.5H101.6ZM129.4 1267.6H143.3V1281.5H129.4ZM171.2 1267.6H185.1V1281.5H171.2ZM129.4 1281.5H143.3V1295.4H129.4ZM157.3 1281.5H171.2V1295.4H157.3ZM171.2 1281.5H185.1V1295.4H171.2ZM199 1281.5H212.9V1295.4H199ZM338.1 1281.5H352.1V1295.4H338.1ZM407.7 1281.5H421.6V1295.4H407.7ZM435.5 1281.5H449.5V1295.4H435.5ZM546.9 1281.5H560.8V1295.4H546.9ZM129.4 1295.4H143.3V1309.3H129.4ZM143.3 1295.4H157.3V1309.3H143.3ZM338.1 1295.4H352.1V1309.3H338.1ZM505.1 1295.4H519V1309.3H505.1ZM546.9 1295.4H560.8V1309.3H546.9ZM115.5 1309.3H129.4V1323.2H115.5ZM254.7 1309.3H268.6V1323.2H254.7ZM296.4 1323.2H310.3V1337.1H296.4ZM310.3 1323.2H324.2V1337.1H310.3ZM435.5 1323.2H449.5V1337.1H435.5ZM421.6 1337.1H435.5V1351H421.6ZM491.2 1337.1H505.1V1351H491.2ZM212.9 1351H226.8V1364.9H212.9ZM477.3 1351H491.2V1364.9H477.3ZM491.2 1351H505.1V1364.9H491.2ZM519 1351H532.9V1364.9H519ZM546.9 1351H560.8V1364.9H546.9ZM157.3 1364.9H171.2V1378.8H157.3ZM240.7 1364.9H254.7V1378.8H240.7ZM477.3 1364.9H491.2V1378.8H477.3ZM491.2 1364.9H505.1V1378.8H491.2ZM185.1 1392.7H199V1406.6H185.1ZM296.4 1392.7H310.3V1406.6H296.4ZM491.2 1392.7H505.1V1406.6H491.2ZM212.9 1406.6H226.8V1420.5H212.9ZM240.7 1406.6H254.7V1420.5H240.7ZM352.1 1406.6H366V1420.5H352.1ZM505.1 1406.6H519V1420.5H505.1ZM574.7 1406.6H588.6V1420.5H574.7ZM268.6 1420.5H282.5V1434.4H268.6ZM296.4 1420.5H310.3V1434.4H296.4ZM338.1 1420.5H352.1V1434.4H338.1ZM477.3 1420.5H491.2V1434.4H477.3ZM505.1 1420.5H519V1434.4H505.1ZM519 1420.5H532.9V1434.4H519ZM532.9 1420.5H546.9V1434.4H532.9ZM574.7 1420.5H588.6V1434.4H574.7ZM532.9 1434.4H546.9V1448.3H532.9ZM560.8 1434.4H574.7V1448.3H560.8ZM268.6 1448.3H282.5V1462.2H268.6ZM366 1462.2H379.9V1476.1H366ZM379.9 1462.2H393.8V1476.1H379.9ZM435.5 1462.2H449.5V1476.1H435.5ZM185.1 1476.1H199V1490H185.1ZM352.1 1476.1H366V1490H352.1ZM366 1476.1H379.9V1490H366ZM379.9 1476.1H393.8V1490H379.9ZM407.7 1476.1H421.6V1490H407.7ZM143.3 1490H157.3V1503.9H143.3ZM226.8 1490H240.7V1503.9H226.8ZM268.6 1490H282.5V1503.9H268.6ZM310.3 1490H324.2V1503.9H310.3ZM421.6 1490H435.5V1503.9H421.6ZM435.5 1490H449.5V1503.9H435.5ZM115.5 1503.9H129.4V1517.8H115.5ZM366 1503.9H379.9V1517.8H366ZM435.5 1503.9H449.5V1517.8H435.5ZM226.8 1517.8H240.7V1531.7H226.8ZM435.5 1517.8H449.5V1531.7H435.5ZM449.5 1517.8H463.4V1531.7H449.5ZM296.4 1531.7H310.3V1545.6H296.4ZM310.3 1531.7H324.2V1545.6H310.3ZM366 1531.7H379.9V1545.6H366ZM226.8 1545.6H240.7V1559.5H226.8ZM449.5 1545.6H463.4V1559.5H449.5ZM143.3 1559.5H157.3V1573.4H143.3ZM185.1 1559.5H199V1573.4H185.1ZM421.6 1559.5H435.5V1573.4H421.6ZM435.5 1559.5H449.5V1573.4H435.5Z"/>
<path fill="#fee084" d="M212.9 1086.9H226.8V1100.8H212.9ZM546.9 1086.9H560.8V1100.8H546.9ZM310.3 1100.8H324.2V1114.7H310.3ZM505.1 1100.8H519V1114.7H505.1ZM532.9 1100.8H546.9V1114.7H532.9ZM199 1114.7H212.9V1128.6H199ZM212.9 1114.7H226.8V1128.6H212.9ZM226.8 1114.7H240.7V1128.6H226.8ZM435.5 1114.7H449.5V1128.6H435.5ZM449.5 1114.7H463.4V1128.6H449.5ZM491.2 1114.7H505.1V1128.6H491.2ZM519 1114.7H532.9V1128.6H519ZM212.9 1128.6H226.8V1142.5H212.9ZM393.8 1128.6H407.7V1142.5H393.8ZM449.5 1128.6H463.4V1142.5H449.5ZM560.8 1128.6H574.7V1142.5H560.8ZM254.7 1142.5H268.6V1156.4H254.7ZM491.2 1156.4H505.1V1170.3H491.2ZM519 1156.4H532.9V1170.3H519ZM254.7 1170.3H268.6V1184.2H254.7ZM310.3 1170.3H324.2V1184.2H310.3ZM421.6 1170.3H435.5V1184.2H421.6ZM129.4 1184.2H143.3V1198.1H129.4ZM379.9 1184.2H393.8V1198.1H379.9ZM393.8 1184.2H407.7V1198.1H393.8ZM421.6 1184.2H435.5V1198.1H421.6ZM101.6 1198.1H115.5V1212H101.6ZM129.4 1198.1H143.3V1212H129.4ZM143.3 1198.1H157.3V1212H143.3ZM310.3 1198.1H324.2V1212H310.3ZM338.1 1198.1H352.1V1212H338.1ZM352.1 1198.1H366V1212H352.1ZM449.5 1198.1H463.4V1212H449.5ZM532.9 1198.1H546.9V1212H532.9ZM129.4 1212H143.3V1225.9H129.4ZM366 1212H379.9V1225.9H366ZM477.3 1212H491.2V1225.9H477.3ZM352.1 1225.9H366V1239.8H352.1ZM491.2 1225.9H505.1V1239.8H491.2ZM157.3 1239.8H171.2V1253.7H157.3ZM185.1 1239.8H199V1253.7H185.1ZM532.9 1239.8H546.9V1253.7H532.9ZM379.9 1253.7H393.8V1267.6H379.9ZM519 1253.7H532.9V1267.6H519ZM366 1267.6H379.9V1281.5H366ZM407.7 1267.6H421.6V1281.5H407.7ZM435.5 1267.6H449.5V1281.5H435.5ZM560.8 1267.6H574.7V1281.5H560.8ZM379.9 1281.5H393.8V1295.4H379.9ZM421.6 1281.5H435.5V1295.4H421.6ZM115.5 1295.4H129.4V1309.3H115.5ZM185.1 1295.4H199V1309.3H185.1ZM212.9 1295.4H226.8V1309.3H212.9ZM435.5 1295.4H449.5V1309.3H435.5ZM491.2 1295.4H505.1V1309.3H491.2ZM519 1295.4H532.9V1309.3H519ZM212.9 1323.2H226.8V1337.1H212.9ZM449.5 1323.2H463.4V1337.1H449.5ZM212.9 1337.1H226.8V1351H212.9ZM240.7 1337.1H254.7V1351H240.7ZM407.7 1337.1H421.6V1351H407.7ZM435.5 1337.1H449.5V1351H435.5ZM463.4 1337.1H477.3V1351H463.4ZM519 1337.1H532.9V1351H519ZM532.9 1337.1H546.9V1351H532.9ZM560.8 1337.1H574.7V1351H560.8ZM226.8 1351H240.7V1364.9H226.8ZM282.5 1351H296.4V1364.9H282.5ZM463.4 1351H477.3V1364.9H463.4ZM505.1 1351H519V1364.9H505.1ZM532.9 1351H546.9V1364.9H532.9ZM199 1364.9H212.9V1378.8H199ZM268.6 1364.9H282.5V1378.8H268.6ZM296.4 1364.9H310.3V1378.8H296.4ZM532.9 1364.9H546.9V1378.8H532.9ZM574.7 1364.9H588.6V1378.8H574.7ZM143.3 1378.8H157.3V1392.7H143.3ZM199 1378.8H212.9V1392.7H199ZM449.5 1378.8H463.4V1392.7H449.5ZM463.4 1378.8H477.3V1392.7H463.4ZM519 1378.8H532.9V1392.7H519ZM546.9 1378.8H560.8V1392.7H546.9ZM560.8 1378.8H574.7V1392.7H560.8ZM282.5 1392.7H296.4V1406.6H282.5ZM352.1 1392.7H366V1406.6H352.1ZM463.4 1392.7H477.3V1406.6H463.4ZM532.9 1392.7H546.9V1406.6H532.9ZM185.1 1406.6H199V1420.5H185.1ZM199 1406.6H212.9V1420.5H199ZM296.4 1406.6H310.3V1420.5H296.4ZM463.4 1406.6H477.3V1420.5H463.4ZM491.2 1406.6H505.1V1420.5H491.2ZM519 1406.6H532.9V1420.5H519ZM129.4 1420.5H143.3V1434.4H129.4ZM282.5 1420.5H296.4V1434.4H282.5ZM310.3 1420.5H324.2V1434.4H310.3ZM352.1 1420.5H366V1434.4H352.1ZM560.8 1420.5H574.7V1434.4H560.8ZM129.4 1434.4H143.3V1448.3H129.4ZM143.3 1434.4H157.3V1448.3H143.3ZM212.9 1434.4H226.8V1448.3H212.9ZM338.1 1434.4H352.1V1448.3H338.1ZM393.8 1434.4H407.7V1448.3H393.8ZM352.1 1448.3H366V1462.2H352.1ZM366 1448.3H379.9V1462.2H366ZM393.8 1448.3H407.7V1462.2H393.8ZM407.7 1448.3H421.6V1462.2H407.7ZM421.6 1448.3H435.5V1462.2H421.6ZM226.8 1462.2H240.7V1476.1H226.8ZM574.7 1462.2H588.6V1476.1H574.7ZM129.4 1476.1H143.3V1490H129.4ZM171.2 1476.1H185.1V1490H171.2ZM240.7 1476.1H254.7V1490H240.7ZM310.3 1476.1H324.2V1490H310.3ZM421.6 1476.1H435.5V1490H421.6ZM115.5 1490H129.4V1503.9H115.5ZM366 1490H379.9V1503.9H366ZM129.4 1503.9H143.3V1517.8H129.4ZM171.2 1503.9H185.1V1517.8H171.2ZM268.6 1503.9H282.5V1517.8H268.6ZM310.3 1503.9H324.2V1517.8H310.3ZM352.1 1503.9H366V1517.8H352.1ZM393.8 1503.9H407.7V1517.8H393.8ZM421.6 1503.9H435.5V1517.8H421.6ZM115.5 1517.8H129.4V1531.7H115.5ZM212.9 1517.8H226.8V1531.7H212.9ZM254.7 1517.8H268.6V1531.7H254.7ZM352.1 1517.8H366V1531.7H352.1ZM366 1517.8H379.9V1531.7H366ZM379.9 1517.8H393.8V1531.7H379.9ZM407.7 1517.8H421.6V1531.7H407.7ZM101.6 1531.7H115.5V1545.6H101.6ZM393.8 1531.7H407.7V1545.6H393.8ZM143.3 1545.6H157.3V1559.5H143.3ZM282.5 1545.6H296.4V1559.5H282.5ZM352.1 1545.6H366V1559.5H352.1ZM393.8 1545.6H407.7V1559.5H393.8ZM435.5 1545.6H449.5V1559.5H435.5ZM379.9 1559.5H393.8V1573.4H379.9ZM477.3 1559.5H491.2V1573.4H477.3Z"/>
<path fill="#feb24c" d="M226.8 1086.9H240.7V1100.8H226.8ZM268.6 1086.9H282.5V1100.8H268.6ZM310.3 1086.9H324.2V1100.8H310.3ZM185.1 1100.8H199V1114.7H185.1ZM199 1100.8H212.9V1114.7H199ZM212.9 1100.8H226.8V1114.7H212.9ZM226.8 1100.8H240.7V1114.7H226.8ZM185.1 1114.7H199V1128.6H185.1ZM199 1128.6H212.9V1142.5H199ZM240.7 1156.4H254.7V1170.3H240.7ZM268.6 1156.4H282.5V1170.3H268.6ZM115.5 1170.3H129.4V1184.2H115.5ZM129.4 1170.3H143.3V1184.2H129.4ZM282.5 1170.3H296.4V1184.2H282.5ZM115.5 1184.2H129.4V1198.1H115.5ZM143.3 1184.2H157.3V1198.1H143.3ZM268.6 1184.2H282.5V1198.1H268.6ZM282.5 1184.2H296.4V1198.1H282.5ZM115.5 1198.1H129.4V1212H115.5ZM254.7 1198.1H268.6V1212H254.7ZM101.6 1212H115.5V1225.9H101.6ZM115.5 1212H129.4V1225.9H115.5ZM379.9 1212H393.8V1225.9H379.9ZM171.2 1225.9H185.1V1239.8H171.2ZM296.4 1225.9H310.3V1239.8H296.4ZM366 1225.9H379.9V1239.8H366ZM212.9 1239.8H226.8V1253.7H212.9ZM282.5 1239.8H296.4V1253.7H282.5ZM101.6 1253.7H115.5V1267.6H101.6ZM171.2 1253.7H185.1V1267.6H171.2ZM199 1253.7H212.9V1267.6H199ZM185.1 1267.6H199V1281.5H185.1ZM199 1267.6H212.9V1281.5H199ZM254.7 1267.6H268.6V1281.5H254.7ZM421.6 1267.6H435.5V1281.5H421.6ZM519 1267.6H532.9V1281.5H519ZM240.7 1281.5H254.7V1295.4H240.7ZM366 1281.5H379.9V1295.4H366ZM101.6 1295.4H115.5V1309.3H101.6ZM366 1295.4H379.9V1309.3H366ZM393.8 1295.4H407.7V1309.3H393.8ZM421.6 1295.4H435.5V1309.3H421.6ZM449.5 1309.3H463.4V1323.2H449.5ZM393.8 1337.1H407.7V1351H393.8ZM240.7 1351H254.7V1364.9H240.7ZM296.4 1351H310.3V1364.9H296.4ZM310.3 1351H324.2V1364.9H310.3ZM226.8 1364.9H240.7V1378.8H226.8ZM449.5 1364.9H463.4V1378.8H449.5ZM505.1 1364.9H519V1378.8H505.1ZM310.3 1378.8H324.2V1392.7H310.3ZM352.1 1378.8H366V1392.7H352.1ZM574.7 1378.8H588.6V1392.7H574.7ZM546.9 1392.7H560.8V1406.6H546.9ZM282.5 1406.6H296.4V1420.5H282.5ZM310.3 1406.6H324.2V1420.5H310.3ZM477.3 1406.6H491.2V1420.5H477.3ZM324.2 1434.4H338.1V1448.3H324.2ZM379.9 1434.4H393.8V1448.3H379.9ZM519 1448.3H532.9V1462.2H519ZM546.9 1448.3H560.8V1462.2H546.9ZM421.6 1462.2H435.5V1476.1H421.6ZM379.9 1490H393.8V1503.9H379.9ZM282.5 1503.9H296.4V1517.8H282.5ZM463.4 1503.9H477.3V1517.8H463.4ZM407.7 1531.7H421.6V1545.6H407.7ZM463.4 1531.7H477.3V1545.6H463.4ZM393.8 1559.5H407.7V1573.4H393.8Z"/>
<path fill="#fff3af" d="M254.7 1086.9H268.6V1100.8H254.7ZM532.9 1086.9H546.9V1100.8H532.9ZM449.5 1100.8H463.4V1114.7H449.5ZM505.1 1114.7H519V1128.6H505.1ZM532.9 1114.7H546.9V1128.6H532.9ZM491.2 1128.6H505.1V1142.5H491.2ZM435.5 1142.5H449.5V1156.4H435.5ZM546.9 1142.5H560.8V1156.4H546.9ZM560.8 1142.5H574.7V1156.4H560.8ZM463.4 1156.4H477.3V1170.3H463.4ZM505.1 1156.4H519V1170.3H505.1ZM338.1 1212H352.1V1225.9H338.1ZM435.5 1212H449.5V1225.9H435.5ZM435.5 1225.9H449.5V1239.8H435.5ZM519 1225.9H532.9V1239.8H519ZM101.6 1239.8H115.5V1253.7H101.6ZM338.1 1239.8H352.1V1253.7H338.1ZM546.9 1253.7H560.8V1267.6H546.9ZM560.8 1253.7H574.7V1267.6H560.8ZM491.2 1267.6H505.1V1281.5H491.2ZM574.7 1267.6H588.6V1281.5H574.7ZM324.2 1281.5H338.1V1295.4H324.2ZM560.8 1295.4H574.7V1309.3H560.8ZM296.4 1309.3H310.3V1323.2H296.4ZM532.9 1309.3H546.9V1323.2H532.9ZM226.8 1323.2H240.7V1337.1H226.8ZM254.7 1323.2H268.6V1337.1H254.7ZM463.4 1323.2H477.3V1337.1H463.4ZM519 1323.2H532.9V1337.1H519ZM560.8 1323.2H574.7V1337.1H560.8ZM157.3 1420.5H171.2V1434.4H157.3ZM226.8 1420.5H240.7V1434.4H226.8ZM240.7 1420.5H254.7V1434.4H240.7ZM115.5 1434.4H129.4V1448.3H115.5ZM171.2 1448.3H185.1V1462.2H171.2ZM338.1 1448.3H352.1V1462.2H338.1ZM143.3 1476.1H157.3V1490H143.3ZM282.5 1476.1H296.4V1490H282.5ZM129.4 1490H143.3V1503.9H129.4ZM171.2 1490H185.1V1503.9H171.2ZM240.7 1503.9H254.7V1517.8H240.7ZM338.1 1503.9H352.1V1517.8H338.1ZM101.6 1517.8H115.5V1531.7H101.6ZM129.4 1517.8H143.3V1531.7H129.4ZM324.2 1517.8H338.1V1531.7H324.2ZM157.3 1531.7H171.2V1545.6H157.3ZM268.6 1531.7H282.5V1545.6H268.6ZM157.3 1545.6H171.2V1559.5H157.3ZM268.6 1545.6H282.5V1559.5H268.6ZM310.3 1545.6H324.2V1559.5H310.3ZM338.1 1545.6H352.1V1559.5H338.1ZM282.5 1559.5H296.4V1573.4H282.5Z"/>
<path fill="#ffeda0" d="M407.7 1086.9H421.6V1100.8H407.7ZM505.1 1086.9H519V1100.8H505.1ZM519 1086.9H532.9V1100.8H519ZM268.6 1100.8H282.5V1114.7H268.6ZM352.1 1100.8H366V1114.7H352.1ZM379.9 1100.8H393.8V1114.7H379.9ZM407.7 1100.8H421.6V1114.7H407.7ZM379.9 1114.7H393.8V1128.6H379.9ZM546.9 1114.7H560.8V1128.6H546.9ZM282.5 1128.6H296.4V1142.5H282.5ZM379.9 1128.6H393.8V1142.5H379.9ZM435.5 1128.6H449.5V1142.5H435.5ZM546.9 1128.6H560.8V1142.5H546.9ZM324.2 1142.5H338.1V1156.4H324.2ZM352.1 1142.5H366V1156.4H352.1ZM324.2 1156.4H338.1V1170.3H324.2ZM449.5 1156.4H463.4V1170.3H449.5ZM532.9 1156.4H546.9V1170.3H532.9ZM532.9 1170.3H546.9V1184.2H532.9ZM254.7 1184.2H268.6V1198.1H254.7ZM449.5 1184.2H463.4V1198.1H449.5ZM379.9 1198.1H393.8V1212H379.9ZM505.1 1198.1H519V1212H505.1ZM324.2 1212H338.1V1225.9H324.2ZM352.1 1212H366V1225.9H352.1ZM421.6 1212H435.5V1225.9H421.6ZM449.5 1212H463.4V1225.9H449.5ZM546.9 1212H560.8V1225.9H546.9ZM324.2 1225.9H338.1V1239.8H324.2ZM407.7 1225.9H421.6V1239.8H407.7ZM505.1 1225.9H519V1239.8H505.1ZM560.8 1225.9H574.7V1239.8H560.8ZM199 1239.8H212.9V1253.7H199ZM407.7 1239.8H421.6V1253.7H407.7ZM115.5 1253.7H129.4V1267.6H115.5ZM366 1253.7H379.9V1267.6H366ZM477.3 1253.7H491.2V1267.6H477.3ZM491.2 1253.7H505.1V1267.6H491.2ZM532.9 1253.7H546.9V1267.6H532.9ZM143.3 1267.6H157.3V1281.5H143.3ZM352.1 1281.5H366V1295.4H352.1ZM463.4 1281.5H477.3V1295.4H463.4ZM157.3 1309.3H171.2V1323.2H157.3ZM171.2 1309.3H185.1V1323.2H171.2ZM226.8 1309.3H240.7V1323.2H226.8ZM240.7 1309.3H254.7V1323.2H240.7ZM463.4 1309.3H477.3V1323.2H463.4ZM477.3 1309.3H491.2V1323.2H477.3ZM505.1 1309.3H519V1323.2H505.1ZM491.2 1323.2H505.1V1337.1H491.2ZM574.7 1323.2H588.6V1337.1H574.7ZM115.5 1337.1H129.4V1351H115.5ZM157.3 1337.1H171.2V1351H157.3ZM226.8 1337.1H240.7V1351H226.8ZM296.4 1337.1H310.3V1351H296.4ZM449.5 1337.1H463.4V1351H449.5ZM268.6 1351H282.5V1364.9H268.6ZM115.5 1364.9H129.4V1378.8H115.5ZM129.4 1364.9H143.3V1378.8H129.4ZM143.3 1364.9H157.3V1378.8H143.3ZM212.9 1364.9H226.8V1378.8H212.9ZM519 1364.9H532.9V1378.8H519ZM546.9 1364.9H560.8V1378.8H546.9ZM560.8 1364.9H574.7V1378.8H560.8ZM491.2 1378.8H505.1V1392.7H491.2ZM101.6 1392.7H115.5V1406.6H101.6ZM115.5 1392.7H129.4V1406.6H115.5ZM240.7 1392.7H254.7V1406.6H240.7ZM254.7 1392.7H268.6V1406.6H254.7ZM574.7 1392.7H588.6V1406.6H574.7ZM226.8 1406.6H240.7V1420.5H226.8ZM143.3 1420.5H157.3V1434.4H143.3ZM546.9 1420.5H560.8V1434.4H546.9ZM171.2 1434.4H185.1V1448.3H171.2ZM199 1434.4H212.9V1448.3H199ZM226.8 1434.4H240.7V1448.3H226.8ZM352.1 1434.4H366V1448.3H352.1ZM296.4 1448.3H310.3V1462.2H296.4ZM324.2 1448.3H338.1V1462.2H324.2ZM532.9 1448.3H546.9V1462.2H532.9ZM268.6 1462.2H282.5V1476.1H268.6ZM324.2 1462.2H338.1V1476.1H324.2ZM268.6 1476.1H282.5V1490H268.6ZM338.1 1476.1H352.1V1490H338.1ZM393.8 1476.1H407.7V1490H393.8ZM101.6 1490H115.5V1503.9H101.6ZM212.9 1490H226.8V1503.9H212.9ZM240.7 1490H254.7V1503.9H240.7ZM324.2 1490H338.1V1503.9H324.2ZM101.6 1503.9H115.5V1517.8H101.6ZM379.9 1503.9H393.8V1517.8H379.9ZM171.2 1517.8H185.1V1531.7H171.2ZM185.1 1517.8H199V1531.7H185.1ZM268.6 1517.8H282.5V1531.7H268.6ZM463.4 1517.8H477.3V1531.7H463.4ZM129.4 1531.7H143.3V1545.6H129.4ZM143.3 1531.7H157.3V1545.6H143.3ZM226.8 1531.7H240.7V1545.6H226.8ZM379.9 1531.7H393.8V1545.6H379.9ZM435.5 1531.7H449.5V1545.6H435.5ZM240.7 1545.6H254.7V1559.5H240.7ZM379.9 1545.6H393.8V1559.5H379.9ZM338.1 1559.5H352.1V1573.4H338.1ZM407.7 1559.5H421.6V1573.4H407.7Z"/>
<path fill="#fed976" d="M435.5 1086.9H449.5V1100.8H435.5ZM449.5 1086.9H463.4V1100.8H449.5ZM421.6 1100.8H435.5V1114.7H421.6ZM505.1 1170.3H519V1184.2H505.1ZM310.3 1225.9H324.2V1239.8H310.3ZM240.7 1295.4H254.7V1309.3H240.7ZM435.5 1309.3H449.5V1323.2H435.5ZM491.2 1309.3H505.1V1323.2H491.2ZM546.9 1309.3H560.8V1323.2H546.9ZM560.8 1309.3H574.7V1323.2H560.8ZM393.8 1323.2H407.7V1337.1H393.8ZM338.1 1378.8H352.1V1392.7H338.1ZM115.5 1406.6H129.4V1420.5H115.5ZM546.9 1406.6H560.8V1420.5H546.9ZM560.8 1406.6H574.7V1420.5H560.8ZM101.6 1420.5H115.5V1434.4H101.6ZM324.2 1420.5H338.1V1434.4H324.2ZM101.6 1434.4H115.5V1448.3H101.6ZM574.7 1434.4H588.6V1448.3H574.7ZM324.2 1476.1H338.1V1490H324.2ZM185.1 1490H199V1503.9H185.1ZM324.2 1531.7H338.1V1545.6H324.2ZM421.6 1531.7H435.5V1545.6H421.6ZM324.2 1545.6H338.1V1559.5H324.2ZM421.6 1545.6H435.5V1559.5H421.6ZM449.5 1559.5H463.4V1573.4H449.5Z"/>
<path fill="#e7231e" d="M574.7 1086.9H588.6V1100.8H574.7ZM407.7 1364.9H421.6V1378.8H407.7ZM379.9 1392.7H393.8V1406.6H379.9ZM101.6 1559.5H115.5V1573.4H101.6Z"/>
<path fill="#febf5a" d="M574.7 1114.7H588.6V1128.6H574.7ZM310.3 1184.2H324.2V1198.1H310.3ZM449.5 1267.6H463.4V1281.5H449.5ZM199 1295.4H212.9V1309.3H199ZM449.5 1295.4H463.4V1309.3H449.5ZM407.7 1309.3H421.6V1323.2H407.7ZM324.2 1392.7H338.1V1406.6H324.2ZM282.5 1434.4H296.4V1448.3H282.5ZM310.3 1434.4H324.2V1448.3H310.3ZM574.7 1448.3H588.6V1462.2H574.7ZM129.4 1559.5H143.3V1573.4H129.4ZM463.4 1559.5H477.3V1573.4H463.4Z"/>
<path fill="#fea647" d="M226.8 1128.6H240.7V1142.5H226.8ZM268.6 1170.3H282.5V1184.2H268.6ZM282.5 1198.1H296.4V1212H282.5ZM143.3 1212H157.3V1225.9H143.3ZM185.1 1253.7H199V1267.6H185.1ZM212.9 1267.6H226.8V1281.5H212.9ZM393.8 1309.3H407.7V1323.2H393.8ZM324.2 1378.8H338.1V1392.7H324.2ZM560.8 1392.7H574.7V1406.6H560.8ZM546.9 1434.4H560.8V1448.3H546.9ZM449.5 1531.7H463.4V1545.6H449.5ZM407.7 1545.6H421.6V1559.5H407.7Z"/>
<path fill="#ffe692" d="M226.8 1142.5H240.7V1156.4H226.8ZM505.1 1142.5H519V1156.4H505.1ZM546.9 1156.4H560.8V1170.3H546.9ZM560.8 1156.4H574.7V1170.3H560.8ZM560.8 1170.3H574.7V1184.2H560.8ZM519 1198.1H532.9V1212H519ZM157.3 1212H171.2V1225.9H157.3ZM393.8 1253.7H407.7V1267.6H393.8ZM407.7 1253.7H421.6V1267.6H407.7ZM352.1 1267.6H366V1281.5H352.1ZM505.1 1267.6H519V1281.5H505.1ZM393.8 1281.5H407.7V1295.4H393.8ZM449.5 1281.5H463.4V1295.4H449.5ZM519 1309.3H532.9V1323.2H519ZM574.7 1309.3H588.6V1323.2H574.7ZM282.5 1337.1H296.4V1351H282.5ZM268.6 1378.8H282.5V1392.7H268.6ZM296.4 1378.8H310.3V1392.7H296.4ZM268.6 1392.7H282.5V1406.6H268.6ZM505.1 1392.7H519V1406.6H505.1ZM296.4 1434.4H310.3V1448.3H296.4ZM157.3 1490H171.2V1503.9H157.3ZM282.5 1490H296.4V1503.9H282.5ZM407.7 1490H421.6V1503.9H407.7ZM212.9 1503.9H226.8V1517.8H212.9ZM324.2 1503.9H338.1V1517.8H324.2ZM171.2 1531.7H185.1V1545.6H171.2ZM171.2 1545.6H185.1V1559.5H171.2ZM185.1 1545.6H199V1559.5H185.1ZM324.2 1559.5H338.1V1573.4H324.2Z"/>
<path fill="#a90026" d="M185.1 1156.4H199V1170.3H185.1ZM171.2 1170.3H185.1V1184.2H171.2ZM268.6 1239.8H282.5V1253.7H268.6ZM352.1 1239.8H366V1253.7H352.1ZM366 1239.8H379.9V1253.7H366ZM254.7 1253.7H268.6V1267.6H254.7ZM324.2 1295.4H338.1V1309.3H324.2ZM310.3 1309.3H324.2V1323.2H310.3ZM254.7 1337.1H268.6V1351H254.7ZM254.7 1351H268.6V1364.9H254.7ZM519 1490H532.9V1503.9H519ZM505.1 1503.9H519V1517.8H505.1ZM546.9 1517.8H560.8V1531.7H546.9ZM532.9 1531.7H546.9V1545.6H532.9Z"/>
<path fill="#fd8d3c" d="M199 1156.4H212.9V1170.3H199ZM171.2 1184.2H185.1V1198.1H171.2ZM240.7 1184.2H254.7V1198.1H240.7ZM282.5 1212H296.4V1225.9H282.5ZM296.4 1212H310.3V1225.9H296.4ZM199 1225.9H212.9V1239.8H199ZM324.2 1253.7H338.1V1267.6H324.2ZM226.8 1267.6H240.7V1281.5H226.8ZM226.8 1281.5H240.7V1295.4H226.8ZM268.6 1309.3H282.5V1323.2H268.6ZM574.7 1490H588.6V1503.9H574.7ZM505.1 1559.5H519V1573.4H505.1Z"/>
<path fill="#f43d25" d="M212.9 1170.3H226.8V1184.2H212.9ZM185.1 1198.1H199V1212H185.1ZM296.4 1253.7H310.3V1267.6H296.4ZM310.3 1253.7H324.2V1267.6H310.3ZM268.6 1281.5H282.5V1295.4H268.6ZM268.6 1295.4H282.5V1309.3H268.6ZM366 1309.3H379.9V1323.2H366ZM324.2 1351H338.1V1364.9H324.2ZM393.8 1351H407.7V1364.9H393.8ZM407.7 1351H421.6V1364.9H407.7ZM421.6 1351H435.5V1364.9H421.6ZM421.6 1364.9H435.5V1378.8H421.6ZM366 1378.8H379.9V1392.7H366ZM421.6 1378.8H435.5V1392.7H421.6ZM366 1392.7H379.9V1406.6H366ZM435.5 1392.7H449.5V1406.6H435.5ZM366 1406.6H379.9V1420.5H366ZM379.9 1406.6H393.8V1420.5H379.9ZM393.8 1406.6H407.7V1420.5H393.8ZM407.7 1420.5H421.6V1434.4H407.7ZM491.2 1448.3H505.1V1462.2H491.2ZM463.4 1476.1H477.3V1490H463.4ZM546.9 1503.9H560.8V1517.8H546.9ZM519 1531.7H532.9V1545.6H519Z"/>
<path fill="#fc592d" d="M226.8 1170.3H240.7V1184.2H226.8ZM185.1 1212H199V1225.9H185.1ZM352.1 1309.3H366V1323.2H352.1ZM324.2 1337.1H338.1V1351H324.2ZM379.9 1337.1H393.8V1351H379.9ZM352.1 1364.9H366V1378.8H352.1ZM449.5 1406.6H463.4V1420.5H449.5ZM421.6 1434.4H435.5V1448.3H421.6ZM491.2 1434.4H505.1V1448.3H491.2ZM449.5 1476.1H463.4V1490H449.5ZM532.9 1490H546.9V1503.9H532.9ZM560.8 1503.9H574.7V1517.8H560.8ZM505.1 1517.8H519V1531.7H505.1ZM560.8 1517.8H574.7V1531.7H560.8ZM519 1545.6H532.9V1559.5H519ZM532.9 1545.6H546.9V1559.5H532.9Z"/>
<path fill="#fc6e33" d="M310.3 1267.6H324.2V1281.5H310.3ZM282.5 1295.4H296.4V1309.3H282.5Z"/>
<path fill="#fc4e2a" d="M366 1323.2H379.9V1337.1H366ZM338.1 1351H352.1V1364.9H338.1Z"/>
<path fill="#ca0923" d="M366 1337.1H379.9V1351H366ZM352.1 1351H366V1364.9H352.1Z"/>
</g>
<rect x="101.6" y="1086.9" width="487" height="486.5" fill="none" stroke="#111" stroke-width="1.1"/>
<text x="93.6" y="1099.9" font-size="17" fill="#000" text-anchor="end">0</text>
<text x="93.6" y="1169.4" font-size="17" fill="#000" text-anchor="end">5</text>
<text x="93.6" y="1238.9" font-size="17" fill="#000" text-anchor="end">10</text>
<text x="93.6" y="1308.4" font-size="17" fill="#000" text-anchor="end">15</text>
<text x="93.6" y="1377.9" font-size="17" fill="#000" text-anchor="end">20</text>
<text x="93.6" y="1447.4" font-size="17" fill="#000" text-anchor="end">25</text>
<text x="93.6" y="1516.9" font-size="17" fill="#000" text-anchor="end">30</text>
<path d="M108.4 1086.9v-4.5M108.4 1573.4v4.5M178 1086.9v-4.5M178 1573.4v4.5M244.6 1086.9v-4.5M244.6 1573.4v4.5M264.3 1086.9v-4.5M264.3 1573.4v4.5M289.8 1086.9v-4.5M289.8 1573.4v4.5M314.5 1086.9v-4.5M314.5 1573.4v4.5M331.6 1086.9v-4.5M331.6 1573.4v4.5M345.7 1086.9v-4.5M345.7 1573.4v4.5M361 1086.9v-4.5M361 1573.4v4.5M375.8 1086.9v-4.5M375.8 1573.4v4.5M477.9 1086.9v-4.5M477.9 1573.4v4.5M582 1086.9v-4.5M582 1573.4v4.5M101.6 1093.9h-4.5M101.6 1163.4h-4.5M101.6 1232.9h-4.5M101.6 1302.4h-4.5M101.6 1371.9h-4.5M101.6 1441.4h-4.5M101.6 1510.9h-4.5" stroke="#222" stroke-width="1" fill="none"/>
<path d="M254.7 1086.9V1573.4M101.6 1239.8H588.6M324.2 1086.9V1573.4M101.6 1309.3H588.6M366 1086.9V1573.4M101.6 1351H588.6" stroke="#000" stroke-width="1.9" stroke-dasharray="6.2 2.7" fill="none"/>
<text transform="translate(115.8 1074) rotate(-90)" font-size="18.3" fill="#000" textLength="82.4" lengthAdjust="spacing" >139.284Mb</text>
<text transform="translate(186.3 1072) rotate(-90)" font-size="18.3" fill="#000" textLength="30.6" lengthAdjust="spacing" >chr4</text>
<text transform="translate(253.1 1074) rotate(-90)" font-size="18.3" fill="#000" textLength="82.4" lengthAdjust="spacing" >139.295Mb</text>
<text transform="translate(272.2 1075) rotate(-90)" font-size="18.3" fill="#000" textLength="35" lengthAdjust="spacing" >3 Kb</text>
<text transform="translate(297 1074.5) rotate(-90)" font-size="18.3" fill="#000" textLength="49.8" lengthAdjust="spacing" >HPV16</text>
<text transform="translate(322 1075) rotate(-90)" font-size="18.3" fill="#000" textLength="35" lengthAdjust="spacing" >8 Kb</text>
<text transform="translate(338.6 1075) rotate(-90)" font-size="18.3" fill="#000" textLength="35" lengthAdjust="spacing" >0 Kb</text>
<text transform="translate(352.6 1074.5) rotate(-90)" font-size="18.3" fill="#000" textLength="49.8" lengthAdjust="spacing" >HPV16</text>
<text transform="translate(367.9 1075) rotate(-90)" font-size="18.3" fill="#000" textLength="35" lengthAdjust="spacing" >3 Kb</text>
<text transform="translate(383.2 1074) rotate(-90)" font-size="18.3" fill="#000" textLength="82.4" lengthAdjust="spacing" >139.296Mb</text>
<text transform="translate(485.3 1074.5) rotate(-90)" font-size="18.3" fill="#000" textLength="31" lengthAdjust="spacing" >chr4</text>
<text transform="translate(589.4 1074) rotate(-90)" font-size="18.3" fill="#000" textLength="82.4" lengthAdjust="spacing" >139.312Mb</text>
<text transform="translate(64.5 1350) rotate(-90)" font-size="17.5" fill="#000" textLength="168" lengthAdjust="spacing" text-anchor="middle" >Bins (1K resolution)</text>
<defs><linearGradient id="cbD" x1="0" y1="0" x2="0" y2="1"><stop offset="0%" stop-color="#800026"/><stop offset="12.5%" stop-color="#bd0026"/><stop offset="25%" stop-color="#e31a1c"/><stop offset="37.5%" stop-color="#fc4e2a"/><stop offset="50%" stop-color="#fd8d3c"/><stop offset="62.5%" stop-color="#feb24c"/><stop offset="75%" stop-color="#fed976"/><stop offset="87.5%" stop-color="#ffeda0"/><stop offset="100%" stop-color="#ffffcc"/></linearGradient></defs>
<rect x="609.8" y="1085.3" width="24.9" height="489.9" fill="url(#cbD)" stroke="#222" stroke-width="1"/>
<text x="660.5" y="1094.8" font-size="20" fill="#000" textLength="31.8" lengthAdjust="spacing">2.0</text>
<text x="660.5" y="1149.2" font-size="20" fill="#000" textLength="31.8" lengthAdjust="spacing">1.8</text>
<text x="660.5" y="1203.7" font-size="20" fill="#000" textLength="31.8" lengthAdjust="spacing">1.6</text>
<text x="660.5" y="1258.1" font-size="20" fill="#000" textLength="31.8" lengthAdjust="spacing">1.4</text>
<text x="660.5" y="1312.5" font-size="20" fill="#000" textLength="31.8" lengthAdjust="spacing">1.2</text>
<text x="660.5" y="1367" font-size="20" fill="#000" textLength="31.8" lengthAdjust="spacing">1.0</text>
<text x="660.5" y="1421.4" font-size="20" fill="#000" textLength="31.8" lengthAdjust="spacing">0.8</text>
<text x="660.5" y="1475.8" font-size="20" fill="#000" textLength="31.8" lengthAdjust="spacing">0.6</text>
<text x="660.5" y="1530.3" font-size="20" fill="#000" textLength="31.8" lengthAdjust="spacing">0.4</text>
<text x="660.5" y="1584.7" font-size="20" fill="#000" textLength="31.8" lengthAdjust="spacing">0.2</text>
<path d="M634.7 1085.3h3.4M643.1 1085.3h3.8M634.7 1139.7h3.4M643.1 1139.7h3.8M634.7 1194.2h3.4M643.1 1194.2h3.8M634.7 1248.6h3.4M643.1 1248.6h3.8M634.7 1303h3.4M643.1 1303h3.8M634.7 1357.5h3.4M643.1 1357.5h3.8M634.7 1411.9h3.4M643.1 1411.9h3.8M634.7 1466.3h3.4M643.1 1466.3h3.8M634.7 1520.8h3.4M643.1 1520.8h3.8M634.7 1575.2h3.4M643.1 1575.2h3.8" stroke="#333" stroke-width="1.2"/>
<path d="M383.9 1238.3L383.1 1183.4L396.7 1198.4L437.7 1156.8L463.9 1182L422 1223.5L437.7 1238.3Z" fill="#ffc000" stroke="#000" stroke-width="3.2" stroke-linejoin="miter"/>
<circle cx="374.4" cy="1246.3" r="5.4" fill="#0000ff"/><circle cx="429.4" cy="1259.9" r="5.4" fill="#0000ff"/><circle cx="457.7" cy="1273.7" r="5.4" fill="#0000ff"/><circle cx="526.9" cy="1273.7" r="5.4" fill="#0000ff"/><circle cx="415.9" cy="1301.3" r="5.4" fill="#0000ff"/><circle cx="513.1" cy="1301.3" r="5.4" fill="#0000ff"/><circle cx="387.9" cy="1315.6" r="5.4" fill="#0000ff"/><circle cx="318.2" cy="1106.7" r="5.4" fill="#0000ff"/><circle cx="304.3" cy="1218.4" r="5.4" fill="#0000ff"/>
<path d="M398.4 1308.6L398.4 1257.7L409.8 1269.3L452 1228.1L477.7 1253.3L437 1294.8L450.1 1308.6Z" fill="#000" fill-opacity="0.76"/>
<text x="143.5" y="1644.1" font-size="56" fill="#008f8f" textLength="70" lengthAdjust="spacingAndGlyphs" font-weight="bold">S2</text>
<text x="450.4" y="1644.1" font-size="56" fill="#000" textLength="63.5" lengthAdjust="spacingAndGlyphs" font-weight="bold">S1</text>
<text transform="translate(275.7 1605.3) rotate(90)" font-size="37.7" fill="#ff2d96" textLength="167" lengthAdjust="spacingAndGlyphs" font-weight="bold" >HPV_Late</text>
<text transform="translate(331.5 1605.3) rotate(90)" font-size="37.7" fill="#ff2d96" textLength="181" lengthAdjust="spacingAndGlyphs" font-weight="bold" >HPV_Early</text>
<g shape-rendering="crispEdges">
<path fill="#ca0923" d="M1449.7 1102.4H1463.6V1116.3H1449.7ZM1741.9 1394H1755.8V1407.9H1741.9ZM1797.6 1449.5H1811.5V1463.4H1797.6ZM1811.5 1463.4H1825.4V1477.3H1811.5ZM1881 1532.9H1895V1546.7H1881ZM1922.8 1574.5H1936.7V1588.4H1922.8Z"/>
<path fill="#f43d25" d="M1463.6 1102.4H1477.5V1116.3H1463.6ZM1449.7 1116.3H1463.6V1130.2H1449.7ZM1477.5 1116.3H1491.4V1130.2H1477.5ZM1463.6 1130.2H1477.5V1144.1H1463.6ZM1491.4 1130.2H1505.4V1144.1H1491.4ZM1477.5 1144.1H1491.4V1157.9H1477.5ZM1519.3 1157.9H1533.2V1171.8H1519.3ZM1505.4 1171.8H1519.3V1185.7H1505.4ZM1574.9 1213.5H1588.8V1227.4H1574.9ZM1561 1227.4H1574.9V1241.3H1561ZM1574.9 1227.4H1588.8V1241.3H1574.9ZM1588.8 1227.4H1602.8V1241.3H1588.8ZM1574.9 1241.3H1588.8V1255.1H1574.9ZM1728 1380.1H1741.9V1394H1728ZM1769.7 1407.9H1783.6V1421.8H1769.7ZM1755.8 1421.8H1769.7V1435.7H1755.8ZM1769.7 1421.8H1783.6V1435.7H1769.7ZM1783.6 1421.8H1797.6V1435.7H1783.6ZM1769.7 1435.7H1783.6V1449.5H1769.7ZM1839.3 1477.3H1853.2V1491.2H1839.3ZM1825.4 1491.2H1839.3V1505.1H1825.4ZM1853.2 1505.1H1867.1V1519H1853.2ZM1867.1 1519H1881V1532.9H1867.1ZM1881 1519H1895V1532.9H1881ZM1867.1 1532.9H1881V1546.7H1867.1ZM1908.9 1546.7H1922.8V1560.6H1908.9ZM1895 1560.6H1908.9V1574.5H1895ZM1908.9 1560.6H1922.8V1574.5H1908.9ZM1922.8 1560.6H1936.7V1574.5H1922.8ZM1908.9 1574.5H1922.8V1588.4H1908.9Z"/>
<path fill="#fff9bd" d="M1477.5 1102.4H1491.4V1116.3H1477.5ZM1491.4 1102.4H1505.4V1116.3H1491.4ZM1519.3 1102.4H1533.2V1116.3H1519.3ZM1533.2 1102.4H1547.1V1116.3H1533.2ZM1547.1 1102.4H1561V1116.3H1547.1ZM1741.9 1102.4H1755.8V1116.3H1741.9ZM1783.6 1102.4H1797.6V1116.3H1783.6ZM1853.2 1102.4H1867.1V1116.3H1853.2ZM1908.9 1102.4H1922.8V1116.3H1908.9ZM1547.1 1116.3H1561V1130.2H1547.1ZM1561 1116.3H1574.9V1130.2H1561ZM1574.9 1116.3H1588.8V1130.2H1574.9ZM1588.8 1116.3H1602.8V1130.2H1588.8ZM1783.6 1116.3H1797.6V1130.2H1783.6ZM1867.1 1116.3H1881V1130.2H1867.1ZM1449.7 1130.2H1463.6V1144.1H1449.7ZM1519.3 1130.2H1533.2V1144.1H1519.3ZM1547.1 1130.2H1561V1144.1H1547.1ZM1588.8 1130.2H1602.8V1144.1H1588.8ZM1714.1 1130.2H1728V1144.1H1714.1ZM1755.8 1130.2H1769.7V1144.1H1755.8ZM1853.2 1130.2H1867.1V1144.1H1853.2ZM1449.7 1144.1H1463.6V1157.9H1449.7ZM1533.2 1144.1H1547.1V1157.9H1533.2ZM1588.8 1144.1H1602.8V1157.9H1588.8ZM1755.8 1144.1H1769.7V1157.9H1755.8ZM1769.7 1144.1H1783.6V1157.9H1769.7ZM1853.2 1144.1H1867.1V1157.9H1853.2ZM1895 1144.1H1908.9V1157.9H1895ZM1561 1157.9H1574.9V1171.8H1561ZM1574.9 1157.9H1588.8V1171.8H1574.9ZM1853.2 1157.9H1867.1V1171.8H1853.2ZM1895 1157.9H1908.9V1171.8H1895ZM1449.7 1171.8H1463.6V1185.7H1449.7ZM1477.5 1171.8H1491.4V1185.7H1477.5ZM1547.1 1171.8H1561V1185.7H1547.1ZM1714.1 1171.8H1728V1185.7H1714.1ZM1728 1171.8H1741.9V1185.7H1728ZM1769.7 1171.8H1783.6V1185.7H1769.7ZM1839.3 1171.8H1853.2V1185.7H1839.3ZM1449.7 1185.7H1463.6V1199.6H1449.7ZM1491.4 1185.7H1505.4V1199.6H1491.4ZM1755.8 1185.7H1769.7V1199.6H1755.8ZM1769.7 1185.7H1783.6V1199.6H1769.7ZM1895 1185.7H1908.9V1199.6H1895ZM1449.7 1199.6H1463.6V1213.5H1449.7ZM1463.6 1199.6H1477.5V1213.5H1463.6ZM1477.5 1199.6H1491.4V1213.5H1477.5ZM1519.3 1199.6H1533.2V1213.5H1519.3ZM1714.1 1199.6H1728V1213.5H1714.1ZM1825.4 1199.6H1839.3V1213.5H1825.4ZM1463.6 1213.5H1477.5V1227.4H1463.6ZM1505.4 1213.5H1519.3V1227.4H1505.4ZM1588.8 1213.5H1602.8V1227.4H1588.8ZM1769.7 1213.5H1783.6V1227.4H1769.7ZM1908.9 1213.5H1922.8V1227.4H1908.9ZM1463.6 1227.4H1477.5V1241.3H1463.6ZM1505.4 1227.4H1519.3V1241.3H1505.4ZM1714.1 1227.4H1728V1241.3H1714.1ZM1728 1227.4H1741.9V1241.3H1728ZM1741.9 1227.4H1755.8V1241.3H1741.9ZM1755.8 1227.4H1769.7V1241.3H1755.8ZM1797.6 1227.4H1811.5V1241.3H1797.6ZM1853.2 1227.4H1867.1V1241.3H1853.2ZM1867.1 1227.4H1881V1241.3H1867.1ZM1463.6 1241.3H1477.5V1255.1H1463.6ZM1477.5 1241.3H1491.4V1255.1H1477.5ZM1491.4 1241.3H1505.4V1255.1H1491.4ZM1561 1241.3H1574.9V1255.1H1561ZM1741.9 1241.3H1755.8V1255.1H1741.9ZM1783.6 1241.3H1797.6V1255.1H1783.6ZM1811.5 1241.3H1825.4V1255.1H1811.5ZM1477.5 1366.2H1491.4V1380.1H1477.5ZM1519.3 1366.2H1533.2V1380.1H1519.3ZM1547.1 1366.2H1561V1380.1H1547.1ZM1574.9 1366.2H1588.8V1380.1H1574.9ZM1769.7 1366.2H1783.6V1380.1H1769.7ZM1783.6 1366.2H1797.6V1380.1H1783.6ZM1797.6 1366.2H1811.5V1380.1H1797.6ZM1811.5 1366.2H1825.4V1380.1H1811.5ZM1825.4 1366.2H1839.3V1380.1H1825.4ZM1853.2 1366.2H1867.1V1380.1H1853.2ZM1908.9 1366.2H1922.8V1380.1H1908.9ZM1519.3 1380.1H1533.2V1394H1519.3ZM1574.9 1380.1H1588.8V1394H1574.9ZM1783.6 1380.1H1797.6V1394H1783.6ZM1825.4 1380.1H1839.3V1394H1825.4ZM1853.2 1380.1H1867.1V1394H1853.2ZM1867.1 1380.1H1881V1394H1867.1ZM1881 1380.1H1895V1394H1881ZM1908.9 1380.1H1922.8V1394H1908.9ZM1449.7 1394H1463.6V1407.9H1449.7ZM1574.9 1394H1588.8V1407.9H1574.9ZM1588.8 1394H1602.8V1407.9H1588.8ZM1783.6 1394H1797.6V1407.9H1783.6ZM1477.5 1407.9H1491.4V1421.8H1477.5ZM1491.4 1407.9H1505.4V1421.8H1491.4ZM1533.2 1407.9H1547.1V1421.8H1533.2ZM1574.9 1407.9H1588.8V1421.8H1574.9ZM1839.3 1407.9H1853.2V1421.8H1839.3ZM1881 1407.9H1895V1421.8H1881ZM1922.8 1407.9H1936.7V1421.8H1922.8ZM1491.4 1421.8H1505.4V1435.7H1491.4ZM1519.3 1421.8H1533.2V1435.7H1519.3ZM1533.2 1421.8H1547.1V1435.7H1533.2ZM1561 1421.8H1574.9V1435.7H1561ZM1714.1 1421.8H1728V1435.7H1714.1ZM1811.5 1421.8H1825.4V1435.7H1811.5ZM1839.3 1421.8H1853.2V1435.7H1839.3ZM1895 1421.8H1908.9V1435.7H1895ZM1908.9 1421.8H1922.8V1435.7H1908.9ZM1922.8 1421.8H1936.7V1435.7H1922.8ZM1449.7 1435.7H1463.6V1449.5H1449.7ZM1463.6 1435.7H1477.5V1449.5H1463.6ZM1588.8 1435.7H1602.8V1449.5H1588.8ZM1714.1 1435.7H1728V1449.5H1714.1ZM1728 1435.7H1741.9V1449.5H1728ZM1741.9 1435.7H1755.8V1449.5H1741.9ZM1811.5 1435.7H1825.4V1449.5H1811.5ZM1825.4 1435.7H1839.3V1449.5H1825.4ZM1839.3 1435.7H1853.2V1449.5H1839.3ZM1853.2 1435.7H1867.1V1449.5H1853.2ZM1867.1 1435.7H1881V1449.5H1867.1ZM1895 1435.7H1908.9V1449.5H1895ZM1922.8 1435.7H1936.7V1449.5H1922.8ZM1574.9 1449.5H1588.8V1463.4H1574.9ZM1714.1 1449.5H1728V1463.4H1714.1ZM1825.4 1449.5H1839.3V1463.4H1825.4ZM1867.1 1449.5H1881V1463.4H1867.1ZM1881 1449.5H1895V1463.4H1881ZM1908.9 1449.5H1922.8V1463.4H1908.9ZM1588.8 1463.4H1602.8V1477.3H1588.8ZM1714.1 1463.4H1728V1477.3H1714.1ZM1769.7 1463.4H1783.6V1477.3H1769.7ZM1783.6 1463.4H1797.6V1477.3H1783.6ZM1867.1 1463.4H1881V1477.3H1867.1ZM1922.8 1463.4H1936.7V1477.3H1922.8ZM1547.1 1477.3H1561V1491.2H1547.1ZM1714.1 1477.3H1728V1491.2H1714.1ZM1728 1477.3H1741.9V1491.2H1728ZM1783.6 1477.3H1797.6V1491.2H1783.6ZM1797.6 1477.3H1811.5V1491.2H1797.6ZM1853.2 1477.3H1867.1V1491.2H1853.2ZM1895 1477.3H1908.9V1491.2H1895ZM1908.9 1477.3H1922.8V1491.2H1908.9ZM1519.3 1491.2H1533.2V1505.1H1519.3ZM1755.8 1491.2H1769.7V1505.1H1755.8ZM1769.7 1491.2H1783.6V1505.1H1769.7ZM1783.6 1491.2H1797.6V1505.1H1783.6ZM1449.7 1505.1H1463.6V1519H1449.7ZM1477.5 1505.1H1491.4V1519H1477.5ZM1491.4 1505.1H1505.4V1519H1491.4ZM1505.4 1505.1H1519.3V1519H1505.4ZM1574.9 1505.1H1588.8V1519H1574.9ZM1714.1 1505.1H1728V1519H1714.1ZM1728 1505.1H1741.9V1519H1728ZM1783.6 1505.1H1797.6V1519H1783.6ZM1825.4 1505.1H1839.3V1519H1825.4ZM1881 1505.1H1895V1519H1881ZM1895 1505.1H1908.9V1519H1895ZM1463.6 1519H1477.5V1532.9H1463.6ZM1574.9 1519H1588.8V1532.9H1574.9ZM1728 1519H1741.9V1532.9H1728ZM1783.6 1519H1797.6V1532.9H1783.6ZM1797.6 1519H1811.5V1532.9H1797.6ZM1811.5 1519H1825.4V1532.9H1811.5ZM1895 1519H1908.9V1532.9H1895ZM1728 1532.9H1741.9V1546.7H1728ZM1755.8 1532.9H1769.7V1546.7H1755.8ZM1797.6 1532.9H1811.5V1546.7H1797.6ZM1853.2 1532.9H1867.1V1546.7H1853.2ZM1491.4 1546.7H1505.4V1560.6H1491.4ZM1505.4 1546.7H1519.3V1560.6H1505.4ZM1533.2 1546.7H1547.1V1560.6H1533.2ZM1769.7 1546.7H1783.6V1560.6H1769.7ZM1783.6 1546.7H1797.6V1560.6H1783.6ZM1825.4 1546.7H1839.3V1560.6H1825.4ZM1853.2 1546.7H1867.1V1560.6H1853.2ZM1867.1 1546.7H1881V1560.6H1867.1ZM1449.7 1560.6H1463.6V1574.5H1449.7ZM1561 1560.6H1574.9V1574.5H1561ZM1714.1 1560.6H1728V1574.5H1714.1ZM1728 1560.6H1741.9V1574.5H1728ZM1769.7 1560.6H1783.6V1574.5H1769.7ZM1797.6 1560.6H1811.5V1574.5H1797.6ZM1825.4 1560.6H1839.3V1574.5H1825.4ZM1755.8 1574.5H1769.7V1588.4H1755.8ZM1769.7 1574.5H1783.6V1588.4H1769.7ZM1783.6 1574.5H1797.6V1588.4H1783.6ZM1811.5 1574.5H1825.4V1588.4H1811.5Z"/>
<path fill="#e31a1c" d="M1463.6 1116.3H1477.5V1130.2H1463.6ZM1477.5 1130.2H1491.4V1144.1H1477.5ZM1491.4 1144.1H1505.4V1157.9H1491.4ZM1505.4 1157.9H1519.3V1171.8H1505.4ZM1519.3 1171.8H1533.2V1185.7H1519.3ZM1533.2 1185.7H1547.1V1199.6H1533.2ZM1547.1 1199.6H1561V1213.5H1547.1ZM1561 1213.5H1574.9V1227.4H1561ZM1588.8 1241.3H1602.8V1255.1H1588.8ZM1714.1 1366.2H1728V1380.1H1714.1ZM1728 1366.2H1741.9V1380.1H1728ZM1714.1 1380.1H1728V1394H1714.1ZM1755.8 1407.9H1769.7V1421.8H1755.8ZM1783.6 1435.7H1797.6V1449.5H1783.6ZM1825.4 1477.3H1839.3V1491.2H1825.4ZM1839.3 1491.2H1853.2V1505.1H1839.3ZM1895 1546.7H1908.9V1560.6H1895Z"/>
<path fill="#fee084" d="M1491.4 1116.3H1505.4V1130.2H1491.4ZM1533.2 1116.3H1547.1V1130.2H1533.2ZM1463.6 1144.1H1477.5V1157.9H1463.6ZM1519.3 1144.1H1533.2V1157.9H1519.3ZM1547.1 1144.1H1561V1157.9H1547.1ZM1491.4 1171.8H1505.4V1185.7H1491.4ZM1561 1171.8H1574.9V1185.7H1561ZM1463.6 1185.7H1477.5V1199.6H1463.6ZM1714.1 1185.7H1728V1199.6H1714.1ZM1491.4 1199.6H1505.4V1213.5H1491.4ZM1574.9 1199.6H1588.8V1213.5H1574.9ZM1881 1199.6H1895V1213.5H1881ZM1519.3 1213.5H1533.2V1227.4H1519.3ZM1547.1 1227.4H1561V1241.3H1547.1ZM1769.7 1241.3H1783.6V1255.1H1769.7ZM1533.2 1366.2H1547.1V1380.1H1533.2ZM1741.9 1366.2H1755.8V1380.1H1741.9ZM1714.1 1394H1728V1407.9H1714.1ZM1783.6 1407.9H1797.6V1421.8H1783.6ZM1588.8 1421.8H1602.8V1435.7H1588.8ZM1755.8 1435.7H1769.7V1449.5H1755.8ZM1881 1463.4H1895V1477.3H1881ZM1895 1491.2H1908.9V1505.1H1895ZM1547.1 1532.9H1561V1546.7H1547.1ZM1811.5 1532.9H1825.4V1546.7H1811.5ZM1839.3 1546.7H1853.2V1560.6H1839.3Z"/>
<path fill="#ffeda0" d="M1505.4 1116.3H1519.3V1130.2H1505.4ZM1519.3 1116.3H1533.2V1130.2H1519.3ZM1505.4 1130.2H1519.3V1144.1H1505.4ZM1922.8 1130.2H1936.7V1144.1H1922.8ZM1463.6 1157.9H1477.5V1171.8H1463.6ZM1477.5 1157.9H1491.4V1171.8H1477.5ZM1588.8 1157.9H1602.8V1171.8H1588.8ZM1463.6 1171.8H1477.5V1185.7H1463.6ZM1574.9 1171.8H1588.8V1185.7H1574.9ZM1561 1185.7H1574.9V1199.6H1561ZM1574.9 1185.7H1588.8V1199.6H1574.9ZM1728 1185.7H1741.9V1199.6H1728ZM1533.2 1213.5H1547.1V1227.4H1533.2ZM1519.3 1227.4H1533.2V1241.3H1519.3ZM1533.2 1227.4H1547.1V1241.3H1533.2ZM1505.4 1241.3H1519.3V1255.1H1505.4ZM1797.6 1241.3H1811.5V1255.1H1797.6ZM1533.2 1380.1H1547.1V1394H1533.2ZM1797.6 1380.1H1811.5V1394H1797.6ZM1797.6 1421.8H1811.5V1435.7H1797.6ZM1853.2 1421.8H1867.1V1435.7H1853.2ZM1588.8 1449.5H1602.8V1463.4H1588.8ZM1728 1449.5H1741.9V1463.4H1728ZM1769.7 1449.5H1783.6V1463.4H1769.7ZM1853.2 1449.5H1867.1V1463.4H1853.2ZM1839.3 1463.4H1853.2V1477.3H1839.3ZM1811.5 1491.2H1825.4V1505.1H1811.5ZM1867.1 1491.2H1881V1505.1H1867.1ZM1922.8 1491.2H1936.7V1505.1H1922.8ZM1769.7 1505.1H1783.6V1519H1769.7ZM1797.6 1505.1H1811.5V1519H1797.6ZM1922.8 1505.1H1936.7V1519H1922.8ZM1839.3 1519H1853.2V1532.9H1839.3ZM1908.9 1519H1922.8V1532.9H1908.9ZM1895 1532.9H1908.9V1546.7H1895ZM1881 1546.7H1895V1560.6H1881ZM1867.1 1560.6H1881V1574.5H1867.1ZM1477.5 1574.5H1491.4V1588.4H1477.5ZM1839.3 1574.5H1853.2V1588.4H1839.3ZM1853.2 1574.5H1867.1V1588.4H1853.2Z"/>
<path fill="#fc592d" d="M1505.4 1144.1H1519.3V1157.9H1505.4ZM1491.4 1157.9H1505.4V1171.8H1491.4ZM1533.2 1171.8H1547.1V1185.7H1533.2ZM1519.3 1185.7H1533.2V1199.6H1519.3ZM1547.1 1185.7H1561V1199.6H1547.1ZM1533.2 1199.6H1547.1V1213.5H1533.2ZM1825.4 1463.4H1839.3V1477.3H1825.4ZM1811.5 1477.3H1825.4V1491.2H1811.5ZM1853.2 1491.2H1867.1V1505.1H1853.2ZM1839.3 1505.1H1853.2V1519H1839.3ZM1867.1 1505.1H1881V1519H1867.1ZM1853.2 1519H1867.1V1532.9H1853.2Z"/>
<path fill="#fed976" d="M1561 1144.1H1574.9V1157.9H1561ZM1491.4 1213.5H1505.4V1227.4H1491.4ZM1769.7 1380.1H1783.6V1394H1769.7ZM1728 1421.8H1741.9V1435.7H1728Z"/>
<path fill="#fecc68" d="M1588.8 1185.7H1602.8V1199.6H1588.8ZM1533.2 1241.3H1547.1V1255.1H1533.2ZM1714.1 1241.3H1728V1255.1H1714.1ZM1588.8 1366.2H1602.8V1380.1H1588.8ZM1895 1366.2H1908.9V1380.1H1895ZM1867.1 1477.3H1881V1491.2H1867.1ZM1908.9 1505.1H1922.8V1519H1908.9ZM1825.4 1519H1839.3V1532.9H1825.4ZM1908.9 1532.9H1922.8V1546.7H1908.9ZM1714.1 1546.7H1728V1560.6H1714.1ZM1922.8 1546.7H1936.7V1560.6H1922.8ZM1853.2 1560.6H1867.1V1574.5H1853.2ZM1881 1560.6H1895V1574.5H1881ZM1895 1574.5H1908.9V1588.4H1895Z"/>
<path fill="#fd8239" d="M1561 1199.6H1574.9V1213.5H1561ZM1547.1 1213.5H1561V1227.4H1547.1ZM1741.9 1380.1H1755.8V1394H1741.9ZM1728 1394H1741.9V1407.9H1728ZM1755.8 1394H1769.7V1407.9H1755.8ZM1741.9 1407.9H1755.8V1421.8H1741.9ZM1797.6 1435.7H1811.5V1449.5H1797.6ZM1783.6 1449.5H1797.6V1463.4H1783.6ZM1811.5 1449.5H1825.4V1463.4H1811.5ZM1797.6 1463.4H1811.5V1477.3H1797.6Z"/>
<path fill="#feb24c" d="M1588.8 1199.6H1602.8V1213.5H1588.8ZM1547.1 1241.3H1561V1255.1H1547.1ZM1755.8 1366.2H1769.7V1380.1H1755.8ZM1755.8 1380.1H1769.7V1394H1755.8ZM1769.7 1394H1783.6V1407.9H1769.7ZM1714.1 1407.9H1728V1421.8H1714.1ZM1728 1407.9H1741.9V1421.8H1728ZM1741.9 1421.8H1755.8V1435.7H1741.9Z"/>
<path fill="#800026" d="M1602.8 1255.1H1616.7V1269H1602.8ZM1616.7 1255.1H1630.6V1269H1616.7ZM1630.6 1255.1H1644.5V1269H1630.6ZM1644.5 1255.1H1658.4V1269H1644.5ZM1658.4 1255.1H1672.3V1269H1658.4ZM1672.3 1255.1H1686.2V1269H1672.3ZM1686.2 1255.1H1700.2V1269H1686.2ZM1700.2 1255.1H1714.1V1269H1700.2ZM1602.8 1269H1616.7V1282.9H1602.8ZM1616.7 1269H1630.6V1282.9H1616.7ZM1630.6 1269H1644.5V1282.9H1630.6ZM1644.5 1269H1658.4V1282.9H1644.5ZM1658.4 1269H1672.3V1282.9H1658.4ZM1672.3 1269H1686.2V1282.9H1672.3ZM1686.2 1269H1700.2V1282.9H1686.2ZM1700.2 1269H1714.1V1282.9H1700.2ZM1602.8 1282.9H1616.7V1296.8H1602.8ZM1616.7 1282.9H1630.6V1296.8H1616.7ZM1630.6 1282.9H1644.5V1296.8H1630.6ZM1644.5 1282.9H1658.4V1296.8H1644.5ZM1658.4 1282.9H1672.3V1296.8H1658.4ZM1672.3 1282.9H1686.2V1296.8H1672.3ZM1686.2 1282.9H1700.2V1296.8H1686.2ZM1700.2 1282.9H1714.1V1296.8H1700.2ZM1602.8 1296.8H1616.7V1310.7H1602.8ZM1616.7 1296.8H1630.6V1310.7H1616.7ZM1630.6 1296.8H1644.5V1310.7H1630.6ZM1644.5 1296.8H1658.4V1310.7H1644.5ZM1658.4 1296.8H1672.3V1310.7H1658.4ZM1672.3 1296.8H1686.2V1310.7H1672.3ZM1686.2 1296.8H1700.2V1310.7H1686.2ZM1700.2 1296.8H1714.1V1310.7H1700.2ZM1602.8 1310.7H1616.7V1324.6H1602.8ZM1616.7 1310.7H1630.6V1324.6H1616.7ZM1630.6 1310.7H1644.5V1324.6H1630.6ZM1644.5 1310.7H1658.4V1324.6H1644.5ZM1658.4 1310.7H1672.3V1324.6H1658.4ZM1672.3 1310.7H1686.2V1324.6H1672.3ZM1686.2 1310.7H1700.2V1324.6H1686.2ZM1700.2 1310.7H1714.1V1324.6H1700.2ZM1602.8 1324.6H1616.7V1338.5H1602.8ZM1616.7 1324.6H1630.6V1338.5H1616.7ZM1630.6 1324.6H1644.5V1338.5H1630.6ZM1644.5 1324.6H1658.4V1338.5H1644.5ZM1658.4 1324.6H1672.3V1338.5H1658.4ZM1672.3 1324.6H1686.2V1338.5H1672.3ZM1686.2 1324.6H1700.2V1338.5H1686.2ZM1700.2 1324.6H1714.1V1338.5H1700.2ZM1602.8 1338.5H1616.7V1352.3H1602.8ZM1616.7 1338.5H1630.6V1352.3H1616.7ZM1630.6 1338.5H1644.5V1352.3H1630.6ZM1644.5 1338.5H1658.4V1352.3H1644.5ZM1658.4 1338.5H1672.3V1352.3H1658.4ZM1672.3 1338.5H1686.2V1352.3H1672.3ZM1686.2 1338.5H1700.2V1352.3H1686.2ZM1700.2 1338.5H1714.1V1352.3H1700.2ZM1602.8 1352.3H1616.7V1366.2H1602.8ZM1616.7 1352.3H1630.6V1366.2H1616.7ZM1630.6 1352.3H1644.5V1366.2H1630.6ZM1644.5 1352.3H1658.4V1366.2H1644.5ZM1658.4 1352.3H1672.3V1366.2H1658.4ZM1672.3 1352.3H1686.2V1366.2H1672.3ZM1686.2 1352.3H1700.2V1366.2H1686.2ZM1700.2 1352.3H1714.1V1366.2H1700.2Z"/>
<path fill="#fff3af" d="M1797.6 1407.9H1811.5V1421.8H1797.6ZM1867.1 1407.9H1881V1421.8H1867.1ZM1755.8 1449.5H1769.7V1463.4H1755.8ZM1881 1491.2H1895V1505.1H1881ZM1755.8 1519H1769.7V1532.9H1755.8ZM1839.3 1532.9H1853.2V1546.7H1839.3Z"/>
<path fill="#ffe692" d="M1853.2 1463.4H1867.1V1477.3H1853.2ZM1811.5 1505.1H1825.4V1519H1811.5Z"/>
</g>
<rect x="1449.7" y="1102.4" width="487" height="486" fill="none" stroke="#111" stroke-width="1.1"/>
<text x="1441.7" y="1115.3" font-size="17" fill="#000" text-anchor="end">0</text>
<text x="1441.7" y="1184.8" font-size="17" fill="#000" text-anchor="end">5</text>
<text x="1441.7" y="1254.2" font-size="17" fill="#000" text-anchor="end">10</text>
<text x="1441.7" y="1323.6" font-size="17" fill="#000" text-anchor="end">15</text>
<text x="1441.7" y="1393.1" font-size="17" fill="#000" text-anchor="end">20</text>
<text x="1441.7" y="1462.5" font-size="17" fill="#000" text-anchor="end">25</text>
<text x="1441.7" y="1531.9" font-size="17" fill="#000" text-anchor="end">30</text>
<path d="M1455.5 1102.4v-4.5M1455.5 1588.4v4.5M1524.9 1102.4v-4.5M1524.9 1588.4v4.5M1591.5 1102.4v-4.5M1591.5 1588.4v4.5M1611.7 1102.4v-4.5M1611.7 1588.4v4.5M1636.7 1102.4v-4.5M1636.7 1588.4v4.5M1661.7 1102.4v-4.5M1661.7 1588.4v4.5M1678.8 1102.4v-4.5M1678.8 1588.4v4.5M1692.8 1102.4v-4.5M1692.8 1588.4v4.5M1708.1 1102.4v-4.5M1708.1 1588.4v4.5M1722.9 1102.4v-4.5M1722.9 1588.4v4.5M1824.2 1102.4v-4.5M1824.2 1588.4v4.5M1928.9 1102.4v-4.5M1928.9 1588.4v4.5M1449.7 1109.3h-4.5M1449.7 1178.8h-4.5M1449.7 1248.2h-4.5M1449.7 1317.6h-4.5M1449.7 1387.1h-4.5M1449.7 1456.5h-4.5M1449.7 1525.9h-4.5" stroke="#222" stroke-width="1" fill="none"/>
<path d="M1602.8 1102.4V1588.4M1449.7 1255.1H1936.7M1672.3 1102.4V1588.4M1449.7 1324.6H1936.7M1714.1 1102.4V1588.4M1449.7 1366.2H1936.7" stroke="#000" stroke-width="1.9" stroke-dasharray="6.2 2.7" fill="none"/>
<text transform="translate(1462.2 1093.1) rotate(-90)" font-size="18.3" fill="#000" textLength="81.6" lengthAdjust="spacing" >139.284Mb</text>
<text transform="translate(1531.9 1091.4) rotate(-90)" font-size="18.3" fill="#000" textLength="30.6" lengthAdjust="spacing" >chr4</text>
<text transform="translate(1598.2 1093.1) rotate(-90)" font-size="18.3" fill="#000" textLength="81.6" lengthAdjust="spacing" >139.295Mb</text>
<text transform="translate(1618.1 1093.9) rotate(-90)" font-size="18.3" fill="#000" textLength="34.7" lengthAdjust="spacing" >3 Kb</text>
<text transform="translate(1642.1 1093.1) rotate(-90)" font-size="18.3" fill="#000" textLength="49.2" lengthAdjust="spacing" >HPV16</text>
<text transform="translate(1667.9 1093.9) rotate(-90)" font-size="18.3" fill="#000" textLength="34.7" lengthAdjust="spacing" >8 Kb</text>
<text transform="translate(1683.7 1093.9) rotate(-90)" font-size="18.3" fill="#000" textLength="34.7" lengthAdjust="spacing" >0 Kb</text>
<text transform="translate(1698.2 1093.1) rotate(-90)" font-size="18.3" fill="#000" textLength="49.2" lengthAdjust="spacing" >HPV16</text>
<text transform="translate(1713 1093.9) rotate(-90)" font-size="18.3" fill="#000" textLength="34.7" lengthAdjust="spacing" >3 Kb</text>
<text transform="translate(1728.9 1093.1) rotate(-90)" font-size="18.3" fill="#000" textLength="81.6" lengthAdjust="spacing" >139.296Mb</text>
<text transform="translate(1830.4 1093.1) rotate(-90)" font-size="18.3" fill="#000" textLength="30.6" lengthAdjust="spacing" >chr4</text>
<text transform="translate(1935 1093.1) rotate(-90)" font-size="18.3" fill="#000" textLength="81.6" lengthAdjust="spacing" >139.312Mb</text>
<text transform="translate(1415 1365) rotate(-90)" font-size="17.5" fill="#000" textLength="168" lengthAdjust="spacing" text-anchor="middle" >Bins (1K resolution)</text>
<defs><linearGradient id="cbF" x1="0" y1="0" x2="0" y2="1"><stop offset="0%" stop-color="#800026"/><stop offset="12.5%" stop-color="#bd0026"/><stop offset="25%" stop-color="#e31a1c"/><stop offset="37.5%" stop-color="#fc4e2a"/><stop offset="50%" stop-color="#fd8d3c"/><stop offset="62.5%" stop-color="#feb24c"/><stop offset="75%" stop-color="#fed976"/><stop offset="87.5%" stop-color="#ffeda0"/><stop offset="100%" stop-color="#ffffcc"/></linearGradient></defs>
<rect x="1957.4" y="1100.5" width="24.8" height="490.4" fill="url(#cbF)" stroke="#222" stroke-width="1"/>
<text x="2005.7" y="1112.3" font-size="20" fill="#000" textLength="31.8" lengthAdjust="spacing">2.0</text>
<text x="2005.7" y="1166.8" font-size="20" fill="#000" textLength="31.8" lengthAdjust="spacing">1.8</text>
<text x="2005.7" y="1221.3" font-size="20" fill="#000" textLength="31.8" lengthAdjust="spacing">1.6</text>
<text x="2005.7" y="1275.8" font-size="20" fill="#000" textLength="31.8" lengthAdjust="spacing">1.4</text>
<text x="2005.7" y="1330.3" font-size="20" fill="#000" textLength="31.8" lengthAdjust="spacing">1.2</text>
<text x="2005.7" y="1384.7" font-size="20" fill="#000" textLength="31.8" lengthAdjust="spacing">1.0</text>
<text x="2005.7" y="1439.2" font-size="20" fill="#000" textLength="31.8" lengthAdjust="spacing">0.8</text>
<text x="2005.7" y="1493.7" font-size="20" fill="#000" textLength="31.8" lengthAdjust="spacing">0.6</text>
<text x="2005.7" y="1548.2" font-size="20" fill="#000" textLength="31.8" lengthAdjust="spacing">0.4</text>
<text x="2005.7" y="1602.7" font-size="20" fill="#000" textLength="31.8" lengthAdjust="spacing">0.2</text>
<path d="M1982.2 1100.5h3.4M1990.6 1103.9h3.8M1982.2 1155h3.4M1990.6 1158.4h3.8M1982.2 1209.5h3.4M1990.6 1212.9h3.8M1982.2 1264h3.4M1990.6 1267.4h3.8M1982.2 1318.5h3.4M1990.6 1321.9h3.8M1982.2 1372.9h3.4M1990.6 1376.3h3.8M1982.2 1427.4h3.4M1990.6 1430.8h3.8M1982.2 1481.9h3.4M1990.6 1485.3h3.8M1982.2 1536.4h3.4M1990.6 1539.8h3.8M1982.2 1590.9h3.4M1990.6 1594.3h3.8" stroke="#333" stroke-width="1.2"/>
<text x="1495.5" y="1643.8" font-size="56" fill="#008f8f" textLength="70" lengthAdjust="spacingAndGlyphs" font-weight="bold">S2</text>
<text x="1802.5" y="1643.8" font-size="56" fill="#000" textLength="63" lengthAdjust="spacingAndGlyphs" font-weight="bold">S1</text>
<text transform="translate(1627.2 1605.5) rotate(90)" font-size="37.7" fill="#ff2d96" textLength="167" lengthAdjust="spacingAndGlyphs" font-weight="bold" >HPV_Late</text>
<text transform="translate(1682.7 1605.5) rotate(90)" font-size="37.7" fill="#ff2d96" textLength="181" lengthAdjust="spacingAndGlyphs" font-weight="bold" >HPV_Early</text>
<circle cx="1011.5" cy="385.2" r="174.8" fill="none" stroke="#e5e5e5" stroke-width="62.5"/>
<path d="M1155.2 337.4A151.4 151.4 0 1 1 986.3 235.9M1165.9 333.8A162.7 162.7 0 1 1 984.4 224.8M1176.6 330.3A174 174 0 1 1 982.5 213.6M1187.3 326.7A185.3 185.3 0 1 1 980.6 202.5M1198 323.1A196.6 196.6 0 1 1 978.7 191.4M994.1 234.8A151.4 151.4 0 0 1 1029.7 234.9M992.8 223.6A162.7 162.7 0 0 1 1031 223.7M991.5 212.4A174 174 0 0 1 1032.4 212.5M990.2 201.1A185.3 185.3 0 0 1 1033.8 201.2M988.9 189.9A196.6 196.6 0 0 1 1035.1 190M1037 236A151.4 151.4 0 0 1 1081.6 251M1038.9 224.8A162.7 162.7 0 0 1 1086.9 241M1040.8 213.7A174 174 0 0 1 1092.1 231M1042.7 202.5A185.3 185.3 0 0 1 1097.3 221M1044.6 191.4A196.6 196.6 0 0 1 1102.6 211M1089 255.2A151.4 151.4 0 0 1 1152.7 330.7M1094.8 245.4A162.7 162.7 0 0 1 1163.3 326.6M1100.6 235.7A174 174 0 0 1 1173.8 322.6M1106.4 226A185.3 185.3 0 0 1 1184.4 318.5M1112.2 216.3A196.6 196.6 0 0 1 1194.9 314.4" fill="none" stroke="#fff" stroke-width="1.8"/>
<path d="M1101.2 355.4A94.5 94.5 0 1 1 995.7 292M1111.6 351.9A105.5 105.5 0 1 1 993.9 281.2M1122 348.4A116.5 116.5 0 1 1 992.1 270.3M1132.5 345A127.5 127.5 0 1 1 990.2 259.5M1142.9 341.5A138.5 138.5 0 1 1 988.4 248.6M1000.6 291.3A94.5 94.5 0 0 1 1022.9 291.4M999.4 280.4A105.5 105.5 0 0 1 1024.2 280.5M998.1 269.5A116.5 116.5 0 0 1 1025.5 269.5M996.8 258.5A127.5 127.5 0 0 1 1026.8 258.6M995.6 247.6A138.5 138.5 0 0 1 1028.1 247.7M1027.4 292.1A94.5 94.5 0 0 1 1055.3 301.5M1029.3 281.2A105.5 105.5 0 0 1 1060.4 291.7M1031.1 270.4A116.5 116.5 0 0 1 1065.5 282M1033 259.5A127.5 127.5 0 0 1 1070.6 272.2M1034.8 248.7A138.5 138.5 0 0 1 1075.7 262.5M1059.9 304A94.5 94.5 0 0 1 1099.7 351.2M1065.5 294.6A105.5 105.5 0 0 1 1109.9 347.2M1071.2 285.1A116.5 116.5 0 0 1 1120.2 343.3M1076.8 275.7A127.5 127.5 0 0 1 1130.5 339.3M1082.4 266.2A138.5 138.5 0 0 1 1140.7 335.3" fill="none" stroke="#cdcdcd" stroke-width="1.6"/>
<circle cx="1011.5" cy="385.2" r="59.3" fill="none" stroke="#e5e5e5" stroke-width="59"/>
<path d="M1046.6 373.5A37 37 0 1 1 1005.3 348.7M1057 370A48 48 0 1 1 1003.5 337.9M1067.5 366.6A59 59 0 1 1 1001.7 327M1077.9 363.1A70 70 0 1 1 999.8 316.2M1088.4 359.6A81 81 0 1 1 998 305.3M1007.2 348.4A37 37 0 0 1 1015.9 348.5M1006 337.5A48 48 0 0 1 1017.3 337.5M1004.7 326.6A59 59 0 0 1 1018.6 326.6M1003.5 315.7A70 70 0 0 1 1019.9 315.7M1002.2 304.7A81 81 0 0 1 1021.2 304.8M1017.7 348.7A37 37 0 0 1 1028.6 352.4M1019.6 337.9A48 48 0 0 1 1033.7 342.7M1021.4 327A59 59 0 0 1 1038.8 332.9M1023.3 316.2A70 70 0 0 1 1043.9 323.2M1025.1 305.4A81 81 0 0 1 1049 313.4M1030.4 353.4A37 37 0 0 1 1046 371.9M1036.1 344A48 48 0 0 1 1056.3 367.9M1041.7 334.5A59 59 0 0 1 1066.5 364M1047.3 325.1A70 70 0 0 1 1076.8 360M1053 315.6A81 81 0 0 1 1087.1 356" fill="none" stroke="#fff" stroke-width="1.8"/>
<path d="M1224.4 314.4A224.4 224.4 0 1 1 974.1 163.9L976.9 180.6A207.5 207.5 0 1 0 1208.4 319.7Z" fill="#b0e0e6"/>
<path d="M985.7 162.3A224.4 224.4 0 0 1 1038.5 162.4L1036.4 179.2A207.5 207.5 0 0 0 987.7 179.1Z" fill="#ff0000"/>
<path d="M1049.3 164A224.4 224.4 0 0 1 1115.5 186.3L1107.6 201.3A207.5 207.5 0 0 0 1046.5 180.7Z" fill="#ff0000"/>
<path d="M1126.4 192.4A224.4 224.4 0 0 1 1220.9 304.4L1205.1 310.5A207.5 207.5 0 0 0 1117.7 207Z" fill="#b0e0e6"/>
<path d="M1154.9 337.5L1158.3 336.4L1158.5 337.6L1158.8 338.8L1158.7 340.1L1159.2 341.2L1159.5 342.3L1159.9 343.5L1160.3 344.6L1160.8 345.8L1160.9 347L1161.1 348.2L1161.4 349.4L1161.9 350.5L1162.3 351.7L1162.3 352.9L1162.4 354.1L1162.9 355.2L1163.4 356.4L1163.6 357.6L1163.6 358.8L1164 360L1164.1 361.2L1164.4 362.4L1164.8 363.5L1164.9 364.8L1165 366L1165.2 367.2L1165.1 368.4L1165.2 369.6L1165.2 370.8L1165.3 372.1L1165.3 373.3L1165.4 374.5L1165.4 375.7L1165.6 376.9L1165.7 378.1L1165.8 379.3L1166.1 380.5L1165.8 381.7L1166.1 382.9L1166 384.2L1165.7 385.4L1165.7 386.6L1165.8 387.8L1166 389L1165.7 390.2L1165.7 391.4L1165.7 392.7L1165.4 393.9L1165.2 395.1L1165.3 396.3L1165.4 397.5L1165.5 398.7L1165.4 399.9L1165.3 401.2L1165.1 402.4L1165.2 403.6L1164.7 404.8L1164.5 406L1164.4 407.2L1163.9 408.3L1164.1 409.6L1163.7 410.7L1163.5 411.9L1163.7 413.2L1163.2 414.3L1162.9 415.5L1162.9 416.8L1162.4 417.9L1162 419.1L1161.9 420.3L1161.7 421.5L1161.5 422.7L1161.2 423.9L1161.1 425.1L1160.8 426.3L1160.4 427.4L1159.9 428.5L1159.4 429.6L1158.7 430.7L1158.5 431.9L1157.9 433L1157.8 434.2L1157.7 435.5L1157.1 436.6L1156.6 437.7L1156.1 438.8L1155.9 440L1155.3 441.1L1154.9 442.2L1154.4 443.3L1153.9 444.4L1153.7 445.7L1153 446.7L1152.6 447.8L1152.1 449L1151.8 450.1L1151 451.1L1150.7 452.3L1150.2 453.4L1149.8 454.6L1149.1 455.6L1148.3 456.5L1147.6 457.6L1147.3 458.7L1146.7 459.8L1146.1 460.9L1145.8 462.1L1145.4 463.3L1144.6 464.2L1144.2 465.4L1143.1 466.1L1142.1 467L1141.7 468.1L1141 469.1L1140.5 470.2L1139.8 471.3L1139.1 472.3L1138.5 473.3L1137.8 474.3L1136.8 475.1L1136.2 476.1L1135.5 477.1L1135.1 478.3L1134.1 479.1L1133.4 480.1L1132.6 481L1131.8 481.9L1131.3 483.1L1130.5 484L1129.6 484.8L1128.8 485.8L1128.1 486.8L1127.1 487.5L1126.3 488.4L1125.7 489.5L1125 490.5L1124 491.3L1123.1 492.1L1122.2 492.9L1121.2 493.6L1120.5 494.6L1119.7 495.5L1118.8 496.4L1117.8 497L1116.8 497.8L1116.1 498.8L1115.2 499.6L1114.3 500.4L1113.4 501.3L1112.6 502.2L1111.6 502.9L1110.6 503.6L1109.6 504.2L1108.6 504.9L1107.8 505.9L1106.9 506.7L1106 507.5L1104.9 508.1L1103.8 508.7L1102.9 509.5L1101.9 510.2L1101 511L1099.9 511.6L1099.1 512.4L1098.2 513.4L1097.3 514.2L1096.4 515L1095.3 515.6L1094.3 516.2L1093.1 516.7L1092.1 517.4L1091 517.9L1089.9 518.4L1088.8 518.9L1087.8 519.6L1086.8 520.2L1085.7 520.8L1084.5 521.2L1083.5 521.8L1082.3 522.2L1081.4 523.1L1080.3 523.6L1079.2 524.1L1078.1 524.6L1076.9 524.9L1075.7 525.2L1074.6 525.9L1073.7 526.7L1072.5 527L1071.3 527.4L1070.2 527.9L1069 528.1L1067.8 528.4L1066.7 529L1065.7 529.5L1064.5 530L1063.5 530.8L1062.4 531.1L1061.2 531.6L1060.2 532.2L1059.1 532.8L1057.8 532.7L1056.6 533L1055.5 533.6L1054.2 533.6L1053 533.8L1051.8 534L1050.6 534.1L1049.4 534.4L1048.3 534.9L1047.2 535.5L1046.1 536.1L1044.9 536.3L1043.6 536.1L1042.4 536.4L1041.3 536.7L1040.1 537L1038.9 537.2L1037.6 537.1L1036.5 537.5L1035.2 537.4L1034 537.6L1032.9 538L1031.7 538.3L1030.5 538.8L1029.3 538.4L1028.1 538.7L1026.9 539L1025.7 539.1L1024.5 539.3L1023.2 539.2L1022 539.5L1020.8 539.6L1019.6 539.5L1018.4 539.4L1017.2 539.5L1016 539.5L1014.7 539.8L1013.5 539.8L1012.3 540.1L1011.1 540.2L1009.9 540.1L1008.7 540L1007.5 539.7L1006.2 539.5L1005 539.4L1003.8 539.5L1002.6 539.3L1001.4 539.3L1000.2 539.3L999 539.1L997.8 539L996.5 539.2L995.3 539.4L994.1 539L992.9 538.7L991.7 538.5L990.5 538.3L989.3 538.4L988.1 538.3L986.8 538.2L985.6 538.2L984.4 537.8L983.3 537.4L982.1 537.1L980.9 537L979.7 536.7L978.5 536.5L977.3 536.3L976.1 536.2L974.9 535.8L973.8 535.2L972.7 534.6L971.5 534.6L970.3 534.3L969.2 533.8L968 533.3L966.9 533L965.8 532.4L964.6 532.2L963.4 531.7L962.3 531.4L961 531.2L959.9 530.8L958.7 530.5L957.6 530.1L956.4 529.7L955.3 529.2L954 529.1L953 528.5L951.8 528.2L950.8 527.5L949.6 527.1L948.5 526.5L947.5 525.8L946.6 524.9L945.3 524.8L944.3 524.1L943.3 523.4L942.1 523L941 522.5L939.9 522.1L938.8 521.5L937.9 520.7L936.7 520.3L935.7 519.6L934.6 519.1L933.5 518.6L932.3 518.1L931.3 517.4L930.4 516.7L929.4 516L928.5 515.1L927.5 514.4L926.5 513.7L925.6 512.9L924.5 512.4L923.4 511.8L922.2 511.4L921.1 510.9L920.4 509.8L919.4 509.1L918.5 508.3L917.4 507.7L916.4 507L915.4 506.3L914.4 505.6L913.4 504.9L912.6 504L912 502.8L911.1 502L910.2 501.2L909.3 500.4L908.4 499.6L907.2 499.1L906.3 498.2L905.3 497.6L904.5 496.7L903.4 496L902.8 494.9L901.8 494.1L901.2 493.1L900.3 492.3L899.2 491.6L898.6 490.5L897.9 489.5L897 488.7L896.2 487.8L895.6 486.7L894.5 486L893.7 485.1L892.8 484.3L892 483.4L891.5 482.3L890.8 481.3L889.8 480.5L889.3 479.4L888.6 478.4L887.7 477.5L886.8 476.6L886 475.7L885.6 474.5L884.6 473.7L884 472.7L883.4 471.6L882.7 470.6L882.1 469.5L881.6 468.4L881 467.4L880.1 466.5L879.7 465.3L879.4 464.1L878.6 463.2L877.8 462.2L877.1 461.2L876.2 460.3L875.8 459.2L875.3 458.1L874.6 457L873.9 456L873.3 455L873 453.8L872.7 452.6L872.2 451.5L871.9 450.3L871.1 449.3L870.6 448.2L870.2 447.1L869.8 445.9L869 444.9L868.5 443.8L868.1 442.7L867.6 441.6L867.2 440.4L866.7 439.3L866.1 438.2L865.8 437.1L865.4 435.9L865 434.8L864.4 433.7L864.1 432.5L863.8 431.3L863.6 430.1L863.2 428.9L863.1 427.7L862.6 426.6L862.3 425.4L861.9 424.3L861.7 423.1L861.6 421.8L861.4 420.6L860.9 419.5L860.6 418.3L860.4 417.1L860.5 415.9L860.1 414.7L860.5 413.4L859.7 412.3L859.5 411.1L859.2 410L859.2 408.7L859.1 407.5L858.7 406.3L858.5 405.2L858.2 404L857.8 402.8L857.6 401.6L857.9 400.3L857.9 399.1L857.9 397.9L857.9 396.7L858 395.5L858.1 394.2L857.9 393L857.8 391.8L857.4 390.6L857.3 389.4L856.9 388.2L857.3 387L857.4 385.8L857.2 384.6L857.2 383.4L857.3 382.2L857.1 380.9L856.9 379.7L856.7 378.5L857 377.3L857.1 376.1L857.2 374.9L857.3 373.7L857.2 372.4L857.5 371.2L857.5 370L858.1 368.9L858 367.6L857.8 366.4L858 365.2L858.1 363.9L858.6 362.8L858.9 361.6L859.3 360.4L859.3 359.2L859.4 358L859.8 356.8L860.1 355.7L860.3 354.5L860 353.2L860.3 352L860.5 350.8L860.8 349.6L861 348.4L861.4 347.2L862 346.1L862.3 345L862.2 343.7L862.5 342.5L863 341.4L863.6 340.3L863.8 339.1L864.1 337.9L864.6 336.8L864.7 335.5L865.2 334.4L865.6 333.3L865.8 332L866.2 330.9L866.4 329.7L867 328.6L867.5 327.5L867.9 326.3L868.3 325.2L868.6 323.9L869.1 322.8L869.6 321.7L870.1 320.6L870.5 319.5L871.4 318.5L871.9 317.4L872.5 316.3L872.7 315.1L873.4 314.1L873.8 312.9L874.6 312L875.2 310.9L875.5 309.7L876.2 308.6L876.6 307.4L877.7 306.7L878.2 305.5L878.7 304.4L879.3 303.4L880.2 302.5L880.6 301.3L881.7 300.5L881.9 299.2L882.4 298.1L882.8 296.9L883.6 295.9L884.5 295.1L885.3 294.1L886 293.1L886.5 292L887.2 291L887.8 289.9L888.4 288.8L888.8 287.6L890.1 287.1L890.9 286.1L891.5 285L892 283.8L892.9 283L893.7 282L894.5 281.1L895.2 280L896.1 279.2L897 278.3L897.9 277.6L898.7 276.6L899 275.2L900.1 274.5L900.6 273.2L900.9 271.8L901.9 271L902.2 269.6L903.4 269L904 267.8L905.1 267.1L906.5 266.8L907.3 265.8L907.7 264.4L908.9 263.9L909.8 263L911 262.6L912.1 262L912.8 260.8L913.8 260L914.5 258.9L915.1 257.6L916.5 257.4L917.6 256.8L918.5 255.9L918.7 254.1L920 253.6L921.2 253.1L922 252.2L922.5 250.5L923.8 250.3L925 249.8L926.1 249.1L926.9 248L927.3 246.3L928.9 246.4L930.4 246.6L931.3 245.5L932.1 244.3L933.8 244.8L934.8 244L935.3 242.3L936.5 241.8L937.3 240.6L938.3 239.7L939.1 238.6L940.1 237.7L941.2 236.9L942 235.5L943.4 235.5L944.5 234.8L945.3 233.4L946.7 233.4L948 233.1L949.3 232.9L950.7 232.8L951 230.2L952.1 229.4L952.8 227.5L954 226.8L955.3 226.7L956.8 226.8L958 226.3L959.3 226.1L960.3 224.9L961.9 225.6L963.1 225L964.2 224.2L965.6 224.1L966.9 223.9L968 222.9L969.2 222.1L970.5 222L971.9 222L973.3 222.5L974.5 221.9L975.9 222L977.5 223.3L978.8 223.1L980 222.2L981.2 221.8L982.7 222.6L983.9 221.7L986.3 236.2A151.1 151.1 0 1 0 1154.9 337.5ZM994.1 235.1L990.9 206.9L992 204.4L993.1 200.6L994.5 200.6L995.8 198.3L997.2 197.6L998.5 194L999.8 190.6L1001.4 192L1002.9 192.7L1004.7 198.7L1006.2 201.1L1007.8 206.8L1009.2 206.6L1010.6 209.6L1011.9 215.8L1013.2 221.3L1014.5 221.6L1015.7 224.2L1016.9 225.7L1018.1 227.4L1019.3 228.2L1020.5 229.4L1021.7 230.1L1022.8 231L1024 231.2L1025.2 231.8L1026.4 232.2L1027.5 232.8L1028.7 233.3L1029.8 233.9L1029.7 235.2A151.1 151.1 0 0 0 994.1 235.1ZM1037 236.3L1039.7 220.1L1042.2 213.7L1044.2 211L1045.8 209.8L1047.1 210.7L1048.2 212.6L1049.6 212.5L1050.7 214.1L1052 214.8L1054.2 211.8L1055.4 212.9L1057.2 211.5L1058.9 210.9L1060.8 209.3L1062.1 210.1L1062.4 214.4L1063.5 215.7L1064.7 216.4L1066.8 214.5L1068.3 214.8L1069.2 216.4L1070.6 216.8L1071.4 218.7L1072.8 219.1L1073.9 220.3L1075.4 220.3L1076.3 221.7L1077.6 222.3L1078.4 224.1L1079.6 224.9L1080.3 226.8L1081.4 227.6L1082.3 229L1083.1 230.6L1083.7 232.4L1084.5 233.9L1085.7 234.6L1085.5 237.9L1087.2 237.5L1087.2 240.5L1081.5 251.3A151.1 151.1 0 0 0 1037 236.3ZM1088.9 255.4L1094.1 246.7L1095.7 246.5L1097.7 245.7L1099.2 245.7L1100.2 246.6L1101.2 247.5L1102.6 247.7L1104.4 247.3L1105.1 248.6L1104.9 251.3L1105.7 252.4L1106.8 253L1109.1 252.1L1109.3 254L1109.8 255.5L1110.7 256.4L1111.5 257.5L1111.6 259.4L1112.8 260L1113 261.7L1113.8 262.8L1115.1 263.2L1115.4 264.8L1116.1 265.9L1117.4 266.2L1118 267.5L1118.4 268.9L1119.1 270.1L1120.1 270.8L1120.4 272.3L1121.1 273.3L1121.7 274.4L1122.4 275.5L1123.8 275.9L1124.6 276.8L1125.3 277.9L1126.2 278.7L1126.8 279.8L1127.4 281L1128.5 281.6L1129.4 282.5L1129.9 283.7L1130.8 284.6L1131.8 285.3L1132.5 286.3L1133.3 287.3L1133.6 288.6L1134.3 289.6L1134.7 290.9L1135.8 291.7L1136.4 292.7L1137.4 293.5L1137.9 294.7L1138.7 295.6L1139 296.9L1139.7 297.9L1140.5 298.8L1141.2 299.8L1141.8 300.9L1142.1 302.2L1143.1 303L1143.8 304L1144.6 305L1145.3 306L1145.7 307.2L1146.3 308.3L1147.3 309.1L1147.5 310.4L1148.1 311.5L1148.5 312.7L1149.4 313.6L1149.8 314.7L1150.1 316L1150.5 317.1L1150.8 318.3L1151 319.6L1151.2 320.9L1151.9 321.9L1152.4 323L1153.2 324L1153.6 325.1L1154.3 326.2L1155.2 327.1L1155.4 328.4L1155.7 329.6L1152.5 330.8A151.1 151.1 0 0 0 1088.9 255.4ZM1100.9 355.5L1103.7 354.5L1104.2 355.2L1104.2 356L1104.1 356.8L1104.3 357.5L1104.5 358.3L1104.9 359L1104.9 359.7L1105.1 360.5L1105.3 361.2L1105.3 362L1105.3 362.8L1105.7 363.5L1106 364.2L1106.1 364.9L1106.6 365.6L1106.8 366.3L1107 367.1L1107.1 367.8L1107.2 368.6L1107.4 369.3L1107.6 370.1L1107.6 370.9L1107.3 371.7L1107.5 372.4L1107.5 373.2L1107.4 373.9L1107.7 374.7L1107.6 375.5L1107.9 376.2L1107.9 377L1107.8 377.7L1107.8 378.5L1108.3 379.2L1108.5 380L1108.5 380.7L1108.6 381.5L1108.8 382.3L1108.6 383L1108.5 383.8L1108.6 384.5L1108.6 385.3L1108.5 386.1L1108.7 386.8L1108.6 387.6L1108.6 388.4L1108.9 389.1L1108.7 389.9L1108.9 390.7L1108.7 391.4L1108.5 392.2L1108.3 392.9L1108.3 393.7L1108.2 394.5L1108.1 395.2L1107.7 395.9L1107.5 396.7L1107.4 397.4L1107.4 398.2L1107.5 399L1107 399.7L1107 400.4L1106.8 401.2L1106.7 401.9L1106.6 402.7L1106.4 403.4L1106.1 404.2L1106.2 404.9L1106.2 405.7L1105.9 406.4L1105.7 407.2L1105.5 407.9L1105.1 408.6L1105.1 409.4L1104.9 410.1L1104.6 410.8L1104.3 411.5L1104.4 412.3L1104.3 413.1L1104 413.8L1103.8 414.5L1103.7 415.3L1103.5 416L1103 416.7L1102.7 417.4L1102.4 418.1L1102.2 418.8L1101.9 419.5L1101.4 420.1L1101.3 420.9L1101.1 421.7L1100.6 422.3L1100.5 423L1100.2 423.8L1100 424.5L1099.6 425.2L1099.3 425.9L1098.9 426.5L1098.4 427.1L1098 427.8L1097.8 428.5L1097.5 429.2L1097.3 429.9L1096.9 430.6L1096.3 431.1L1096.1 431.9L1095.6 432.5L1095.1 433.1L1094.8 433.8L1094.3 434.4L1094.1 435.1L1093.6 435.7L1093.5 436.5L1093.1 437.1L1092.6 437.7L1092.1 438.3L1091.5 438.8L1091.1 439.5L1090.6 440.1L1090.3 440.8L1089.6 441.2L1089.3 442L1089.1 442.7L1088.6 443.3L1088.2 443.9L1087.8 444.6L1087.2 445.1L1086.8 445.7L1086.4 446.4L1085.9 447L1085.3 447.5L1084.7 447.9L1084.5 448.8L1084 449.4L1083.3 449.8L1082.9 450.4L1082.4 451L1081.9 451.6L1081.2 451.9L1080.9 452.7L1080.4 453.3L1079.8 453.8L1079.3 454.4L1078.7 454.8L1078.1 455.3L1077.7 455.9L1076.9 456.2L1076.5 456.9L1076 457.4L1075.4 458L1074.9 458.6L1074.4 459.2L1073.9 459.7L1073.3 460.2L1072.6 460.6L1072 461.1L1071.3 461.4L1070.6 461.8L1070.1 462.3L1069.5 462.8L1069 463.3L1068.1 463.5L1067.6 464L1067 464.6L1066.4 465L1065.9 465.6L1065.1 465.8L1064.5 466.3L1063.8 466.6L1063.2 467L1062.5 467.3L1061.9 467.8L1061.3 468.3L1060.6 468.7L1060 469.1L1059.3 469.3L1058.7 469.9L1058 470.2L1057.3 470.5L1056.7 471L1056 471.3L1055.3 471.7L1054.6 472L1054.1 472.5L1053.4 472.9L1052.7 473.2L1051.9 473.3L1051.2 473.7L1050.6 474.1L1049.8 474.4L1049.1 474.5L1048.3 474.7L1047.6 475L1046.9 475.3L1046.2 475.4L1045.6 476L1044.8 476.2L1044.1 476.5L1043.4 476.6L1042.7 476.9L1042 477.4L1041.2 477.4L1040.5 477.6L1039.7 477.7L1039 477.9L1038.3 478.3L1037.6 478.4L1036.8 478.6L1036 478.6L1035.3 478.8L1034.6 479.1L1033.8 479.3L1033.1 479.4L1032.4 479.8L1031.7 480L1030.9 480.1L1030.2 480.2L1029.4 480.1L1028.7 480.6L1027.9 480.5L1027.2 480.8L1026.4 480.9L1025.6 480.9L1024.9 481.2L1024.2 481.2L1023.4 481.5L1022.6 481.4L1021.9 481.6L1021.2 481.8L1020.4 481.7L1019.6 482.1L1018.9 482.2L1018.1 481.8L1017.3 482.1L1016.6 482.3L1015.8 482.2L1015.1 482.2L1014.3 482.2L1013.5 481.9L1012.8 482L1012 482.2L1011.3 482.1L1010.5 482.2L1009.7 482.5L1009 482.1L1008.2 481.8L1007.5 481.7L1006.7 481.9L1005.9 481.9L1005.2 481.7L1004.4 481.6L1003.7 481.5L1002.9 481.7L1002.1 481.5L1001.4 481.4L1000.6 481.5L999.9 481.4L999.1 481.1L998.3 481.3L997.6 481.2L996.8 480.9L996.1 480.8L995.3 480.8L994.6 480.6L993.8 480.5L993.1 480.5L992.3 480.4L991.6 479.9L990.9 479.7L990.1 479.5L989.4 479.4L988.6 479.4L987.8 479.3L987.1 479L986.4 478.7L985.7 478.5L985 478.2L984.2 478.3L983.4 478.1L982.7 477.8L982 477.7L981.3 477.3L980.6 477L979.9 476.7L979.1 476.6L978.3 476.5L977.6 476.2L976.9 476L976.2 475.6L975.5 475.3L974.8 474.9L974.1 474.8L973.4 474.3L972.8 474L972.1 473.7L971.3 473.5L970.7 473L970 472.7L969.4 472.3L968.8 471.8L968 471.7L967.3 471.4L966.7 470.8L966.1 470.4L965.3 470.2L964.7 469.8L964.1 469.3L963.3 469.2L962.7 468.7L962 468.3L961.3 468L960.7 467.5L960 467.1L959.4 466.8L958.7 466.4L958.1 465.9L957.4 465.6L956.8 465.2L956 464.9L955.4 464.4L954.9 463.9L954.4 463.3L953.8 462.8L953.2 462.3L952.6 461.9L951.9 461.5L951.3 461.1L950.8 460.5L950.1 460.1L949.6 459.6L949 459.1L948.3 458.8L947.6 458.3L947.2 457.7L946.7 457.1L946 456.7L945.4 456.3L944.8 455.7L944.3 455.2L944 454.4L943.5 453.9L943 453.2L942.5 452.7L942 452.1L941.4 451.7L940.7 451.3L940.1 450.7L939.6 450.2L939.2 449.5L938.6 449.1L938.1 448.5L937.8 447.7L937.3 447.1L936.8 446.6L936.4 445.9L935.9 445.4L935.2 444.9L934.8 444.3L934.4 443.6L933.9 443L933.6 442.3L933.2 441.7L932.8 441L932.4 440.4L932 439.8L931.4 439.2L931 438.6L930.4 438L930.2 437.3L929.8 436.7L929.3 436.1L928.8 435.5L928.5 434.8L928.1 434.1L927.7 433.5L927.4 432.8L927.1 432.1L926.6 431.5L926.4 430.7L926.2 430L925.8 429.3L925.4 428.7L925.2 427.9L924.6 427.4L924.3 426.7L923.8 426.1L923.6 425.3L923.3 424.6L922.7 424.1L922.3 423.4L922 422.7L921.8 422L921.6 421.2L921.2 420.6L921.1 419.8L921 419L920.7 418.3L920.3 417.7L920.2 416.9L919.9 416.2L919.6 415.5L919.4 414.8L919.2 414L918.8 413.3L918.6 412.6L918.6 411.8L918.2 411.2L917.9 410.4L917.8 409.7L917.7 408.9L917.5 408.2L917.7 407.3L917.5 406.6L917.1 405.9L916.9 405.2L916.8 404.4L916.9 403.6L916.8 402.9L916.6 402.2L916.2 401.5L916.3 400.7L916.1 399.9L915.8 399.2L915.6 398.5L915.6 397.7L915.8 396.9L915.6 396.2L915.4 395.4L915.2 394.7L915.3 393.9L915.2 393.2L914.9 392.4L914.9 391.7L914.9 390.9L914.9 390.1L914.7 389.4L914.9 388.6L914.9 387.9L914.8 387.1L914.8 386.3L914.6 385.6L914.6 384.8L914.4 384.1L914.6 383.3L914.6 382.5L914.7 381.8L915 381L914.7 380.2L914.9 379.5L914.8 378.7L914.7 378L914.7 377.2L914.8 376.4L915.1 375.7L915.5 375L915.4 374.2L915.5 373.4L915.3 372.6L915.5 371.9L915.5 371.1L915.8 370.4L915.8 369.6L916 368.9L916.2 368.2L916.6 367.5L916.7 366.7L916.8 366L916.7 365.2L916.8 364.4L917.2 363.7L917.1 362.9L917.3 362.2L917.3 361.4L917.7 360.7L918.4 360.1L918.6 359.4L918.8 358.6L918.9 357.9L919.2 357.2L919.4 356.4L919.7 355.7L919.8 355L920.1 354.3L920 353.4L920.2 352.7L920.3 351.9L920.6 351.2L920.9 350.5L921.1 349.8L921.5 349.1L921.6 348.3L922 347.7L922.1 346.9L922.2 346.1L922.4 345.4L923 344.8L923.3 344.1L923.7 343.4L924.2 342.8L924.5 342.1L925 341.5L925.3 340.8L925.7 340.2L925.9 339.4L926.2 338.7L926.9 338.2L927.3 337.6L927.8 336.9L928.1 336.3L928.5 335.6L928.7 334.9L929.1 334.2L929.6 333.6L929.8 332.9L930.1 332.1L930.5 331.5L930.8 330.7L931.2 330.1L931.7 329.5L932.2 329L932.7 328.3L933 327.7L933.5 327L933.8 326.3L934.2 325.6L934.9 325.2L935.5 324.7L936 324.1L936.3 323.4L936.7 322.7L937.1 322.1L937.6 321.5L938.3 321.1L938.7 320.4L939.3 320L939.8 319.3L940.2 318.7L940.8 318.2L941.4 317.7L941.6 316.8L942.3 316.4L942.9 316L943.6 315.6L944.3 315.2L944.6 314.5L945.3 314L945.9 313.5L946.5 313L947.3 312.8L947.6 312.1L948.2 311.5L948.7 311L949.1 310.2L949.7 309.8L950.3 309.2L950.8 308.7L951.3 308.1L952.1 307.9L952.8 307.5L953.6 307.3L954.1 306.7L954.6 306L955.2 305.6L955.6 304.8L956.2 304.3L956.6 303.6L957.4 303.3L957.9 302.7L958.7 302.5L959.3 302.1L960 301.8L960.8 301.5L961.3 300.8L961.8 300.3L962.7 300.2L963.3 299.7L964 299.4L964.7 299L965.3 298.6L966.1 298.4L966.7 298L967.4 297.6L968.2 297.4L968.9 297.1L969.5 296.6L970.2 296.3L970.7 295.5L971.3 294.9L972.1 294.9L972.9 294.7L973.8 294.9L974.5 294.6L975.3 294.5L976 294.2L976.8 294.3L977.5 293.7L978.1 293.3L978.9 293.1L979.5 292.7L980.2 292.1L980.8 291.5L981.6 291.6L982.2 291L983.1 291.2L983.9 291.1L984.6 290.8L985.2 290.1L985.9 289.8L986.6 289.5L987.3 289L988.1 288.9L988.9 288.9L989.6 288.4L990.4 288.4L991.2 288.6L992.1 288.8L992.8 288.4L993.4 287.7L994.2 287.4L994.9 287.3L995.8 292.3A94.2 94.2 0 1 0 1100.9 355.5ZM1000.7 291.6L1000.5 289.7L1001.2 289.6L1001.9 289.3L1002.7 289.1L1003.4 288.7L1004.1 288.6L1004.9 288.2L1005.6 287.9L1006.4 287.7L1007.1 287.4L1007.9 287.3L1008.7 286.8L1009.4 286.8L1010.2 287.1L1011 286.5L1011.8 286.1L1012.5 286.3L1013.3 286.4L1014.1 286.6L1014.8 287.2L1015.6 287.8L1016.3 288.1L1017.1 288.3L1017.8 288.4L1018.6 288.8L1019.3 289.1L1020.1 289.1L1020.8 289.4L1021.5 289.7L1022.3 290.1L1023 290.2L1022.8 291.7A94.2 94.2 0 0 0 1000.7 291.6ZM1027.4 292.3L1032.4 263.1L1034.1 259.2L1036.1 253.9L1037.7 251.2L1038.9 251.1L1039.5 253.4L1040.4 254.2L1040.9 257L1041.3 259.8L1041 265.6L1041.7 266.4L1042.8 266.2L1043.8 266.3L1045 265.7L1046.9 262.8L1048 262.7L1048.6 264.3L1049.3 265.2L1050.1 266.2L1049.4 271.5L1049.7 273.6L1051.1 272.3L1052.7 270.6L1053.8 270.6L1054.7 270.9L1054.3 274.8L1054.5 276.9L1055.1 277.7L1056 278.2L1056.7 278.8L1056.1 282.5L1056.7 283.4L1058 282.7L1058.7 283.2L1059.9 282.9L1061.3 281.9L1062.3 282.1L1062.7 283.4L1063.3 284.2L1063.9 284.9L1055.1 301.7A94.2 94.2 0 0 0 1027.4 292.3ZM1059.7 304.3L1070.4 286.3L1070.5 288L1070.9 289L1071.6 289.7L1072.5 289.9L1072.4 291.7L1072.8 292.6L1073.7 293L1075.4 292L1076.2 292.4L1076.5 293.6L1077.4 293.8L1077.8 294.8L1078.2 295.7L1079.1 296L1079.4 297.1L1079.6 298.2L1080.3 298.7L1080.3 300.2L1080.7 301L1080 303.2L1080.5 303.9L1082.1 303.4L1082.3 304.4L1082.7 305.2L1083 306.2L1083 307.4L1083.9 307.7L1084.3 308.4L1085.3 308.6L1085.2 310L1085.6 310.7L1085.9 311.6L1086.1 312.6L1087.1 312.8L1087.1 313.9L1087.2 314.9L1088.8 314.6L1088.9 315.6L1089.1 316.5L1089.5 317.2L1089.4 318.4L1089.9 319L1089.9 320.1L1090.2 320.9L1090.6 321.7L1091.6 321.9L1092.1 322.5L1093.1 322.8L1093.7 323.3L1093.5 324.5L1093.9 325.2L1093.9 326.2L1094 327.1L1094.7 327.6L1095.3 328.1L1095.5 329L1095.8 329.7L1096.1 330.5L1096.5 331.2L1096.8 331.9L1096.8 332.9L1097.3 333.5L1097.4 334.3L1097.4 335.2L1097.9 335.9L1098.3 336.5L1098.9 337.1L1099.3 337.8L1099.6 338.5L1099.7 339.4L1100.2 340L1100.5 340.7L1100.9 341.4L1101 342.3L1101.7 342.8L1102.1 343.5L1102.5 344.2L1102.6 345L1102.7 345.8L1103.2 346.4L1103 347.4L1103.2 348.1L1103.4 348.9L1103.9 349.6L1099.4 351.3A94.2 94.2 0 0 0 1059.7 304.3ZM1046.3 373.6L1060.6 368.9L1058.1 370.4L1059.8 370.6L1059.7 371.4L1058.1 372.5L1057.2 373.5L1062.9 372.8L1059.3 374.3L1062.2 374.4L1063.7 374.9L1063.1 375.7L1060.2 377L1061.8 377.4L1062 378.1L1062.1 378.8L1061.2 379.6L1062.9 380.2L1061.2 381L1065.7 381.4L1060.7 382.5L1065.8 382.9L1063.3 383.8L1066.9 384.5L1068.3 385.2L1063.7 386L1065.2 386.7L1063.2 387.4L1061.7 388L1060.3 388.6L1060.2 389.3L1066 390.6L1060.7 390.7L1063.1 391.8L1062.5 392.4L1063.1 393.2L1057.9 393.1L1059.3 394L1064.3 395.7L1063.1 396.2L1061.3 396.5L1058.2 396.5L1067.8 399.7L1057.7 397.8L1060.8 399.4L1060.7 400.1L1056.5 399.5L1057.2 400.4L1055 400.4L1059.6 402.8L1057.1 402.6L1055.8 402.8L1056.9 404L1056.5 404.5L1054.7 404.5L1055.9 405.8L1052.5 404.9L1056.2 407.4L1057.9 409.1L1056.7 409.3L1057.6 410.6L1056.2 410.7L1056.8 411.9L1053.5 410.7L1053.1 411.3L1052.8 411.9L1053.6 413.3L1051.7 412.8L1049.5 412.1L1049.3 412.8L1053.8 416.9L1054.4 418.4L1051.7 417.2L1047.8 414.9L1048.8 416.6L1050.7 419.1L1051.1 420.5L1047.1 417.8L1048.8 420.3L1049.5 422L1046.2 419.8L1046.1 420.7L1049.8 425.6L1045.5 422L1044.7 422.2L1045.1 423.7L1045.2 425L1046.8 428L1044.5 426.4L1045.1 428.4L1042.7 426.4L1045.9 432L1044.1 431L1039.9 426.2L1040.2 427.9L1037.9 425.7L1040 430.4L1037.7 428L1039.1 431.6L1037.6 430.7L1037.4 431.8L1037.9 434.3L1035.4 431.2L1034.2 430.4L1035.7 435.1L1037 439.6L1035.2 437.7L1031.7 431.6L1031.3 432.7L1031.7 435.4L1029.6 432.3L1029.6 434.1L1027.5 430.5L1026.4 429.3L1026.6 432.2L1025.7 431.4L1025.9 434.5L1026.3 438.7L1023.6 431.4L1022.7 430.7L1023 434.7L1021.6 431.9L1021.1 432.6L1020.5 432.9L1019.5 431.3L1018.8 431.3L1018.6 434.2L1018.3 437.1L1016.8 431L1016.6 434.5L1015.7 432.8L1015.1 433.6L1014.5 434.4L1013.6 431.2L1013.1 433.7L1012.4 434.7L1011.7 433L1011 434.9L1010.3 435.1L1009.8 431.1L1009.1 431.3L1008.6 429.2L1007.9 430.1L1007.1 432.6L1006.5 431.6L1005.8 431.8L1005.2 431.2L1004.6 430.8L1003.8 431.9L1002.6 434.8L1002.1 433.9L1002 430.7L1001.1 431.9L1000.6 431L999.9 431.1L997.7 436.8L999.3 428.4L998.9 427.6L996.7 432.6L996.5 430.9L996.3 429.4L995.4 429.9L995.7 427.3L994.1 429.6L994.3 427.3L994.2 425.9L992.5 428.3L992.1 427.7L992.2 425.9L990.8 427.2L991.2 425.1L990.5 425L988.8 426.9L988.8 425.6L986.9 427.5L987.8 424.7L987.7 423.6L987.4 422.9L985.6 424.5L984.9 424.4L984.2 424.2L983.4 424.2L983.8 422.5L983.7 421.6L985.3 418.5L984.1 419L983.6 418.7L980.6 421.3L980.8 420L980.2 419.7L980.1 418.8L979.7 418.3L979.9 417.2L977.9 418.3L977.6 417.7L975.8 418.4L976.6 416.8L977.6 415.1L977.8 414L974.2 416.2L977 413.1L973.7 414.9L973.6 414.1L973.6 413.3L973.3 412.7L970.9 413.6L970.6 413L971.1 411.8L970.2 411.5L970.1 410.8L971.2 409.4L966.3 411.5L970.8 408.1L970.9 407.3L968.8 407.7L967.1 407.8L969.4 405.9L967.1 406.3L965.9 406L966.6 404.9L963.1 405.7L961.8 405.4L963.2 404.1L962.7 403.5L966.1 401.5L966.9 400.5L961.1 401.7L963.4 400.2L964.9 399L962.5 399L960.3 398.9L956.5 399L963.4 396.6L960.3 396.6L960.6 395.8L963.3 394.5L963.6 393.8L963.8 393L959.1 393.1L960.1 392.2L958.5 391.6L957.9 391L960.8 389.9L954.6 389.7L961.9 388.4L961.1 387.8L959.5 387.1L953.2 386.5L958.9 385.7L959.9 384.9L962 384.3L955.5 383.4L955.1 382.6L956.6 381.9L953.6 380.9L957.3 380.4L959.2 379.8L961.2 379.3L962.7 378.8L953.8 376.8L962.7 377.4L952.4 374.9L958.4 375.2L951.1 372.9L957.4 373.4L959 373L961.3 372.8L961.5 372.1L962.3 371.5L958.2 369.6L958.9 369L961.6 369.1L961.4 368.2L963.8 368.3L962.6 367.1L961.2 365.8L966.1 366.9L963.2 365L962.7 364L962.6 363.1L966.1 363.9L964.4 362.3L965.7 362.2L967.6 362.3L965.8 360.6L965.8 359.7L962.7 357.1L966.5 358.5L970.8 360.3L968.3 357.9L965.2 355L970.1 357.3L970.3 356.6L970.3 355.7L973 356.9L968.8 352.9L973.2 355.4L972.4 353.8L970.5 351.3L970.4 350.3L971.1 349.9L968.6 346.7L975.4 351.8L973.8 349.4L976 350.5L975.7 349.2L977.4 349.9L980.4 352.2L976.5 346.9L979 348.6L979.3 347.9L978.5 345.9L979.5 346.1L982.3 348.4L983.2 348.5L981.4 345L980.4 342.4L979.3 339.6L984 345.1L984.9 345.2L983.1 341.1L981.8 337.7L983.9 339.7L985.1 340.2L983.6 336.2L987.1 340.9L988.4 341.9L988.3 340.1L988.8 339.6L990.2 340.8L992 343.1L992.9 343.4L992.8 341.7L992.7 339.7L992.9 338.3L994 339.2L995.3 340.6L995.7 340L996.4 339.8L996.9 339.1L996.6 336L997.8 337.3L999.2 339.8L999.7 339.2L1000.7 340.7L1001.4 340.7L1002.1 340.8L1002.5 339.7L1003.1 339.6L1003.7 339.3L1005.4 349A36.7 36.7 0 1 0 1046.3 373.6ZM1007.3 348.7L1006.2 339.3L1006.9 339.4L1007.4 337L1007.9 335.2L1009 340L1009 325.4L1009.7 318.3L1010.8 329.3L1011.6 333.6L1012.3 338.5L1013.1 334.2L1013.5 342.3L1014 344.3L1014.7 343.1L1015.3 344.1L1015.8 344.8L1016.5 343.6L1015.9 348.8A36.7 36.7 0 0 0 1007.3 348.7ZM1017.7 349L1019.2 340.1L1020 339.6L1020.8 338.9L1021.6 338.2L1022.2 338.8L1023.1 337.7L1023.3 339.9L1023.5 341.8L1023.9 342.4L1025.7 338.9L1025.3 342.4L1025.6 343.3L1026 344.1L1026.9 343.5L1027.7 343.2L1029.1 341.4L1032.1 336L1031.1 340.3L1031 342.2L1033.9 337.6L1033.9 339.3L1036.6 335.4L1036.1 338.2L1028.5 352.7A36.7 36.7 0 0 0 1017.7 349ZM1030.3 353.7L1037.3 342L1040.6 337.9L1039.7 340.8L1039.4 342.6L1039.5 343.7L1041.4 342.3L1042.8 341.6L1045.6 339L1045.7 340.3L1043.7 344.1L1044.1 344.9L1046.5 343.1L1049 341.3L1051.1 340.2L1047.6 345.3L1046.9 347.2L1047.8 347.4L1047.6 348.6L1049.3 347.9L1048.5 349.8L1050.3 349.1L1051.9 348.6L1048.7 352.4L1050.7 351.6L1053.6 350.2L1049.5 354.5L1053.4 352.3L1051.4 354.8L1054.8 353.2L1050.9 356.9L1053 356.2L1050.3 359L1055.9 356.1L1055.2 357.4L1051.6 360.5L1053.1 360.4L1057.5 358.7L1051.7 362.7L1058.5 359.8L1056.7 361.6L1058.9 361.3L1063.6 359.8L1056.3 364.1L1056.8 364.7L1055.6 366L1060.5 364.7L1056.2 367.2L1063 365.3L1045.7 372A36.7 36.7 0 0 0 1030.3 353.7Z" fill="#0000ff" stroke="#0000ff" stroke-width="0.4" stroke-linejoin="round"/>
<path d="M975 169.3A219 219 0 0 1 986.3 167.7L987.2 175.6A211 211 0 0 0 976.3 177.2Z" fill="#808080"/>
<path d="M1037.8 167.8A219 219 0 0 1 1048.4 169.3L1047.1 177.2A211 211 0 0 0 1036.8 175.7Z" fill="#808080"/>
<path d="M1113 191.1A219 219 0 0 1 1123.6 197.1L1119.5 204A211 211 0 0 0 1109.3 198.2Z" fill="#808080"/>
<path d="M1215.8 306.4A219 219 0 0 1 1219.3 316.1L1211.7 318.6A211 211 0 0 0 1208.4 309.2Z" fill="#808080"/>
<path d="M1220.3 315.8A220 220 0 1 1 974.8 168.3" fill="none" stroke="#000" stroke-width="2.2"/>
<path d="M1219 320.2L1222.2 322L1223.9 318.6M1222 330.8L1225.1 332.7L1227 329.5M1224.5 341.5L1227.5 343.6L1229.6 340.4M1226.4 352.3L1229.4 354.6L1231.5 351.5M1227.8 363.2L1230.6 365.6L1233 362.7M1228.6 374.2L1231.3 376.8L1233.8 373.9M1228.9 385.2L1231.5 387.9L1234.1 385.2M1228.6 396.2L1231.1 399L1233.8 396.5M1227.8 407.2L1230.1 410.1L1233 407.7M1226.4 418.1L1228.5 421.1L1231.5 418.9M1224.5 428.9L1226.5 432.1L1229.6 430M1222 439.6L1223.8 442.9L1227 440.9M1219 450.2L1220.6 453.5L1223.9 451.8M1215.4 460.6L1216.9 464L1220.3 462.4M1211.3 470.8L1212.6 474.3L1216.1 472.9M1206.7 480.8L1207.9 484.4L1211.4 483.1M1201.6 490.6L1202.6 494.2L1206.2 493.1M1196.1 500.1L1196.8 503.7L1200.5 502.8M1190 509.3L1190.6 513L1194.3 512.2M1183.5 518.1L1183.9 521.9L1187.6 521.3M1176.6 526.7L1176.8 530.4L1180.5 530.1M1169.2 534.8L1169.2 538.6L1173 538.4M1161.4 542.6L1161.3 546.4L1165 546.4M1153.3 550L1152.9 553.7L1156.7 554M1144.7 557L1144.2 560.7L1147.9 561.1M1135.9 563.5L1135.2 567.2L1138.9 567.8M1126.7 569.6L1125.8 573.2L1129.5 574M1117.2 575.2L1116.1 578.7L1119.8 579.7M1107.5 580.3L1106.2 583.8L1109.8 584.9M1097.5 584.9L1096 588.3L1099.5 589.6M1087.3 589L1085.7 592.3L1089.1 593.8M1076.9 592.5L1075.1 595.8L1078.4 597.5M1066.3 595.6L1064.4 598.8L1067.6 600.6M1055.6 598.1L1053.5 601.2L1056.6 603.2M1044.8 600L1042.5 603L1045.6 605.2M1033.8 601.4L1031.4 604.3L1034.4 606.6M1022.9 602.3L1020.3 605L1023.1 607.5M1011.9 602.6L1009.2 605.2L1011.9 607.8M1000.9 602.3L998.1 604.8L1000.6 607.5M989.9 601.5L987 603.8L989.4 606.7M979 600.2L975.9 602.3L978.2 605.3M968.2 598.2L965 600.2L967.1 603.3M957.4 595.8L954.2 597.6L956.1 600.8M946.9 592.8L943.5 594.4L945.3 597.7M936.4 589.2L933 590.7L934.6 594.1M926.2 585.2L922.7 586.5L924.2 590M916.2 580.6L912.6 581.7L913.9 585.3M906.4 575.5L902.8 576.5L903.9 580.1M896.9 570L893.3 570.7L894.2 574.4M887.7 563.9L884.1 564.5L884.8 568.2M878.9 557.4L875.1 557.9L875.7 561.6M870.3 550.5L866.6 550.7L866.9 554.5M862.1 543.2L858.4 543.2L858.6 546.9M854.3 535.4L850.6 535.2L850.6 539M846.9 527.3L843.2 526.9L843 530.7M840 518.7L836.3 518.2L835.8 521.9M833.4 509.9L829.8 509.2L829.2 512.9M827.3 500.7L823.7 499.8L822.9 503.5M821.7 491.3L818.2 490.2L817.2 493.8M816.6 481.5L813.1 480.3L811.9 483.8M812 471.5L808.5 470.1L807.2 473.6M807.9 461.3L804.5 459.7L803 463.2M804.3 450.9L801 449.2L799.3 452.5M801.2 440.4L798 438.4L796.2 441.7M798.7 429.7L795.6 427.6L793.6 430.7M796.7 418.8L793.7 416.6L791.6 419.6M795.3 407.9L792.4 405.5L790.1 408.5M794.4 397L791.7 394.4L789.2 397.2M794.1 386L791.5 383.3L788.9 386M794.3 375L791.9 372.2L789.1 374.7M795.1 364L792.8 361.1L790 363.5M796.5 353.1L794.3 350L791.3 352.3M798.4 342.2L796.4 339.1L793.3 341.2M800.8 331.5L799 328.3L795.8 330.2M803.8 320.9L802.1 317.6L798.9 319.4M807.3 310.5L805.8 307.1L802.5 308.7M811.4 300.3L810.1 296.8L806.6 298.2M815.9 290.2L814.8 286.7L811.3 288M821 280.5L820 276.9L816.4 278M826.5 271L825.7 267.3L822.1 268.2M832.6 261.8L831.9 258.1L828.3 258.8M839 252.9L838.6 249.2L834.9 249.7M845.9 244.3L845.7 240.6L842 240.9M853.3 236.1L853.2 232.4L849.5 232.5M861 228.3L861.2 224.6L857.4 224.5M869.2 220.9L869.5 217.2L865.8 216.9M877.7 213.9L878.2 210.2L874.5 209.8M886.5 207.3L887.2 203.7L883.5 203.1M895.7 201.2L896.6 197.6L892.9 196.8M905.1 195.6L906.2 192L902.6 191.1M914.8 190.5L916.1 187L912.5 185.8M924.8 185.8L926.2 182.4L922.7 181.1M935 181.7L936.6 178.3L933.2 176.8M945.4 178.1L947.2 174.8L943.8 173.1M956 175L957.9 171.8L954.6 170M966.7 172.5L968.8 169.4L965.6 167.4" fill="none" stroke="#666" stroke-width="0.8"/>
<path d="M1124.1 196.2A220 220 0 0 1 1216.7 306" fill="none" stroke="#000" stroke-width="2.2"/>
<path d="M1126.1 200.4L1129.7 199.7L1128.8 196M1135.3 206.5L1138.9 205.9L1138.2 202.2M1144.1 213L1147.9 212.5L1147.3 208.8M1152.7 219.9L1156.4 219.7L1156.1 215.9M1160.9 227.2L1164.6 227.2L1164.4 223.5M1168.7 235L1172.4 235.2L1172.4 231.4M1176.1 243.1L1179.8 243.5L1180 239.7M1183 251.7L1186.7 252.2L1187.2 248.5M1189.6 260.5L1193.2 261.2L1193.8 257.5M1195.7 269.7L1199.3 270.6L1200.1 266.9M1201.3 279.1L1204.8 280.2L1205.8 276.6M1206.4 288.9L1209.9 290.1L1211.1 286.6M1211 298.9L1214.5 300.3L1215.8 296.8" fill="none" stroke="#666" stroke-width="0.8"/>
<path d="M987.4 170A216.5 216.5 0 0 1 1003.2 168.9L1003.5 177.9A207.5 207.5 0 0 0 988.4 179Z" fill="#000"/>
<path d="M1003.2 169.9A215.5 215.5 0 0 1 1008.1 169.7L1008.2 176.7A208.5 208.5 0 0 0 1003.5 176.9Z" fill="#c8c8c8"/>
<path d="M1050.2 172.2A216.5 216.5 0 0 1 1110.5 192.6L1106.3 200.6A207.5 207.5 0 0 0 1048.6 181Z" fill="#000"/>
<path d="M1048.6 172.9A215.5 215.5 0 0 1 1053.4 173.8L1052 180.7A208.5 208.5 0 0 0 1047.3 179.8Z" fill="#c8c8c8"/>
<path d="M1068.4 177.3A215.5 215.5 0 0 1 1076.7 179.8L1074.5 186.5A208.5 208.5 0 0 0 1066.5 184.1Z" fill="#c8c8c8"/>
<path d="M1082.7 181.8A215.5 215.5 0 0 1 1088.7 184L1086.2 190.5A208.5 208.5 0 0 0 1080.4 188.4Z" fill="#c8c8c8"/>
<path d="M990.7 176.7L993.8 173.9L990.2 171.8M996.5 176.2L999.7 173.5L996.2 171.2M1054.3 180.1L1058.1 178.4L1055.4 175.2M1059 181.2L1062.8 179.5L1060.1 176.3M1062.5 182L1066.4 180.4L1063.8 177.2M1075.5 185.7L1079.5 184.4L1077.1 181M1088.3 190.3L1092.3 189.2L1090.1 185.6M1093.4 192.4L1097.4 191.4L1095.3 187.8M1098.4 194.6L1102.4 193.7L1100.5 190" stroke="#fff" stroke-width="0.9" fill="none"/>
<path d="M975.1 163.2L974.3 158.2" stroke="#555" stroke-width="1.2"/><text transform="translate(974 156.2) rotate(260.7)" font-size="14" fill="#8a8a8a" text-anchor="start" dy="0.35em">47032272</text>
<path d="M986.8 161.6L986.3 156.6" stroke="#555" stroke-width="1.2"/><text transform="translate(986 154.6) rotate(263.7)" font-size="14" fill="#8a8a8a" text-anchor="start" dy="0.35em">6690</text>
<path d="M1040.3 162L1040.9 157.1" stroke="#555" stroke-width="1.2"/><text transform="translate(1041.2 155.1) rotate(-82.7)" font-size="14" fill="#8a8a8a" text-anchor="start" dy="0.35em">7905</text>
<path d="M1052.1 163.9L1053 159" stroke="#555" stroke-width="1.2"/><text transform="translate(1053.4 157) rotate(-79.6)" font-size="14" fill="#8a8a8a" text-anchor="start" dy="0.35em">6</text>
<path d="M1115 185.4L1117.3 181" stroke="#555" stroke-width="1.2"/><text transform="translate(1118.3 179.2) rotate(-62.6)" font-size="14" fill="#8a8a8a" text-anchor="start" dy="0.35em">1599</text>
<path d="M1127.4 192.3L1130 188.1" stroke="#555" stroke-width="1.2"/><text transform="translate(1131 186.3) rotate(-59)" font-size="14" fill="#8a8a8a" text-anchor="start" dy="0.35em">47031779</text>
<path d="M1221.6 304.6L1226.2 302.8" stroke="#555" stroke-width="1.2"/><text transform="translate(1228.1 302.1) rotate(-21)" font-size="14" fill="#8a8a8a" text-anchor="start" dy="0.35em">47028374</text>
<path d="M1225.2 314.9L1230 313.4" stroke="#555" stroke-width="1.2"/><text transform="translate(1231.9 312.7) rotate(-18.2)" font-size="14" fill="#8a8a8a" text-anchor="start" dy="0.35em">47057324</text>
<text transform="translate(991.6 107.9) rotate(265.9)" font-size="19" fill="#000" text-anchor="start" dy="0.35em" font-style="italic">L1</text>
<text transform="translate(1084.4 116.9) rotate(-74.8)" font-size="19" fill="#000" text-anchor="start" dy="0.35em" font-style="italic">E6</text>
<text transform="translate(1096.9 120.7) rotate(-72.1)" font-size="19" fill="#000" text-anchor="start" dy="0.35em" font-style="italic">E7</text>
<text transform="translate(1114.3 126.9) rotate(-68.3)" font-size="19" fill="#000" text-anchor="start" dy="0.35em" font-style="italic">E1</text>
<text transform="translate(867.7 620.8) rotate(301.4)" font-size="21" fill="#000" text-anchor="end" dy="0.35em" font-style="italic" textLength="56" lengthAdjust="spacingAndGlyphs">EYA2</text>
<path d="M916.2 164.1L966.1 187L973.3 166.3L986.2 201.6L952.1 216.1L962.1 198.2L921.8 180.3L906.1 218.4L925.2 226.2L891 239.7L877 204.9L896.1 215Z" fill="#fff" stroke="#000" stroke-width="4.5" stroke-linejoin="miter"/>
<path d="M1149.6 174.7L1168.1 228.5L1187.7 216.7L1174.2 248.6L1139.5 235.7L1157.4 229L1143.4 191L1104.2 206.6L1112.1 225.1L1079.6 210.5L1092.5 177L1098.6 196Z" fill="none" stroke="#0b8d8d" stroke-width="3.8" stroke-linejoin="miter"/>
<text x="839" y="299" font-size="72" fill="#000" textLength="76" lengthAdjust="spacingAndGlyphs" font-weight="bold">S1</text>
<text x="1133" y="298.5" font-size="72" fill="#009093" textLength="84.5" lengthAdjust="spacingAndGlyphs" font-weight="bold">S2</text>
<path d="M978.4 767.7L989.9 773.8" stroke="#b0e0e6" stroke-width="2.6"/>
<path d="M1001.5 779.9L1012.7 786" stroke="#ff0000" stroke-width="2.6"/>
<text transform="translate(991 758.5) rotate(-57.5)" font-size="18.9" fill="#000" textLength="47" lengthAdjust="spacing" >chr20</text>
<text transform="translate(1014.2 772.2) rotate(-58.4)" font-size="18.6" fill="#000" textLength="93" lengthAdjust="spacing" >hpv16ref_1</text>
<rect x="1341.7" y="516.2" width="31.7" height="11.4" fill="#b0e0e6"/>
<rect x="1341.7" y="532.5" width="31.7" height="78.8" fill="#e5e5e5"/>
<path d="M1341.7 541.9h31.7M1341.7 556.8h31.7M1341.7 571.5h31.7M1341.7 586.1h31.7M1341.7 601h31.7" stroke="#fff" stroke-width="1.1"/>
<path d="M1341.2 531.7h32.7" stroke="#000" stroke-width="1.5"/>
<rect x="1285.2" y="536.2" width="26.8" height="71.8" fill="#000"/>
<text transform="translate(1302 572.1) rotate(-90)" font-size="11" fill="#fff" textLength="62.5" lengthAdjust="spacingAndGlyphs" text-anchor="middle" >Primary data</text>
<text transform="translate(1283.5 572.1) rotate(-90)" font-size="11.7" fill="#000" textLength="33.3" lengthAdjust="spacingAndGlyphs" text-anchor="middle" >K27ac</text>
<text x="1337.3" y="544.6" font-size="7.6" fill="#000" text-anchor="end">30.0</text>
<text x="1337.3" y="559.5" font-size="7.6" fill="#000" text-anchor="end">22.5</text>
<text x="1337.3" y="574.2" font-size="7.6" fill="#000" text-anchor="end">15.0</text>
<text x="1337.3" y="588.8" font-size="7.6" fill="#000" text-anchor="end">7.5</text>
<text x="1337.3" y="603.7" font-size="7.6" fill="#000" text-anchor="end">0.0</text>
<path d="M1341.7 622.8h31.7M1341.7 637.6h31.7M1341.7 652.3h31.7M1341.7 667h31.7M1341.7 681.9h31.7" stroke="#c8c8c8" stroke-width="1.1"/>
<path d="M1341.2 612.4h32.7" stroke="#000" stroke-width="1.5"/>
<rect x="1285.2" y="616.9" width="26.8" height="72" fill="#000"/>
<text transform="translate(1302 652.9) rotate(-90)" font-size="11" fill="#fff" textLength="62.5" lengthAdjust="spacingAndGlyphs" text-anchor="middle" >Primary data</text>
<text transform="translate(1283.5 652.9) rotate(-90)" font-size="11.7" fill="#000" textLength="33.3" lengthAdjust="spacingAndGlyphs" text-anchor="middle" >K4me3</text>
<text x="1337.3" y="625.5" font-size="7.6" fill="#000" text-anchor="end">15.0</text>
<text x="1337.3" y="640.3" font-size="7.6" fill="#000" text-anchor="end">11.25</text>
<text x="1337.3" y="655" font-size="7.6" fill="#000" text-anchor="end">7.5</text>
<text x="1337.3" y="669.7" font-size="7.6" fill="#000" text-anchor="end">3.75</text>
<text x="1337.3" y="684.6" font-size="7.6" fill="#000" text-anchor="end">0.0</text>
<rect x="1341.7" y="694.4" width="31.7" height="80.1" fill="#e5e5e5"/>
<path d="M1341.7 703.5h31.7M1341.7 718.4h31.7M1341.7 733.4h31.7M1341.7 748.2h31.7M1341.7 763.1h31.7" stroke="#fff" stroke-width="1.1"/>
<path d="M1341.2 693.6h32.7" stroke="#000" stroke-width="1.5"/>
<rect x="1285.2" y="698.1" width="26.8" height="71.8" fill="#000"/>
<text transform="translate(1302 734) rotate(-90)" font-size="11" fill="#fff" textLength="57.5" lengthAdjust="spacingAndGlyphs" text-anchor="middle" >Primary data</text>
<text transform="translate(1283.5 734) rotate(-90)" font-size="11.7" fill="#000" textLength="33.3" lengthAdjust="spacingAndGlyphs" text-anchor="middle" >K4me1</text>
<text x="1337.3" y="706.2" font-size="7.6" fill="#000" text-anchor="end">7.0</text>
<text x="1337.3" y="721.1" font-size="7.6" fill="#000" text-anchor="end">5.25</text>
<text x="1337.3" y="736.1" font-size="7.6" fill="#000" text-anchor="end">3.5</text>
<text x="1337.3" y="750.9" font-size="7.6" fill="#000" text-anchor="end">1.75</text>
<text x="1337.3" y="765.8" font-size="7.6" fill="#000" text-anchor="end">0.0</text>
<circle cx="1008.1" cy="1282.2" r="174.1" fill="none" stroke="#e5e5e5" stroke-width="61.1"/>
<path d="M1065.5 1422.9A152 152 0 0 1 911.4 1164.9M1069.4 1432.5A162.3 162.3 0 0 1 904.9 1157M1073.3 1442A172.6 172.6 0 0 1 898.3 1149M1077.2 1451.5A182.9 182.9 0 0 1 891.8 1141.1M1081.1 1461.1A193.2 193.2 0 0 1 885.2 1133.1M918.1 1159.7A152 152 0 0 1 1001.2 1130.4M912 1151.4A162.3 162.3 0 0 1 1000.7 1120.1M905.9 1143.1A172.6 172.6 0 0 1 1000.3 1109.8M899.8 1134.8A182.9 182.9 0 0 1 999.8 1099.5M893.7 1126.5A193.2 193.2 0 0 1 999.3 1089.2M1008.6 1130.2A152 152 0 0 1 1122.8 1182.5M1008.7 1119.9A162.3 162.3 0 0 1 1130.6 1175.7M1008.7 1109.6A172.6 172.6 0 0 1 1138.4 1169M1008.7 1099.3A182.9 182.9 0 0 1 1146.1 1162.2M1008.8 1089A193.2 193.2 0 0 1 1153.9 1155.4M1128 1188.8A152 152 0 0 1 1074.3 1419M1136.2 1182.5A162.3 162.3 0 0 1 1078.7 1428.3M1144.3 1176.2A172.6 172.6 0 0 1 1083.2 1437.6M1152.4 1169.8A182.9 182.9 0 0 1 1087.7 1446.9M1160.6 1163.5A193.2 193.2 0 0 1 1092.2 1456.1" fill="none" stroke="#fff" stroke-width="1.8"/>
<path d="M1043.8 1369.7A94.5 94.5 0 0 1 948 1209.3M1048 1379.9A105.5 105.5 0 0 1 941 1200.8M1052.1 1390.1A116.5 116.5 0 0 1 934 1192.3M1056.3 1400.2A127.5 127.5 0 0 1 927 1183.8M1060.4 1410.4A138.5 138.5 0 0 1 920 1175.3M952.2 1206A94.5 94.5 0 0 1 1003.8 1187.8M945.6 1197.2A105.5 105.5 0 0 1 1003.3 1176.8M939.1 1188.3A116.5 116.5 0 0 1 1002.8 1165.8M932.6 1179.4A127.5 127.5 0 0 1 1002.3 1154.8M926.1 1170.6A138.5 138.5 0 0 1 1001.8 1143.8M1008.4 1187.7A94.5 94.5 0 0 1 1079.4 1220.2M1008.5 1176.7A105.5 105.5 0 0 1 1087.7 1213M1008.5 1165.7A116.5 116.5 0 0 1 1096 1205.8M1008.5 1154.7A127.5 127.5 0 0 1 1104.3 1198.6M1008.6 1143.7A138.5 138.5 0 0 1 1112.6 1191.3M1082.7 1224.2A94.5 94.5 0 0 1 1049.2 1367.3M1091.3 1217.4A105.5 105.5 0 0 1 1054 1377.2M1100 1210.6A116.5 116.5 0 0 1 1058.8 1387.1M1108.7 1203.9A127.5 127.5 0 0 1 1063.6 1397M1117.4 1197.1A138.5 138.5 0 0 1 1068.4 1406.9" fill="none" stroke="#cdcdcd" stroke-width="1.6"/>
<circle cx="1008.1" cy="1282.2" r="59.3" fill="none" stroke="#e5e5e5" stroke-width="59"/>
<path d="M1022.1 1316.5A37 37 0 0 1 984.6 1253.6M1026.2 1326.6A48 48 0 0 1 977.6 1245.2M1030.4 1336.8A59 59 0 0 1 970.6 1236.7M1034.5 1347A70 70 0 0 1 963.6 1228.2M1038.7 1357.2A81 81 0 0 1 956.6 1219.7M986.2 1252.4A37 37 0 0 1 1006.4 1245.2M979.7 1243.5A48 48 0 0 1 1005.9 1234.2M973.2 1234.7A59 59 0 0 1 1005.4 1223.3M966.7 1225.8A70 70 0 0 1 1004.9 1212.3M960.1 1216.9A81 81 0 0 1 1004.4 1201.3M1008.2 1245.2A37 37 0 0 1 1036 1257.9M1008.3 1234.2A48 48 0 0 1 1044.3 1250.7M1008.3 1223.2A59 59 0 0 1 1052.6 1243.5M1008.3 1212.2A70 70 0 0 1 1060.9 1236.3M1008.4 1201.2A81 81 0 0 1 1069.2 1229.1M1037.3 1259.5A37 37 0 0 1 1024.2 1315.5M1046 1252.7A48 48 0 0 1 1029 1325.4M1054.7 1246A59 59 0 0 1 1033.8 1335.3M1063.3 1239.2A70 70 0 0 1 1038.6 1345.2M1072 1232.4A81 81 0 0 1 1043.4 1355.1" fill="none" stroke="#fff" stroke-width="1.8"/>
<path d="M1091.8 1487.4A221.6 221.6 0 0 1 867.1 1111.2L877.1 1123.2A206 206 0 0 0 1085.9 1472.9Z" fill="#ffe4c4"/>
<path d="M876.9 1103.6A221.6 221.6 0 0 1 998 1060.8L998.8 1076.4A206 206 0 0 0 886.1 1116.2Z" fill="#ff0000"/>
<path d="M1008.9 1060.6A221.6 221.6 0 0 1 1175.3 1136.8L1163.6 1147.1A206 206 0 0 0 1008.8 1076.2Z" fill="#ff0000"/>
<path d="M1183 1146.1A221.6 221.6 0 0 1 1104.5 1481.7L1097.8 1467.7A206 206 0 0 0 1170.7 1155.7Z" fill="#ffe4c4"/>
<path d="M1065.4 1422.7L1066.7 1425.8L1065.6 1426.2L1064.4 1426.6L1063.3 1427.1L1062.2 1427.6L1061 1427.9L1059.8 1428.3L1058.6 1428.6L1057.5 1428.9L1056.4 1429.5L1055.2 1429.9L1054.1 1430.3L1052.9 1430.7L1051.7 1431.1L1050.5 1431.3L1049.3 1431.5L1048.2 1431.9L1047 1432.4L1045.8 1432.5L1044.6 1432.7L1043.4 1433L1042.3 1433.5L1041.1 1433.8L1039.9 1434.1L1038.7 1434.4L1037.5 1434.5L1036.3 1434.7L1035.1 1435.1L1033.9 1435.3L1032.7 1435.3L1031.5 1435.7L1030.3 1435.9L1029.1 1436.1L1027.9 1436.5L1026.7 1436.5L1025.5 1436.5L1024.2 1436.3L1023 1436.5L1021.8 1436.8L1020.6 1436.9L1019.4 1437L1018.2 1437.2L1017 1437.3L1015.7 1437.4L1014.5 1437.4L1013.3 1437.4L1012.1 1437.6L1010.9 1437.5L1009.6 1437.5L1008.4 1437.4L1007.2 1437.4L1006 1437.4L1004.7 1437.5L1003.5 1437.5L1002.3 1437.4L1001.1 1437.1L999.9 1437.2L998.7 1437.1L997.4 1437L996.2 1437.1L995 1437L993.8 1436.8L992.6 1436.8L991.3 1436.6L990.1 1436.4L988.9 1436.5L987.7 1436.4L986.4 1436.5L985.2 1436.1L984 1435.9L982.8 1435.7L981.6 1435.6L980.4 1435.3L979.2 1435.2L978 1434.9L976.8 1434.5L975.6 1434.3L974.4 1434L973.3 1433.7L972.1 1433.3L970.9 1433.1L969.7 1432.9L968.5 1432.7L967.2 1432.5L966.1 1432L965 1431.6L963.7 1431.5L962.5 1431.1L961.4 1430.7L960.3 1430.2L959.1 1429.9L957.9 1429.5L956.8 1429.1L955.6 1428.8L954.5 1428.2L953.3 1427.9L952.2 1427.3L951 1426.9L949.9 1426.4L948.7 1426.3L947.6 1425.6L946.4 1425.4L945.3 1424.8L944.2 1424.2L943.1 1423.8L941.9 1423.4L940.8 1422.8L939.8 1422.2L938.8 1421.4L937.6 1421L936.4 1420.6L935.4 1419.9L934.2 1419.5L933 1419.3L932 1418.5L930.8 1418.1L929.7 1417.6L928.6 1416.9L927.5 1416.4L926.5 1415.7L925.4 1415.2L924.2 1414.8L923.2 1414.1L922.2 1413.3L921.3 1412.4L920 1412.1L918.8 1411.7L917.9 1410.9L916.8 1410.2L915.8 1409.5L914.7 1409L913.9 1408L912.7 1407.4L912 1406.3L910.9 1405.8L909.9 1405L908.7 1404.5L907.7 1403.8L906.8 1403L905.9 1402.1L905.1 1401.2L903.8 1400.7L902.7 1400.1L901.9 1399.1L901.1 1398.1L900.1 1397.5L899 1396.7L898.1 1395.9L897.1 1395.1L896 1394.5L895.1 1393.7L894 1392.9L893.1 1392.1L892.1 1391.3L891.3 1390.4L890.2 1389.7L889.3 1388.8L888.4 1387.9L887.5 1387L886.6 1386.1L885.7 1385.2L884.6 1384.5L883.3 1384L882.6 1382.8L881.6 1382.1L880.4 1381.4L879.6 1380.4L878.3 1379.8L877.3 1378.9L876.3 1378L876.3 1376.5L876 1375.1L875.3 1374.1L874.1 1373.4L873.8 1372.1L873.9 1370.5L872.9 1369.6L872.4 1368.4L871.7 1367.3L871.3 1366.1L870.4 1365.2L869.7 1364.1L869.5 1362.8L868.9 1361.6L868.3 1360.6L867.9 1359.4L866.9 1358.5L866.4 1357.3L865.3 1356.4L864.7 1355.3L863.7 1354.4L862.8 1353.4L862.7 1352.1L862 1351L860.9 1350.1L860.3 1349L859 1348.2L857.9 1347.2L857.7 1345.9L856.9 1344.9L856 1343.8L855.7 1342.6L854.3 1341.7L853.4 1340.7L852.9 1339.5L852.7 1338.2L852.4 1336.9L852 1335.7L850.9 1334.7L850.6 1333.4L848.8 1332.6L846.4 1332L846.1 1330.6L845.3 1329.5L843.4 1328.7L842.1 1327.6L841.2 1326.5L838.7 1325.7L836.1 1324.9L832.9 1324.3L831.4 1323.2L829.5 1322.1L827.4 1321.1L824.8 1320.1L823 1319L824.1 1317.3L826 1315.4L824.5 1314.2L825.7 1312.5L826.1 1311L827.6 1309.3L828.9 1307.7L829.5 1306.2L831.7 1304.5L832.3 1303L832.8 1301.5L833.5 1300L835.2 1298.5L835.9 1297.1L834.1 1295.8L833.4 1294.5L832.8 1293.2L832 1291.8L832 1290.4L831.3 1289.1L829.4 1287.8L828.7 1286.4L828.4 1285L825.7 1283.6L823.3 1282.1L824.4 1280.7L826.6 1279.3L826.4 1277.8L827.2 1276.4L830.3 1275.1L832.5 1273.8L834.8 1272.6L837.4 1271.4L837 1270L835.9 1268.6L837.8 1267.4L837.5 1266L837.8 1264.7L837.9 1263.3L837.7 1261.9L837.6 1260.6L838.2 1259.3L838.9 1258L838.7 1256.6L837.9 1255.1L839.3 1254L840.1 1252.8L840.4 1251.5L841.1 1250.2L841.5 1248.9L840.9 1247.5L840.9 1246.1L841.4 1244.8L841.7 1243.5L842.4 1242.3L842.1 1240.8L842.7 1239.6L843.6 1238.5L844 1237.2L844.1 1235.8L843.2 1234.1L843.7 1232.9L844.3 1231.7L843.2 1229.9L843.9 1228.7L843.7 1227.2L844 1225.9L844.3 1224.5L845.7 1223.6L845.9 1222.2L846.7 1221L847.8 1220L847.7 1218.5L848.2 1217.2L848.4 1215.9L848 1214.2L850.1 1213.7L850.1 1212.1L851.5 1211.3L852.7 1210.4L852.6 1208.8L853 1207.5L854.7 1206.8L854.5 1205.3L854.4 1203.7L853.6 1201.7L853.4 1200L854.3 1199L856.3 1198.5L857.1 1197.4L857.5 1196L857.8 1194.7L858.1 1193.2L859.1 1192.2L859.9 1191.1L861.3 1190.4L862.4 1189.5L863 1188.2L863.6 1187L865.6 1186.7L866.9 1186L868 1185.1L868.7 1183.9L869.8 1183.1L869.7 1181.4L871.1 1180.7L872.9 1180.4L874.6 1180.1L876.5 1179.8L878.1 1179.4L879.6 1178.9L879.7 1177.4L879.2 1175.2L879 1173.4L879.6 1172.1L879.5 1170.2L880.8 1169.6L881.6 1168.5L882.2 1167.3L883 1166.2L882.9 1164.3L884 1163.4L885.2 1162.7L886.4 1162L887.2 1160.9L889.3 1161.1L890.5 1160.5L892.1 1160.2L893.2 1159.4L894.9 1159.3L895.7 1158.2L896 1156.6L897.1 1155.8L897.4 1154.2L898.6 1153.6L899.5 1152.6L900.9 1152.1L911.6 1165.1A151.7 151.7 0 0 0 1065.4 1422.7ZM918.3 1159.9L906.7 1144.2L907.7 1143.2L908.8 1142.4L909.6 1141.1L911 1140.8L911.4 1139L912.7 1138.4L914.2 1138.3L915.5 1137.7L916.6 1137L918.2 1136.9L919.6 1136.5L919.9 1134.5L920.9 1133.4L921.7 1132.1L922.1 1130L923.3 1129.3L925 1129.5L926 1128.5L927.5 1128.4L928.3 1126.9L929.4 1125.9L930.3 1124.6L931.9 1124.8L933.8 1125.4L934.7 1124.2L935.6 1122.8L936.8 1122.1L938.2 1121.7L939.5 1121.3L940.8 1120.8L941.8 1119.6L943.5 1120L944.7 1119.3L945.6 1117.9L946.9 1117.2L948.2 1116.9L949.6 1116.5L950.7 1115.3L951.7 1114.1L953.4 1114.8L954.1 1112.2L955.4 1111.6L956.8 1111.3L958.4 1111.9L959.9 1111.9L961 1110.5L962.2 1109.5L963.9 1110.7L965.4 1110.7L966.6 1109.9L968.1 1109.9L968.9 1107.1L970 1105.6L971.5 1105.6L973.2 1106.6L974.4 1105.4L975.8 1105L977.1 1104.5L978.6 1104.8L979.8 1102.9L981 1101.6L982.1 1099L983.4 1097.2L984.8 1096.9L986.2 1095.7L987.7 1095.4L989 1093.9L990.5 1094L991.8 1091.7L993.5 1094L994.9 1092.5L996.6 1094.6L998.2 1096.6L999.9 1101.9L1001.2 1130.7A151.7 151.7 0 0 0 918.3 1159.9ZM1008.6 1130.5L1008.6 1128.2L1009.9 1126.4L1011.1 1124.7L1012.4 1122.9L1013.7 1121.3L1015.1 1119L1016.5 1116.9L1017.9 1115.3L1019.4 1112.7L1020.9 1110.1L1022.6 1106.1L1024.2 1104.4L1026 1100.5L1027.7 1098L1029 1099.6L1030.4 1100L1032 1099.1L1033 1102.3L1034.1 1104.8L1035.3 1106.2L1036.2 1109.2L1037.3 1111L1038.4 1113L1039.7 1113.4L1040.5 1116.3L1041.6 1117.5L1042.6 1119L1043.8 1119.6L1045.1 1120L1046.3 1120.5L1047.5 1121.3L1048.7 1121.7L1049.8 1123L1051 1123.3L1052.1 1124.1L1053.1 1125.3L1054.3 1125.9L1055.5 1126.4L1056.6 1127.1L1057.6 1128.3L1058.7 1128.9L1060.1 1128.8L1061.4 1128.9L1062.4 1130.1L1063.4 1130.9L1064.5 1131.7L1065.4 1132.8L1066.4 1133.8L1067.5 1134.3L1068.8 1134.5L1070 1134.9L1071.2 1135.3L1072.4 1135.6L1073.3 1136.7L1074.3 1137.5L1075.2 1138.6L1076.3 1139.3L1077.4 1139.9L1078.5 1140.4L1079.4 1141.4L1080.4 1142.1L1081.5 1142.8L1082.5 1143.5L1083.4 1144.4L1084.6 1144.9L1085.6 1145.6L1086.6 1146.3L1087.6 1147.1L1088.6 1147.8L1089.6 1148.6L1090.6 1149.3L1091.7 1149.8L1092.7 1150.6L1093.7 1151.3L1094.7 1152L1095.6 1153L1096.4 1153.9L1097.5 1154.5L1098.4 1155.3L1099.4 1156.1L1100.3 1156.9L1101.2 1157.8L1102.3 1158.4L1103.4 1158.9L1104.4 1159.7L1105.1 1160.7L1106 1161.6L1106.9 1162.4L1107.7 1163.3L1108.6 1164.2L1109.6 1164.9L1110.6 1165.6L1111.3 1166.6L1112.2 1167.4L1113 1168.4L1113.8 1169.4L1114.7 1170.1L1115.5 1171.1L1116.4 1171.9L1117.3 1172.7L1118.2 1173.6L1119 1174.5L1119.9 1175.3L1120.7 1176.2L1121.5 1177.2L1122.4 1178L1123.2 1179L1123.9 1179.9L1124.6 1180.9L1122.6 1182.7A151.7 151.7 0 0 0 1008.6 1130.5ZM1127.8 1189L1130 1187.3L1130.9 1188.2L1131.6 1189.2L1132.3 1190.1L1133.1 1191L1133.9 1192L1134.5 1193.1L1135.3 1194L1135.7 1195.2L1136.5 1196.1L1137.1 1197.2L1137.7 1198.2L1138.4 1199.3L1139 1200.3L1139.7 1201.3L1140.3 1202.4L1141.1 1203.3L1141.7 1204.4L1142.2 1205.5L1142.9 1206.5L1143.4 1207.6L1144 1208.7L1144.6 1209.7L1145.2 1210.8L1145.8 1211.9L1146.4 1212.9L1147.1 1214L1147.6 1215L1148.1 1216.2L1148.5 1217.3L1149 1218.5L1149.6 1219.5L1150 1220.7L1150.5 1221.8L1151 1222.9L1151.5 1224L1152.1 1225.1L1152.5 1226.2L1152.8 1227.4L1153.3 1228.5L1153.7 1229.7L1154 1230.9L1154.5 1232L1154.9 1233.2L1155.3 1234.3L1155.7 1235.5L1156.1 1236.6L1156.5 1237.8L1156.8 1239L1157.1 1240.2L1157.3 1241.3L1157.6 1242.5L1158 1243.7L1158.4 1244.9L1158.5 1246.1L1158.8 1247.3L1158.9 1248.5L1159.3 1249.6L1159.7 1250.8L1159.8 1252L1160 1253.2L1160.3 1254.4L1160.4 1255.6L1160.7 1256.8L1161 1258L1161 1259.2L1161.2 1260.5L1161.3 1261.7L1161.6 1262.9L1161.6 1264.1L1161.7 1265.3L1161.9 1266.5L1162.1 1267.7L1162.1 1268.9L1162.3 1270.1L1162.3 1271.4L1162.5 1272.6L1162.4 1273.8L1162.5 1275L1162.7 1276.2L1162.8 1277.4L1163 1278.7L1162.8 1279.9L1163.1 1281.1L1163 1282.3L1163.2 1283.6L1163.1 1284.8L1162.9 1286L1162.8 1287.2L1162.7 1288.4L1162.7 1289.6L1162.5 1290.9L1162.5 1292.1L1162.4 1293.3L1162.2 1294.5L1162.1 1295.7L1161.9 1296.9L1161.8 1298.1L1161.5 1299.3L1161.5 1300.6L1161.3 1301.8L1161 1303L1160.8 1304.2L1160.7 1305.4L1160.6 1306.6L1160.4 1307.8L1160.2 1309L1160 1310.2L1159.8 1311.4L1159.6 1312.6L1159.4 1313.8L1159.2 1315L1158.9 1316.2L1158.7 1317.4L1158.5 1318.6L1158 1319.7L1157.7 1320.9L1157.5 1322.1L1157.1 1323.3L1156.7 1324.4L1156.5 1325.6L1156.2 1326.8L1155.8 1328L1155.4 1329.1L1155 1330.3L1154.6 1331.4L1154.3 1332.6L1153.7 1333.7L1153.2 1334.8L1152.7 1335.9L1152.3 1337.1L1152 1338.2L1151.5 1339.4L1151.2 1340.5L1150.7 1341.7L1150.2 1342.8L1149.8 1343.9L1149.3 1345L1148.7 1346.1L1148.2 1347.2L1147.8 1348.4L1147.3 1349.5L1146.7 1350.6L1146.2 1351.7L1145.6 1352.7L1145.1 1353.8L1144.4 1354.8L1143.7 1355.9L1143.2 1357L1142.6 1358L1142 1359.1L1141.4 1360.2L1140.8 1361.2L1140 1362.2L1139.4 1363.2L1138.8 1364.3L1138.1 1365.3L1137.5 1366.3L1136.8 1367.3L1136.2 1368.4L1135.5 1369.4L1134.8 1370.4L1134 1371.3L1133.4 1372.3L1132.7 1373.4L1132 1374.3L1131.3 1375.3L1130.5 1376.2L1129.8 1377.2L1129 1378.2L1128.3 1379.2L1127.6 1380.2L1126.7 1381L1125.8 1381.9L1125.1 1382.8L1124.4 1383.9L1123.6 1384.8L1122.8 1385.7L1122 1386.6L1121.2 1387.5L1120.4 1388.4L1119.4 1389.2L1118.6 1390.1L1117.9 1391.1L1116.9 1391.9L1116 1392.7L1115.2 1393.6L1114.3 1394.4L1113.4 1395.3L1112.5 1396.1L1111.7 1397L1110.8 1397.9L1109.9 1398.7L1109.1 1399.5L1108.1 1400.3L1107.2 1401.1L1106.2 1401.8L1105.2 1402.5L1104.3 1403.3L1103.4 1404.1L1102.4 1404.8L1101.4 1405.5L1100.4 1406.2L1099.5 1407.1L1098.5 1407.8L1097.3 1408.3L1096.4 1409.1L1095.4 1409.8L1094.4 1410.4L1093.3 1411L1092.3 1411.7L1091.3 1412.4L1090.2 1413L1089.1 1413.5L1088.2 1414.3L1087.2 1415.1L1086.1 1415.6L1085.1 1416.3L1084 1416.9L1082.9 1417.4L1081.8 1418L1080.8 1418.6L1079.8 1419.2L1078.7 1419.8L1077.5 1420.2L1076.4 1420.6L1075.3 1421.2L1074.1 1418.8A151.7 151.7 0 0 0 1127.8 1189ZM1043.7 1369.4L1044.6 1371.6L1043.9 1371.9L1043.2 1372.3L1042.5 1372.7L1041.7 1372.7L1041 1372.9L1040.3 1373.2L1039.6 1373.6L1038.9 1373.7L1038.2 1374L1037.5 1374.3L1036.7 1374.5L1036 1374.6L1035.3 1375L1034.5 1375.1L1033.8 1375.3L1033.1 1375.6L1032.4 1375.8L1031.6 1375.8L1030.9 1376L1030.1 1376.1L1029.4 1376.3L1028.6 1376.5L1027.9 1376.8L1027.2 1377.1L1026.4 1377.1L1025.7 1377.1L1024.9 1377.3L1024.2 1377.7L1023.5 1377.9L1022.7 1377.8L1021.9 1377.9L1021.2 1378L1020.4 1378.1L1019.7 1378.3L1018.9 1378.4L1018.2 1378.5L1017.5 1378.9L1016.7 1378.8L1015.9 1378.7L1015.1 1378.8L1014.4 1378.8L1013.6 1378.9L1012.9 1378.8L1012.1 1378.8L1011.3 1378.8L1010.6 1378.7L1009.8 1378.8L1009.1 1379L1008.3 1378.9L1007.5 1378.9L1006.8 1379L1006 1379L1005.2 1379L1004.5 1379.1L1003.7 1379.2L1003 1379.1L1002.2 1379L1001.5 1378.7L1000.7 1378.8L999.9 1378.8L999.1 1378.8L998.4 1378.5L997.6 1378.5L996.9 1378.5L996.1 1378.4L995.4 1378.1L994.6 1378L993.9 1377.8L993.1 1377.9L992.3 1378L991.6 1377.8L990.9 1377.5L990.1 1377.4L989.3 1377.4L988.6 1377.3L987.8 1377.4L987.1 1377L986.3 1377L985.6 1376.8L984.8 1376.7L984 1376.7L983.3 1376.5L982.4 1376.6L981.7 1376.3L981 1376.1L980.3 1375.6L979.6 1375.5L978.9 1375.1L978.1 1375.1L977.4 1374.8L976.6 1374.7L975.9 1374.5L975.1 1374.2L974.4 1373.8L973.7 1373.6L972.8 1373.7L972.1 1373.4L971.4 1373.3L970.6 1373.2L969.8 1373.1L969.1 1372.7L968.5 1372.1L967.9 1371.5L967.1 1371.5L966.4 1371.1L965.6 1371L964.8 1370.9L964 1370.7L963.2 1370.7L962.4 1370.4L961.9 1369.8L961.3 1369.3L960.6 1368.8L960.1 1368.1L959.3 1368L958.6 1367.7L957.8 1367.5L957.2 1367L956.5 1366.6L955.9 1366.1L955.2 1365.8L954.6 1365.3L953.8 1365.1L952.9 1365L952.2 1364.7L951.6 1364.1L950.9 1363.7L950.3 1363.2L949.6 1362.9L948.7 1362.8L948.1 1362.2L947.7 1361.6L947.2 1360.9L946.2 1360.9L945.5 1360.4L944.8 1360.1L944.3 1359.4L943.7 1358.9L943.3 1358.3L942.3 1358.2L941.7 1357.6L940.7 1357.6L940.2 1357L939.3 1356.7L938.8 1356.1L938.3 1355.4L937.5 1355.1L936.9 1354.6L936.4 1354L935.6 1353.7L934.8 1353.4L934.4 1352.6L933.3 1352.6L932.7 1352L932.7 1350.9L931.6 1350.8L931 1350.3L930.7 1349.5L930.3 1348.8L929.3 1348.5L928.3 1348.3L928.2 1347.3L927.6 1346.8L927.3 1346L926.1 1345.9L926 1344.9L925.7 1344.2L924.8 1343.8L923.7 1343.6L923 1343.1L922.2 1342.6L921.8 1341.9L921.4 1341.2L920.7 1340.7L920.3 1340L919.6 1339.4L919.4 1338.5L918.5 1338.1L917.7 1337.7L916.8 1337.2L916.3 1336.5L916.5 1335.5L915.8 1334.9L915.4 1334.2L914.6 1333.7L913.7 1333.2L913.1 1332.5L911.8 1332.3L910.6 1331.9L910.4 1331.1L910 1330.3L911 1328.9L909.8 1328.5L909.3 1327.8L907.4 1327.7L905.1 1327.8L905.6 1326.6L905.4 1325.7L905.5 1324.7L905.5 1323.8L903.6 1323.6L903.2 1322.8L902.9 1322L902.1 1321.3L900.2 1321L898.8 1320.6L900.3 1319.1L898.9 1318.6L898.5 1317.8L896.6 1317.5L896.1 1316.7L894.9 1316L895 1315.1L892.9 1314.7L893.7 1313.5L891.4 1313.2L891.5 1312.1L891 1311.3L888.1 1311L888.8 1309.8L888.3 1309L887.6 1308.1L886.4 1307.4L883.1 1307.1L877.6 1307.1L877.6 1306L874.7 1305.5L877.6 1303.9L877.1 1302.9L878.4 1301.7L882 1300.1L881.6 1299.2L884.5 1297.8L884.3 1296.8L884.4 1295.8L887.9 1294.5L890.4 1293.3L894.5 1292L894.5 1291.1L891.9 1290.4L892.4 1289.4L887.8 1288.8L886.4 1287.9L887.2 1286.9L884.6 1286L883.2 1285.1L881.8 1284.1L881.1 1283.1L881.9 1282.2L883.4 1281.2L884.4 1280.2L885.5 1279.3L888.5 1278.4L887 1277.4L886.2 1276.4L887.3 1275.5L889 1274.7L890.8 1273.8L889.1 1272.8L889.8 1271.9L888.3 1270.8L888.1 1269.8L888.4 1268.9L889.7 1268.1L891.3 1267.4L893.8 1266.8L893.3 1265.8L894.3 1265L894.1 1264.1L894 1263.1L896 1262.6L893.8 1261.2L894.4 1260.4L894.4 1259.5L896.4 1259L896 1258L896.3 1257.1L897.1 1256.4L897.2 1255.5L896.6 1254.4L895.6 1253.2L897.8 1252.9L897.5 1251.8L895.2 1250.3L894.9 1249.2L895.9 1248.5L898.4 1248.3L898.3 1247.4L899.1 1246.7L900.4 1246.2L898.7 1244.6L899.3 1243.9L900.1 1243.2L899.8 1242.1L901.7 1241.9L902.8 1241.4L903.3 1240.6L903 1239.5L903.1 1238.6L905.3 1238.6L905.7 1237.7L905.6 1236.8L907.5 1236.7L907.8 1235.8L907.7 1234.8L907.7 1233.9L909.4 1233.7L910.4 1233.3L910.3 1232.2L910.9 1231.6L911.1 1230.7L910.5 1229.4L909.6 1227.9L908.9 1226.5L910.6 1226.4L912.1 1226.3L913 1225.8L912.5 1224.5L914.4 1224.6L916.5 1224.9L916.9 1224.1L917.1 1223.3L917.7 1222.7L918 1221.8L917.4 1220.4L917.5 1219.4L918.5 1219.1L920.4 1219.3L920.3 1218.2L920.8 1217.6L920.4 1216.2L920.6 1215.3L921.5 1214.9L923.3 1215.2L923.5 1214.2L923.6 1213.2L924.9 1213.1L924.4 1211.6L925.3 1211.3L926.7 1211.4L928.2 1211.5L927.2 1209.5L928.2 1209.3L928 1207.9L929.4 1208L928.8 1206.3L928.3 1204.6L929.9 1204.9L931.2 1205.1L931.1 1203.8L931.9 1203.3L932.4 1202.6L933.7 1202.7L934 1201.8L935.1 1201.7L934.9 1200.1L936.2 1200.4L937.1 1200L936.7 1198.3L937.5 1197.9L938.6 1197.9L948.2 1209.5A94.2 94.2 0 0 0 1043.7 1369.4ZM952.3 1206.3L941 1190.9L941.9 1190.5L942.7 1190.1L942.8 1188.7L943.3 1187.8L944.2 1187.6L945.4 1187.7L944.9 1185.4L945.6 1184.7L946.6 1184.5L947.6 1184.4L948.4 1183.9L949.2 1183.5L949.9 1182.8L950.6 1182.4L951.5 1182.1L952.2 1181.4L953.3 1181.5L954.2 1181.3L954.8 1180.4L955.6 1180.1L956.8 1180.4L957.2 1179.1L957.8 1178.4L959.1 1178.8L959.8 1178.2L960.5 1177.5L961.5 1177.6L962.1 1176.6L964 1178.7L964.7 1178.2L965.9 1178.6L966.9 1178.9L967.1 1176.9L966.8 1173.6L968.3 1174.8L969.1 1174.5L969.6 1173.2L971.2 1174.9L971.8 1173.8L972.2 1172.3L973.8 1174.4L974.2 1172.6L974.8 1171.2L975.6 1170.8L976.1 1169.2L977.2 1169.7L978.1 1169.5L978.9 1168.7L979.8 1168.4L980.5 1167.6L981.7 1168.4L982.7 1168.9L983.8 1169.6L984.5 1168.5L985.2 1166.9L985.7 1164.6L986.4 1163.1L987.8 1165.6L988.7 1165.2L989.3 1162.9L990.5 1164.8L991.3 1163.7L992.5 1165.3L993.4 1164.7L994.2 1163.6L994.9 1161.8L995.9 1162L997 1162.9L998.1 1165.2L999.1 1166.3L999.9 1163.7L1000.8 1163.1L1001.8 1164.5L1002.8 1165.2L1003.8 1188.1A94.2 94.2 0 0 0 952.3 1206.3ZM1008.4 1188L1008.4 1184.6L1009.2 1184.2L1010 1184.2L1010.8 1184.1L1011.5 1184.1L1012.3 1184.1L1013.1 1184.4L1013.9 1184.3L1014.6 1184.5L1015.4 1184.7L1016.2 1184.5L1016.9 1184.8L1017.7 1185.1L1018.4 1185.2L1019.2 1185.3L1019.9 1185.5L1020.7 1185.4L1021.5 1185.4L1022.3 1185.4L1023.1 1185.4L1023.8 1185.7L1024.6 1185.8L1025.3 1186L1026 1186.3L1026.7 1186.7L1027.5 1186.8L1028.2 1187.1L1029 1187.1L1029.8 1187.2L1030.5 1187.6L1031.2 1187.9L1031.9 1188L1032.7 1188.3L1033.4 1188.4L1034.2 1188.6L1034.9 1188.8L1035.6 1189L1036.4 1189.3L1037.1 1189.6L1037.8 1189.9L1038.5 1190.2L1039.2 1190.5L1039.9 1190.7L1040.7 1190.8L1041.4 1191.1L1042.1 1191.5L1042.8 1191.8L1043.5 1192.1L1044.1 1192.6L1044.8 1193L1045.5 1193.1L1046.2 1193.4L1047 1193.5L1047.7 1193.9L1048.4 1194.2L1049.1 1194.6L1049.7 1195L1050.4 1195.4L1051.1 1195.6L1051.8 1196L1052.4 1196.4L1053.1 1196.7L1053.7 1197.2L1054.4 1197.6L1055 1198L1055.7 1198.3L1056.3 1198.8L1057 1199.1L1057.6 1199.6L1058.1 1200.2L1058.8 1200.5L1059.4 1200.9L1060.1 1201.3L1060.8 1201.6L1061.5 1201.9L1062.1 1202.5L1062.7 1202.9L1063.4 1203.2L1064 1203.6L1064.6 1204.1L1065.3 1204.5L1065.9 1204.9L1066.5 1205.4L1067 1205.9L1067.7 1206.4L1068.2 1206.9L1068.8 1207.4L1069.4 1207.9L1070 1208.4L1070.5 1208.9L1071.1 1209.4L1071.7 1209.8L1072.2 1210.5L1072.7 1211L1073.3 1211.4L1074 1211.9L1074.5 1212.4L1074.9 1213.1L1075.5 1213.5L1076.1 1214.1L1076.6 1214.6L1077.1 1215.2L1077.6 1215.7L1078.2 1216.2L1078.7 1216.8L1079.2 1217.3L1079.6 1218L1080.1 1218.6L1080.7 1219.1L1079.2 1220.4A94.2 94.2 0 0 0 1008.4 1188ZM1082.4 1224.3L1084 1223.1L1084.5 1223.7L1085 1224.3L1085.5 1224.8L1085.9 1225.5L1086.3 1226.2L1086.8 1226.7L1087.1 1227.4L1087.5 1228.1L1088 1228.6L1088.4 1229.3L1088.7 1230L1089.2 1230.6L1089.5 1231.3L1089.9 1231.9L1090.3 1232.5L1090.7 1233.2L1091 1233.9L1091.4 1234.6L1091.8 1235.2L1092.2 1235.8L1092.6 1236.5L1093 1237.1L1093.4 1237.8L1093.7 1238.5L1094.1 1239.1L1094.3 1239.9L1094.7 1240.5L1095.1 1241.2L1095.3 1241.9L1095.5 1242.6L1095.9 1243.3L1096.3 1244L1096.5 1244.7L1096.8 1245.4L1097.2 1246L1097.6 1246.7L1097.8 1247.4L1098.1 1248.1L1098.3 1248.9L1098.5 1249.6L1098.8 1250.3L1099.1 1251L1099.3 1251.7L1099.5 1252.5L1099.7 1253.2L1100 1253.9L1100.3 1254.6L1100.5 1255.3L1100.7 1256.1L1101 1256.8L1101.1 1257.5L1101.5 1258.2L1101.6 1259L1101.7 1259.7L1101.9 1260.5L1102 1261.2L1102.2 1262L1102.3 1262.7L1102.4 1263.4L1102.6 1264.2L1102.8 1264.9L1102.9 1265.7L1103 1266.4L1103.2 1267.2L1103.5 1267.9L1103.6 1268.6L1103.4 1269.4L1103.6 1270.2L1103.7 1270.9L1103.8 1271.7L1103.7 1272.4L1103.7 1273.2L1103.9 1274L1104 1274.7L1104.2 1275.5L1104.1 1276.2L1104.2 1277L1104.2 1277.7L1104.2 1278.5L1104.5 1279.2L1104.4 1280L1104.5 1280.8L1104.5 1281.5L1104.3 1282.3L1104.3 1283L1104.4 1283.8L1104.3 1284.6L1104.3 1285.3L1104.3 1286.1L1104.3 1286.8L1104.3 1287.6L1104.2 1288.4L1104.1 1289.1L1104 1289.9L1104 1290.6L1104 1291.4L1103.9 1292.1L1103.8 1292.9L1103.8 1293.6L1103.6 1294.4L1103.3 1295.1L1103.2 1295.9L1103 1296.6L1103 1297.4L1103.1 1298.2L1103 1298.9L1103 1299.7L1102.8 1300.4L1102.6 1301.2L1102.4 1301.9L1102.1 1302.6L1102 1303.4L1101.9 1304.1L1101.7 1304.8L1101.7 1305.6L1101.4 1306.3L1101.2 1307.1L1100.9 1307.8L1100.7 1308.5L1100.4 1309.2L1100.1 1309.9L1099.9 1310.6L1099.7 1311.4L1099.5 1312.1L1099.2 1312.8L1099 1313.6L1098.6 1314.2L1098.5 1315L1098.3 1315.7L1097.8 1316.3L1097.6 1317L1097.3 1317.7L1097.2 1318.5L1097 1319.3L1096.6 1319.9L1096.3 1320.6L1095.9 1321.3L1095.5 1321.9L1095.2 1322.6L1095 1323.4L1094.8 1324.1L1094.4 1324.8L1094.1 1325.5L1093.7 1326.1L1093.4 1326.8L1092.9 1327.4L1092.6 1328.1L1092.1 1328.7L1091.8 1329.4L1091.6 1330.1L1091.2 1330.8L1090.9 1331.5L1090.5 1332.2L1090 1332.8L1089.6 1333.4L1089.2 1334L1088.9 1334.7L1088.5 1335.4L1088 1336L1087.6 1336.6L1087.2 1337.2L1086.7 1337.8L1086.4 1338.6L1085.9 1339.1L1085.4 1339.7L1085 1340.3L1084.5 1340.9L1084.1 1341.6L1083.6 1342.2L1083.1 1342.7L1082.6 1343.3L1082.1 1343.9L1081.6 1344.4L1081 1345L1080.5 1345.5L1080 1346.1L1079.4 1346.6L1078.9 1347.1L1078.5 1347.8L1078 1348.4L1077.5 1348.9L1077 1349.5L1076.5 1350.1L1075.9 1350.5L1075.4 1351.1L1074.7 1351.5L1074.2 1352L1073.7 1352.6L1073.1 1353.1L1072.5 1353.6L1072 1354.1L1071.4 1354.7L1070.8 1355.1L1070.3 1355.6L1069.7 1356.1L1069.2 1356.7L1068.5 1357.1L1067.9 1357.5L1067.3 1358L1066.7 1358.5L1066.1 1358.9L1065.4 1359.3L1064.8 1359.8L1064.3 1360.2L1063.6 1360.7L1063.1 1361.2L1062.4 1361.6L1061.8 1362L1061.2 1362.5L1060.5 1362.9L1059.9 1363.2L1059.2 1363.5L1058.6 1364L1057.9 1364.3L1057.3 1364.8L1056.6 1365.1L1055.9 1365.4L1055.2 1365.8L1054.6 1366.2L1053.9 1366.5L1053.3 1366.9L1052.6 1367.3L1051.9 1367.6L1051.3 1368L1050.6 1368.5L1049.9 1368.7L1049.1 1367A94.2 94.2 0 0 0 1082.4 1224.3ZM1022 1316.2L1029.8 1335.4L1028.8 1335.1L1030.9 1342.9L1030.1 1343.3L1031.2 1349.2L1027.5 1341.3L1024.8 1335.4L1024.9 1338.5L1026.1 1345.8L1023.9 1341.2L1022.5 1339.4L1024.8 1352.4L1021.9 1344.2L1021.6 1347.1L1019.2 1339.5L1018.4 1339.6L1018.4 1344.8L1017.7 1346.2L1017.3 1349.9L1015.2 1340L1015.8 1353.2L1014.1 1346.1L1013.1 1345.4L1012.4 1347.1L1011.6 1349.2L1010.9 1357.2L1009.8 1355.6L1008.7 1346.5L1007.8 1349.3L1006.8 1352.5L1006.1 1345.6L1005.3 1342.6L1004.4 1343.8L1003.4 1345.3L1002.5 1345.9L1001.5 1346.4L1001.6 1338.2L999.7 1346.4L999.3 1342.7L998.4 1343L998.3 1338.8L996.8 1342.3L994 1351.6L995.3 1341.3L994 1343.1L992.8 1344.2L991 1347.5L989.2 1350.6L987.7 1352.2L989.2 1343.7L988.4 1343.3L987.7 1342.5L988.9 1336.5L985.8 1342.5L984.6 1343.2L983 1344.8L986.1 1334.8L986.6 1331.6L982.9 1338.1L981.2 1339.6L982.3 1335.4L980.5 1337L979.1 1338L980.8 1332.9L975.9 1340.1L981.6 1328.4L974.3 1339.2L973.8 1338.2L978.7 1328.8L975.1 1332.8L977.9 1327.1L975.3 1329.5L975.3 1328.2L974.2 1328.3L971 1331.3L971 1329.9L967.6 1332.8L971.1 1327L971.2 1325.6L965.2 1331.4L969.6 1325L967.4 1326.3L963.8 1328.8L972.2 1318.9L969.6 1320.5L962.6 1326.2L962.1 1325.5L958.5 1327.6L954.9 1329.6L962.5 1321.6L962.6 1320.5L962.3 1319.7L961.9 1318.9L958.2 1320.7L959.8 1318.4L958.9 1318L960.1 1316.1L954.2 1319.2L962.1 1312.9L962.9 1311.4L961.4 1311.4L958.7 1312.2L955.3 1313.2L949.6 1315.5L957.8 1309.9L955.1 1310.4L954.7 1309.7L959.3 1306.5L958.1 1306.2L958.6 1305.1L958.7 1304.2L955.4 1304.8L958 1302.9L948.1 1306L955.7 1302.1L958.4 1300.3L956.1 1300.4L960 1298.2L959.9 1297.5L952.3 1299.1L953.7 1297.8L960.3 1295.2L951.5 1296.8L954.5 1295.2L955 1294.3L950 1294.6L956.1 1292.5L957.3 1291.5L957.7 1290.7L950.5 1291.1L951.8 1290.1L952.1 1289.3L949.7 1288.8L945.2 1288.4L951.5 1287L950.1 1286.3L948.3 1285.5L949.1 1284.7L948.8 1283.9L950.5 1283L955.4 1282.2L959.8 1281.5L954.3 1280.7L949.6 1279.7L956.5 1279.3L949.3 1278.1L954.8 1277.7L955.8 1277.1L952.3 1275.9L954.4 1275.4L958.1 1275.2L954.3 1273.8L953.4 1272.9L955.2 1272.5L956.7 1272L953.3 1270.5L958.4 1270.9L960.3 1270.6L956.2 1268.8L955.2 1267.8L955.1 1267L957.7 1266.9L952.7 1264.6L957.9 1265.5L959.2 1265.1L955.7 1263.1L961.4 1264.4L958.8 1262.6L957.5 1261.3L958.4 1260.8L961.4 1261.4L964.2 1261.9L962 1260L959.2 1257.9L962.5 1258.7L962.4 1257.9L956.8 1253.9L961.4 1255.6L956.4 1251.8L964.7 1255.9L965.2 1255.3L960.4 1251.4L965.3 1253.7L965.3 1252.8L968.8 1254.4L968.9 1253.6L966.8 1251.2L966.9 1250.4L966.9 1249.4L967.1 1248.6L965.3 1246.2L965.8 1245.6L968 1246.5L966.9 1244.5L967.7 1244.2L972.1 1247.4L973.8 1248L972.5 1245.7L971.8 1244L973 1244.2L973.3 1243.5L975.9 1245.3L975.1 1243.3L977.5 1245L984.8 1253.9A36.7 36.7 0 0 0 1022 1316.2ZM986.4 1252.6L981.3 1245.6L981.7 1245.2L982.4 1245.1L980.5 1241.2L979.9 1238.9L983.3 1243L984.9 1244.3L984.9 1243.1L983.2 1238.8L986.9 1244.1L986.6 1242.1L986.1 1239.9L987.7 1241.5L988.7 1242.3L988.3 1239.8L989 1239.8L990.8 1242.3L991.4 1242.2L992.2 1242.6L992.5 1241.7L992.6 1240.3L994 1242.2L994.5 1241.8L994.3 1239.4L995.4 1240.6L995.6 1239.2L996.4 1239.9L997 1239.9L998 1241.2L998.5 1240.9L998.4 1237.6L999.6 1240L1000.3 1240.7L1000.5 1238.2L1001.2 1238.8L1001.3 1235L1002.5 1239.2L1002.9 1237.6L1003.5 1237.3L1004.3 1238.3L1004.9 1238.3L1005.4 1237.5L1006 1236.5L1006.4 1245.5A36.7 36.7 0 0 0 986.4 1252.6ZM1008.2 1245.5L1008.3 1223.8L1009.1 1224.3L1010 1222.9L1011.7 1204.7L1011.8 1220.5L1013.7 1207.5L1014.7 1207.6L1016.3 1203L1017.7 1200.1L1018.4 1204.2L1019.8 1202.3L1019.2 1213.3L1020.4 1212.3L1022.6 1205.9L1023.7 1206L1022.7 1215.8L1023.9 1215L1024.3 1217.4L1024 1222L1029.7 1205.3L1028.1 1214.4L1027.2 1220.8L1025.5 1229L1028.8 1221.7L1026.8 1229.9L1030.9 1221.4L1032.6 1219.4L1031.5 1224.6L1031 1228.2L1032.2 1227.6L1034.8 1223.9L1032.9 1230L1034.8 1228L1034.8 1229.9L1033.4 1234.4L1034.9 1233.3L1038.5 1228.4L1037.4 1232L1035.3 1237.1L1037.4 1235.2L1039.6 1233.2L1038.7 1236L1039.3 1236.5L1043.3 1232.3L1039.7 1238.7L1040.6 1238.7L1042.1 1238.1L1042.4 1238.9L1041.7 1241L1041.2 1242.8L1045.9 1238.5L1045.1 1240.6L1045.6 1241.3L1047.3 1240.6L1046.3 1242.8L1048.3 1241.9L1046.3 1245L1046.1 1246.2L1051.2 1242.5L1049.8 1244.9L1048.9 1246.7L1035.8 1258.1A36.7 36.7 0 0 0 1008.2 1245.5ZM1037.1 1259.7L1050.2 1249.4L1050.1 1250.4L1048.9 1252.2L1052.9 1250.3L1058.3 1247.4L1051.6 1253L1054.2 1252.2L1054.8 1252.7L1060.2 1250.3L1056.3 1253.6L1054.9 1255.3L1051.9 1257.9L1057.3 1255.8L1061.8 1254.3L1059.5 1256.4L1058.8 1257.6L1059.6 1258.2L1064.4 1256.9L1059.5 1259.9L1063.9 1259L1067.3 1258.5L1057.8 1263.1L1062 1262.4L1062.6 1263L1061.9 1264.1L1061.7 1265L1062.6 1265.6L1061.5 1266.7L1063.9 1266.8L1064.4 1267.5L1067.3 1267.7L1066.6 1268.7L1069.9 1268.9L1061.4 1271.5L1065 1271.6L1064.9 1272.4L1069.1 1272.6L1075.9 1272.5L1074.1 1273.7L1065.1 1275.7L1065.7 1276.4L1068 1277L1064.3 1278.1L1063 1279L1061.3 1279.9L1062 1280.6L1066.4 1281.3L1062.6 1282.1L1069.3 1282.9L1063.6 1283.6L1064.7 1284.5L1060.5 1285L1069.9 1286.4L1059.7 1286.5L1059.6 1287.2L1061.9 1288.2L1060.4 1288.7L1066.1 1290.3L1067.4 1291.3L1066 1291.9L1066.6 1292.9L1061.8 1292.8L1067.4 1294.7L1060.1 1294L1060.3 1294.8L1055.5 1294.3L1059.4 1296.1L1056.2 1296L1059.5 1297.7L1056.4 1297.5L1057 1298.4L1056.9 1299.2L1060.1 1301.1L1060.7 1302.2L1054.4 1300.5L1053.7 1301L1053.6 1301.7L1058.1 1304.5L1055.7 1304.2L1053 1303.7L1058.7 1307.3L1053.8 1305.7L1053.9 1306.6L1055.5 1308.3L1050.7 1306.4L1051 1307.4L1053.7 1309.9L1049.7 1308.3L1050.1 1309.3L1049.3 1309.7L1048.3 1309.8L1049.3 1311.4L1045.8 1309.7L1047.8 1312L1043.6 1309.6L1044.8 1311.4L1043 1310.8L1044.5 1312.9L1044.6 1313.8L1046.5 1316.4L1046.9 1317.7L1047.6 1319.5L1045.4 1318.4L1043.4 1317.4L1043.5 1318.5L1045.4 1321.5L1042.6 1319.6L1041.9 1319.9L1042.2 1321.3L1040.9 1320.9L1042 1323.3L1039.5 1321.4L1041.8 1325.6L1039.1 1323.3L1037.9 1322.8L1036.6 1322.3L1040.5 1329.1L1037.9 1326.7L1036.7 1326.1L1037.9 1329.5L1033.7 1324.1L1034.4 1326.7L1033.1 1325.9L1030.4 1322.4L1032.5 1327.7L1030.7 1325.9L1030.3 1326.5L1030.4 1328.3L1024.1 1315.2A36.7 36.7 0 0 0 1037.1 1259.7Z" fill="#0000ff" stroke="#0000ff" stroke-width="0.4" stroke-linejoin="round"/>
<path d="M870.4 1115.1A216.5 216.5 0 0 1 879.9 1107.7L884.7 1114.2A208.5 208.5 0 0 0 875.5 1121.3Z" fill="#808080"/>
<path d="M998.3 1065.9A216.5 216.5 0 0 1 1008.9 1065.7L1008.8 1073.7A208.5 208.5 0 0 0 998.6 1073.9Z" fill="#808080"/>
<path d="M1171.5 1140.2A216.5 216.5 0 0 1 1178.9 1149.2L1172.6 1154.1A208.5 208.5 0 0 0 1165.5 1145.4Z" fill="#808080"/>
<path d="M1102.3 1477.1A216.5 216.5 0 0 1 1089.9 1482.7L1086.9 1475.2A208.5 208.5 0 0 0 1098.8 1469.9Z" fill="#808080"/>
<path d="M1090.2 1483.4A217.3 217.3 0 0 1 792.4 1308.7" fill="none" stroke="#000" stroke-width="2.2"/>
<path d="M1085.7 1482.4L1084.2 1485.7L1087.6 1487.2M1075.5 1486L1073.8 1489.3L1077.1 1491M1065.1 1489.2L1063.2 1492.4L1066.5 1494.2M1054.6 1491.8L1052.5 1494.9L1055.7 1496.9M1043.9 1493.9L1041.7 1496.9L1044.8 1499M1033.1 1495.4L1030.8 1498.3L1033.8 1500.6M1022.3 1496.4L1019.9 1499.2L1022.7 1501.6M1011.5 1496.9L1008.9 1499.5L1011.6 1502.1M1000.6 1496.8L997.9 1499.3L1000.4 1502M989.8 1496.1L986.9 1498.5L989.3 1501.3M979 1494.9L976 1497.1L978.3 1500.1M968.2 1493.2L965.1 1495.2L967.3 1498.3M957.6 1490.9L954.4 1492.8L956.4 1495.9M947.1 1488.1L943.8 1489.8L945.6 1493M936.8 1484.7L933.4 1486.3L935.1 1489.6M926.6 1480.8L923.2 1482.2L924.7 1485.7M916.7 1476.5L913.2 1477.7L914.5 1481.2M907 1471.6L903.4 1472.6L904.5 1476.2M897.5 1466.2L893.9 1467.1L894.8 1470.7M888.4 1460.4L884.7 1461.1L885.5 1464.7M879.5 1454.1L875.8 1454.6L876.4 1458.3M871 1447.4L867.3 1447.7L867.6 1451.4M862.8 1440.2L859.1 1440.3L859.3 1444.1M855 1432.7L851.3 1432.6L851.3 1436.3M847.5 1424.7L843.9 1424.5L843.7 1428.2M840.5 1416.4L836.9 1416L836.5 1419.7M834 1407.8L830.3 1407.1L829.7 1410.8M827.8 1398.8L824.2 1398L823.5 1401.6M822.2 1389.5L818.6 1388.5L817.7 1392.1M817 1380L813.5 1378.8L812.3 1382.4M812.3 1370.2L808.8 1368.8L807.5 1372.3M808.1 1360.2L804.7 1358.7L803.2 1362.1M804.4 1350L801.1 1348.3L799.4 1351.6M801.2 1339.6L798 1337.7L796.2 1341M798.6 1329L795.5 1327L793.5 1330.2M796.5 1318.4L793.5 1316.2L791.3 1319.3" fill="none" stroke="#666" stroke-width="0.8"/>
<path d="M807.2 1342.1A209.6 209.6 0 0 1 874.8 1120.5" fill="none" stroke="#000" stroke-width="2.2"/>
<path d="M808.7 1337.9L805.5 1336.1L803.7 1339.3M806.2 1327.7L803.1 1325.8L801.1 1328.9M804.1 1317.4L801.1 1315.3L799 1318.3M802.6 1307.1L799.7 1304.8L797.4 1307.7M801.6 1296.6L798.8 1294.3L796.4 1297M801.1 1286.2L798.5 1283.7L795.9 1286.3M801.2 1275.7L798.7 1273.1L796 1275.5M801.8 1265.2L799.4 1262.5L796.6 1264.8M802.9 1254.8L800.7 1251.9L797.8 1254.1M804.6 1244.5L802.5 1241.5L799.5 1243.5M806.7 1234.2L804.8 1231.1L801.7 1233M809.4 1224.1L807.7 1220.9L804.4 1222.6M812.6 1214.1L811 1210.9L807.7 1212.4M816.3 1204.3L814.9 1201L811.5 1202.4M820.5 1194.7L819.2 1191.3L815.8 1192.5M825.2 1185.3L824.1 1181.9L820.6 1182.9M830.3 1176.2L829.4 1172.7L825.8 1173.5M835.9 1167.3L835.2 1163.8L831.6 1164.5M841.9 1158.8L841.4 1155.2L837.7 1155.7M848.4 1150.5L848 1146.9L844.4 1147.2M855.2 1142.6L855.1 1139L851.4 1139.1M862.5 1135.1L862.5 1131.4L858.8 1131.4M870.1 1127.9L870.3 1124.3L866.7 1124" fill="none" stroke="#666" stroke-width="0.8"/>
<path d="M1173.3 1153.6A209.3 209.3 0 0 1 1215.4 1311.3" fill="none" stroke="#000" stroke-width="2.2"/>
<path d="M1173.7 1158.5L1177.3 1159L1177.9 1155.4M1180.4 1168L1183.9 1168.7L1184.7 1165.1M1186.5 1177.8L1190 1178.7L1191 1175.1M1192 1187.9L1195.5 1189L1196.7 1185.5M1197 1198.3L1200.4 1199.6L1201.8 1196.2M1201.4 1209L1204.7 1210.4L1206.3 1207.1M1205.2 1219.9L1208.4 1221.5L1210.1 1218.3M1208.4 1231L1211.5 1232.8L1213.4 1229.7M1210.9 1242.2L1213.9 1244.2L1216 1241.2M1212.8 1253.6L1215.7 1255.8L1218 1252.9M1214.1 1265.1L1216.9 1267.4L1219.3 1264.7M1214.7 1276.6L1217.4 1279.1L1219.9 1276.5M1214.7 1288.2L1217.2 1290.8L1219.9 1288.3M1214.1 1299.7L1216.4 1302.4L1219.2 1300.1" fill="none" stroke="#666" stroke-width="0.8"/>
<path d="M789.1 1312.2A221 221 0 0 1 788.1 1303L795.5 1302.3A213.5 213.5 0 0 0 796.6 1311.2Z" fill="#000"/>
<path d="M788.7 1303.7A220.5 220.5 0 0 1 788.2 1299.1L795.2 1298.6A213.5 213.5 0 0 0 795.6 1303Z" fill="#bbb"/>
<path d="M805.3 1347.3A213 213 0 0 1 803.8 1342.3L810 1340.5A206.5 206.5 0 0 0 811.5 1345.3Z" fill="#bbb"/>
<path d="M804.5 1342.9A212.5 212.5 0 0 1 803.2 1338.6L808.5 1337.2A207 207 0 0 0 809.7 1341.3Z" fill="#222"/>
<path d="M1218.8 1309.9A212.5 212.5 0 0 1 1217.7 1317.3L1211.3 1316.2A206 206 0 0 0 1212.3 1309.1Z" fill="#aaa"/>
<rect x="1205.7" y="1214" width="3" height="7" fill="#000" transform="rotate(72 1207.2 1217.5)"/>
<path d="M877.8 1102.9A221.6 221.6 0 0 1 996.5 1060.9L996.9 1069A213.5 213.5 0 0 0 882.6 1109.5Z" fill="#000"/>
<path d="M1037.4 1062.5A221.6 221.6 0 0 1 1174.8 1136.2L1168.7 1141.6A213.5 213.5 0 0 0 1036.3 1070.6Z" fill="#000"/>
<path d="M886.3 1098.2A220.6 220.6 0 0 1 892.8 1094.1L896 1099.3A214.5 214.5 0 0 0 889.7 1103.3Z" fill="#c4c4c4"/>
<path d="M904.5 1087.4A220.6 220.6 0 0 1 910.4 1084.4L913.1 1089.9A214.5 214.5 0 0 0 907.4 1092.8Z" fill="#c4c4c4"/>
<path d="M966 1065.7A220.6 220.6 0 0 1 973.6 1064.3L974.5 1070.3A214.5 214.5 0 0 0 967.2 1071.6Z" fill="#c4c4c4"/>
<path d="M977.4 1063.7A220.6 220.6 0 0 1 985 1062.8L985.7 1068.9A214.5 214.5 0 0 0 978.2 1069.8Z" fill="#c4c4c4"/>
<path d="M988.9 1062.4A220.6 220.6 0 0 1 995.8 1061.9L996.1 1068A214.5 214.5 0 0 0 989.4 1068.5Z" fill="#c4c4c4"/>
<path d="M1037.3 1063.5A220.6 220.6 0 0 1 1042.6 1064.3L1041.7 1070.3A214.5 214.5 0 0 0 1036.5 1069.6Z" fill="#c4c4c4"/>
<path d="M1096.1 1079.9A220.6 220.6 0 0 1 1104.8 1083.9L1102.1 1089.4A214.5 214.5 0 0 0 1093.6 1085.5Z" fill="#c4c4c4"/>
<path d="M1151.4 1114.5A220.6 220.6 0 0 1 1157.1 1119.6L1153 1124.1A214.5 214.5 0 0 0 1147.4 1119.1Z" fill="#c4c4c4"/>
<path d="M1160 1122.2A220.6 220.6 0 0 1 1164.6 1126.8L1160.3 1131.1A214.5 214.5 0 0 0 1155.8 1126.6Z" fill="#c4c4c4"/>
<path d="M1166.8 1129A220.6 220.6 0 0 1 1170.2 1132.6L1165.7 1136.7A214.5 214.5 0 0 0 1162.4 1133.2Z" fill="#c4c4c4"/>
<path d="M918.9 1086.4L915 1085.6L917 1082.2M925.4 1083.5L921.5 1082.7L923.6 1079.3M932 1080.9L928.2 1079.9L930.4 1076.6M938.7 1078.5L935 1077.4L937.3 1074.1M945.5 1076.3L941.8 1075.1L944.2 1071.9M952.4 1074.3L948.7 1073L951.2 1069.9M959.3 1072.6L955.7 1071.1L958.3 1068.1M966.3 1071.1L962.7 1069.5L965.4 1066.6M1049.2 1071L1046.4 1068.1L1050 1066.4M1056.1 1072.4L1053.5 1069.5L1057.2 1067.9M1063.1 1074.1L1060.5 1071.1L1064.2 1069.7M1069.9 1076.1L1067.5 1073L1071.3 1071.7M1076.7 1078.2L1074.4 1075.1L1078.2 1073.9M1083.5 1080.6L1081.2 1077.4L1085.1 1076.3M1090.1 1083.2L1088 1079.9L1091.9 1079M1109.1 1092.2L1107.3 1088.7L1111.3 1088.1M1115.4 1095.6L1113.7 1092.1L1117.7 1091.7M1121.5 1099.3L1120 1095.7L1123.9 1095.4M1127.5 1103.2L1126.1 1099.5L1130.1 1099.3M1133.4 1107.2L1132.1 1103.5L1136.1 1103.5M1139.1 1111.5L1137.9 1107.7L1141.9 1107.8M1144.7 1115.9L1143.6 1112.1L1147.6 1112.4" stroke="#e0e0e0" stroke-width="0.8" fill="none"/>
<path d="M864.5 1112.3L861.3 1108.4" stroke="#555" stroke-width="1.2"/><text transform="translate(860 1106.9) rotate(229.8)" font-size="13.2" fill="#8a8a8a" text-anchor="start" dy="0.35em">139296119</text>
<path d="M874.5 1104.3L871.5 1100.3" stroke="#555" stroke-width="1.2"/><text transform="translate(870.3 1098.7) rotate(233.1)" font-size="13.2" fill="#8a8a8a" text-anchor="start" dy="0.35em">3892</text>
<path d="M996.8 1060L996.6 1055" stroke="#555" stroke-width="1.2"/><text transform="translate(996.5 1053) rotate(267.1)" font-size="13.2" fill="#8a8a8a" text-anchor="start" dy="0.35em">1</text>
<path d="M1009.7 1059.7L1009.7 1054.7" stroke="#555" stroke-width="1.2"/><text transform="translate(1009.7 1052.7) rotate(-89.6)" font-size="13.2" fill="#8a8a8a" text-anchor="start" dy="0.35em">7905</text>
<path d="M1175 1135.1L1178.8 1131.8" stroke="#555" stroke-width="1.2"/><text transform="translate(1180.3 1130.4) rotate(-41.4)" font-size="13.2" fill="#8a8a8a" text-anchor="start" dy="0.35em">3310</text>
<path d="M1182.7 1144.3L1186.6 1141.2" stroke="#555" stroke-width="1.2"/><text transform="translate(1188.2 1140) rotate(-38.3)" font-size="13.2" fill="#8a8a8a" text-anchor="start" dy="0.35em">139294466</text>
<path d="M1103.9 1483L1106 1487.5" stroke="#555" stroke-width="1.2"/><text transform="translate(1106.9 1489.3) rotate(244.5)" font-size="13.2" fill="#8a8a8a" text-anchor="end" dy="0.35em">139284637</text>
<path d="M1092.5 1488.1L1094.4 1492.7" stroke="#555" stroke-width="1.2"/><text transform="translate(1095.2 1494.5) rotate(247.7)" font-size="13.2" fill="#8a8a8a" text-anchor="end" dy="0.35em">139311725</text>
<text transform="translate(895.3 1032.5) rotate(245.7)" font-size="21" fill="#000" text-anchor="start" dy="0.35em" font-style="italic">E1</text>
<text transform="translate(961 1012.3) rotate(260.1)" font-size="21" fill="#000" text-anchor="start" dy="0.35em" font-style="italic">E7</text>
<text transform="translate(985.6 1009.1) rotate(265.3)" font-size="21" fill="#000" text-anchor="start" dy="0.35em" font-style="italic">E6</text>
<text transform="translate(1059.4 1013.1) rotate(-79.2)" font-size="21" fill="#000" text-anchor="start" dy="0.35em" font-style="italic">L1</text>
<text transform="translate(1140.5 1042.3) rotate(-61.1)" font-size="21" fill="#000" text-anchor="start" dy="0.35em" font-style="italic">L2</text>
<text transform="translate(1189.3 1076.7) rotate(-48.6)" font-size="21" fill="#000" text-anchor="start" dy="0.35em" font-style="italic">E5</text>
<text transform="translate(1208.5 1095.3) rotate(-43)" font-size="21" fill="#000" text-anchor="start" dy="0.35em" font-style="italic">E2</text>
<text transform="translate(1211.7 1098.9) rotate(-42)" font-size="21" fill="#000" text-anchor="start" dy="0.35em" font-style="italic">E4</text>
<text transform="translate(767.4 1150.4) rotate(388.7)" font-size="20.4" fill="#000" text-anchor="end" dy="0.35em" font-style="italic" textLength="82.8" lengthAdjust="spacingAndGlyphs">NDUFC1</text>
<text transform="translate(944.4 1551.8) rotate(283.3)" font-size="20" fill="#000" text-anchor="end" dy="0.35em" font-style="italic" textLength="62" lengthAdjust="spacingAndGlyphs">NAA15</text>
<path d="M862.2 1086.1L915.7 1097.3L918.1 1076.7L937.3 1107.6L908.8 1126.3L912.7 1108.6L872 1100.3L864.7 1140.5L882.8 1144.4L853.4 1163.6L833.7 1135.1L852.4 1139.5Z" fill="none" stroke="#000" stroke-width="4" stroke-linejoin="miter"/>
<path d="M954.4 1022.8L994.2 1057.1L1006.5 1043.4L1007.9 1079.2L973.1 1081.6L985.8 1067.9L955.4 1039.4L882.8 1122.4L897.5 1134.6L861.7 1136.6L860.2 1101.3L873.5 1115.5Z" fill="none" stroke="#ffb900" stroke-width="4" stroke-linejoin="miter"/>
<text x="750" y="1198.7" font-size="72.5" fill="#000" textLength="76" lengthAdjust="spacingAndGlyphs" font-weight="bold">S1</text>
<text x="1244.6" y="1278" font-size="73" fill="#009093" textLength="87.5" lengthAdjust="spacingAndGlyphs" font-weight="bold">S2</text>
<rect x="1344" y="1391" width="31.7" height="11" fill="#ffe4c4"/>
<rect x="1344" y="1406.7" width="31.7" height="75.9" fill="#e5e5e5"/>
<path d="M1344 1415.8h31.7M1344 1430.1h31.7M1344 1444.3h31.7M1344 1458.4h31.7M1344 1472.7h31.7" stroke="#fff" stroke-width="1.1"/>
<path d="M1343.5 1405.9h32.7" stroke="#000" stroke-width="1.5"/>
<rect x="1284.8" y="1410.3" width="26.8" height="69.2" fill="#000"/>
<text transform="translate(1301.6 1444.9) rotate(-90)" font-size="11" fill="#fff" textLength="60.2" lengthAdjust="spacingAndGlyphs" text-anchor="middle" >Primary data</text>
<text transform="translate(1283.1 1444.9) rotate(-90)" font-size="11.7" fill="#000" textLength="32.1" lengthAdjust="spacingAndGlyphs" text-anchor="middle" >K27ac</text>
<text x="1339.6" y="1418.5" font-size="7.6" fill="#000" text-anchor="end">40.0</text>
<text x="1339.6" y="1432.8" font-size="7.6" fill="#000" text-anchor="end">30.0</text>
<text x="1339.6" y="1447" font-size="7.6" fill="#000" text-anchor="end">20.0</text>
<text x="1339.6" y="1461.1" font-size="7.6" fill="#000" text-anchor="end">10.0</text>
<text x="1339.6" y="1475.4" font-size="7.6" fill="#000" text-anchor="end">0.0</text>
<path d="M1344 1493.7h31.7M1344 1508h31.7M1344 1522.2h31.7M1344 1536.3h31.7M1344 1550.7h31.7" stroke="#c8c8c8" stroke-width="1.1"/>
<path d="M1343.5 1483.7h32.7" stroke="#000" stroke-width="1.5"/>
<rect x="1284.8" y="1488" width="26.8" height="69.4" fill="#000"/>
<text transform="translate(1301.6 1522.7) rotate(-90)" font-size="11" fill="#fff" textLength="60.2" lengthAdjust="spacingAndGlyphs" text-anchor="middle" >Primary data</text>
<text transform="translate(1283.1 1522.7) rotate(-90)" font-size="11.7" fill="#000" textLength="32.1" lengthAdjust="spacingAndGlyphs" text-anchor="middle" >K4me3</text>
<text x="1339.6" y="1496.4" font-size="7.6" fill="#000" text-anchor="end">55.0</text>
<text x="1339.6" y="1510.7" font-size="7.6" fill="#000" text-anchor="end">41.25</text>
<text x="1339.6" y="1524.9" font-size="7.6" fill="#000" text-anchor="end">27.5</text>
<text x="1339.6" y="1539" font-size="7.6" fill="#000" text-anchor="end">13.75</text>
<text x="1339.6" y="1553.4" font-size="7.6" fill="#000" text-anchor="end">0.0</text>
<rect x="1344" y="1562.7" width="31.7" height="77.2" fill="#e5e5e5"/>
<path d="M1344 1571.5h31.7M1344 1585.9h31.7M1344 1600.3h31.7M1344 1614.6h31.7M1344 1628.9h31.7" stroke="#fff" stroke-width="1.1"/>
<path d="M1343.5 1562h32.7" stroke="#000" stroke-width="1.5"/>
<rect x="1284.8" y="1566.3" width="26.8" height="69.2" fill="#000"/>
<text transform="translate(1301.6 1600.9) rotate(-90)" font-size="11" fill="#fff" textLength="55.4" lengthAdjust="spacingAndGlyphs" text-anchor="middle" >Primary data</text>
<text transform="translate(1283.1 1600.9) rotate(-90)" font-size="11.7" fill="#000" textLength="32.1" lengthAdjust="spacingAndGlyphs" text-anchor="middle" >K4me1</text>
<text x="1339.6" y="1574.2" font-size="7.6" fill="#000" text-anchor="end">8.0</text>
<text x="1339.6" y="1588.6" font-size="7.6" fill="#000" text-anchor="end">6.0</text>
<text x="1339.6" y="1603" font-size="7.6" fill="#000" text-anchor="end">4.0</text>
<text x="1339.6" y="1617.3" font-size="7.6" fill="#000" text-anchor="end">2.0</text>
<text x="1339.6" y="1631.6" font-size="7.6" fill="#000" text-anchor="end">0.0</text>
</svg></body></html>
